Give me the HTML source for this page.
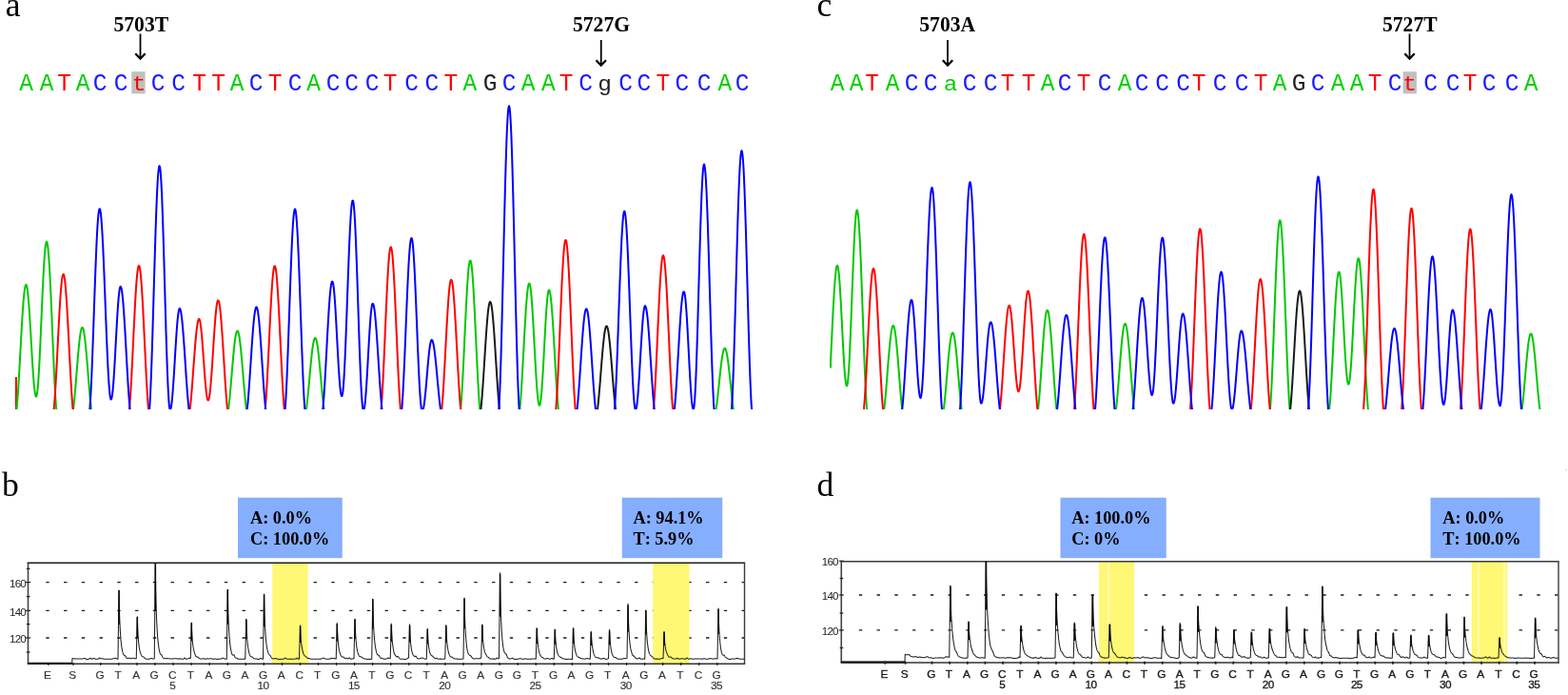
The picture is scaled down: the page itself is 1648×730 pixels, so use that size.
<!DOCTYPE html>
<html lang="en"><head><meta charset="utf-8"><title>Sequencing chromatograms and pyrograms</title>
<style>html,body{margin:0;padding:0;background:#fff}body{width:1648px;height:730px;overflow:hidden}svg{display:block}</style></head><body>
<svg width="1648" height="730" viewBox="0 0 1648 730">
<rect width="1648" height="730" fill="#fff"/>
<g font-family="'Liberation Serif', serif" font-size="35.6" fill="#000">
<text x="5.8" y="16.6">a</text><text x="858.6" y="16.6">c</text><text x="2" y="520.9">b</text><text x="858.6" y="520.9">d</text></g>
<g font-family="'Liberation Serif', serif" font-weight="bold" font-size="21.6" fill="#000">
<text transform="translate(119.50 33.3) scale(1 1.08)">5703T</text>
<text transform="translate(602.00 33.3) scale(1 1.08)">5727G</text>
<text transform="translate(966.30 33.3) scale(1 1.08)">5703A</text>
<text transform="translate(1453.00 33.3) scale(1 1.08)">5727T</text>
</g>
<path d="M147.50 35.50 V61.50" fill="none" stroke="#000" stroke-width="1.8"/><path d="M142.30 56.30 L147.50 61.70 L152.70 56.30" fill="none" stroke="#000" stroke-width="2.3"/>
<path d="M631.75 42.00 V68.50" fill="none" stroke="#000" stroke-width="1.8"/><path d="M626.55 63.30 L631.75 68.70 L636.95 63.30" fill="none" stroke="#000" stroke-width="2.3"/>
<path d="M996.00 42.00 V68.50" fill="none" stroke="#000" stroke-width="1.8"/><path d="M990.80 63.30 L996.00 68.70 L1001.20 63.30" fill="none" stroke="#000" stroke-width="2.3"/>
<path d="M1481.50 35.50 V61.50" fill="none" stroke="#000" stroke-width="1.8"/><path d="M1476.30 56.30 L1481.50 61.70 L1486.70 56.30" fill="none" stroke="#000" stroke-width="2.3"/>
<rect x="138.3" y="75.2" width="14.3" height="23.2" fill="#c0c0c0"/>
<rect x="1474.6" y="75.2" width="14.3" height="23.2" fill="#c0c0c0"/>
<g font-family="'Liberation Mono', monospace" font-size="25.0" text-anchor="middle">
<text transform="translate(27.50 95.20) scale(0.98 1.0)" fill="#00d000">A</text>
<text transform="translate(49.00 95.20) scale(0.98 1.0)" fill="#00d000">A</text>
<text transform="translate(67.50 95.20) scale(0.98 1.0)" fill="#ff0000">T</text>
<text transform="translate(87.00 95.20) scale(0.98 1.0)" fill="#00d000">A</text>
<text transform="translate(105.00 95.20) scale(0.98 1.0)" fill="#1a1aff">C</text>
<text transform="translate(127.00 95.20) scale(0.98 1.0)" fill="#1a1aff">C</text>
<text transform="translate(146.00 95.20) scale(0.98 0.85)" fill="#ff0000">t</text>
<text transform="translate(166.00 95.20) scale(0.98 1.0)" fill="#1a1aff">C</text>
<text transform="translate(187.50 95.20) scale(0.98 1.0)" fill="#1a1aff">C</text>
<text transform="translate(209.50 95.20) scale(0.98 1.0)" fill="#ff0000">T</text>
<text transform="translate(229.50 95.20) scale(0.98 1.0)" fill="#ff0000">T</text>
<text transform="translate(249.00 95.20) scale(0.98 1.0)" fill="#00d000">A</text>
<text transform="translate(269.00 95.20) scale(0.98 1.0)" fill="#1a1aff">C</text>
<text transform="translate(289.00 95.20) scale(0.98 1.0)" fill="#ff0000">T</text>
<text transform="translate(310.00 95.20) scale(0.98 1.0)" fill="#1a1aff">C</text>
<text transform="translate(329.50 95.20) scale(0.98 1.0)" fill="#00d000">A</text>
<text transform="translate(350.00 95.20) scale(0.98 1.0)" fill="#1a1aff">C</text>
<text transform="translate(369.50 95.20) scale(0.98 1.0)" fill="#1a1aff">C</text>
<text transform="translate(391.00 95.20) scale(0.98 1.0)" fill="#1a1aff">C</text>
<text transform="translate(410.00 95.20) scale(0.98 1.0)" fill="#ff0000">T</text>
<text transform="translate(432.50 95.20) scale(0.98 1.0)" fill="#1a1aff">C</text>
<text transform="translate(453.75 95.20) scale(0.98 1.0)" fill="#1a1aff">C</text>
<text transform="translate(473.75 95.20) scale(0.98 1.0)" fill="#ff0000">T</text>
<text transform="translate(493.75 95.20) scale(0.98 1.0)" fill="#00d000">A</text>
<text transform="translate(515.00 95.20) scale(0.98 1.0)" fill="#222222">G</text>
<text transform="translate(535.00 95.20) scale(0.98 1.0)" fill="#1a1aff">C</text>
<text transform="translate(555.00 95.20) scale(0.98 1.0)" fill="#00d000">A</text>
<text transform="translate(576.25 95.20) scale(0.98 1.0)" fill="#00d000">A</text>
<text transform="translate(595.00 95.20) scale(0.98 1.0)" fill="#ff0000">T</text>
<text transform="translate(615.50 95.20) scale(0.98 1.0)" fill="#1a1aff">C</text>
<text transform="translate(635.50 95.20) scale(0.98 0.85)" fill="#222222">g</text>
<text transform="translate(657.50 95.20) scale(0.98 1.0)" fill="#1a1aff">C</text>
<text transform="translate(676.75 95.20) scale(0.98 1.0)" fill="#1a1aff">C</text>
<text transform="translate(696.75 95.20) scale(0.98 1.0)" fill="#ff0000">T</text>
<text transform="translate(716.75 95.20) scale(0.98 1.0)" fill="#1a1aff">C</text>
<text transform="translate(740.00 95.20) scale(0.98 1.0)" fill="#1a1aff">C</text>
<text transform="translate(761.75 95.20) scale(0.98 1.0)" fill="#00d000">A</text>
<text transform="translate(780.00 95.20) scale(0.98 1.0)" fill="#1a1aff">C</text>
</g>
<g font-family="'Liberation Mono', monospace" font-size="25.0" text-anchor="middle">
<text transform="translate(880.00 95.20) scale(0.98 1.0)" fill="#00d000">A</text>
<text transform="translate(900.00 95.20) scale(0.98 1.0)" fill="#00d000">A</text>
<text transform="translate(916.50 95.20) scale(0.98 1.0)" fill="#ff0000">T</text>
<text transform="translate(938.00 95.20) scale(0.98 1.0)" fill="#00d000">A</text>
<text transform="translate(958.00 95.20) scale(0.98 1.0)" fill="#1a1aff">C</text>
<text transform="translate(978.00 95.20) scale(0.98 1.0)" fill="#1a1aff">C</text>
<text transform="translate(999.00 95.20) scale(0.98 0.85)" fill="#00d000">a</text>
<text transform="translate(1019.00 95.20) scale(0.98 1.0)" fill="#1a1aff">C</text>
<text transform="translate(1041.00 95.20) scale(0.98 1.0)" fill="#1a1aff">C</text>
<text transform="translate(1059.00 95.20) scale(0.98 1.0)" fill="#ff0000">T</text>
<text transform="translate(1081.00 95.20) scale(0.98 1.0)" fill="#ff0000">T</text>
<text transform="translate(1101.00 95.20) scale(0.98 1.0)" fill="#00d000">A</text>
<text transform="translate(1119.00 95.20) scale(0.98 1.0)" fill="#1a1aff">C</text>
<text transform="translate(1139.00 95.20) scale(0.98 1.0)" fill="#ff0000">T</text>
<text transform="translate(1161.00 95.20) scale(0.98 1.0)" fill="#1a1aff">C</text>
<text transform="translate(1182.00 95.20) scale(0.98 1.0)" fill="#00d000">A</text>
<text transform="translate(1200.00 95.20) scale(0.98 1.0)" fill="#1a1aff">C</text>
<text transform="translate(1221.50 95.20) scale(0.98 1.0)" fill="#1a1aff">C</text>
<text transform="translate(1243.50 95.20) scale(0.98 1.0)" fill="#1a1aff">C</text>
<text transform="translate(1260.00 95.20) scale(0.98 1.0)" fill="#ff0000">T</text>
<text transform="translate(1282.00 95.20) scale(0.98 1.0)" fill="#1a1aff">C</text>
<text transform="translate(1305.00 95.20) scale(0.98 1.0)" fill="#1a1aff">C</text>
<text transform="translate(1325.00 95.20) scale(0.98 1.0)" fill="#ff0000">T</text>
<text transform="translate(1345.00 95.20) scale(0.98 1.0)" fill="#00d000">A</text>
<text transform="translate(1365.00 95.20) scale(0.98 1.0)" fill="#222222">G</text>
<text transform="translate(1385.00 95.20) scale(0.98 1.0)" fill="#1a1aff">C</text>
<text transform="translate(1406.00 95.20) scale(0.98 1.0)" fill="#00d000">A</text>
<text transform="translate(1426.00 95.20) scale(0.98 1.0)" fill="#00d000">A</text>
<text transform="translate(1445.00 95.20) scale(0.98 1.0)" fill="#ff0000">T</text>
<text transform="translate(1466.00 95.20) scale(0.98 1.0)" fill="#1a1aff">C</text>
<text transform="translate(1481.50 95.20) scale(0.98 0.85)" fill="#ff0000">t</text>
<text transform="translate(1503.50 95.20) scale(0.98 1.0)" fill="#1a1aff">C</text>
<text transform="translate(1527.00 95.20) scale(0.98 1.0)" fill="#1a1aff">C</text>
<text transform="translate(1545.00 95.20) scale(0.98 1.0)" fill="#ff0000">T</text>
<text transform="translate(1565.00 95.20) scale(0.98 1.0)" fill="#1a1aff">C</text>
<text transform="translate(1589.00 95.20) scale(0.98 1.0)" fill="#1a1aff">C</text>
<text transform="translate(1609.00 95.20) scale(0.98 1.0)" fill="#00d000">A</text>
</g>
<path d="M16.9 396 V430" stroke="#ff0000" stroke-width="2" fill="none"/>
<clipPath id="ca"><rect x="15.5" y="100" width="780.5" height="330.0"/></clipPath>
<g clip-path="url(#ca)">
<path d="M17.0 433.9 L17.5 429.6 L18.0 424.3 L18.5 418.0 L19.0 410.9 L19.5 403.1 L20.0 394.8 L20.5 386.0 L21.0 376.9 L21.5 367.7 L22.0 358.5 L22.5 349.5 L23.0 340.8 L23.5 332.7 L24.0 325.1 L24.5 318.4 L25.0 312.5 L25.5 307.5 L26.0 303.7 L26.5 300.9 L27.0 299.4 L27.5 299.0 L28.0 299.9 L28.5 302.1 L29.0 305.5 L29.5 310.0 L30.0 315.6 L30.5 322.1 L31.0 329.4 L31.5 337.3 L32.0 345.7 L32.5 354.3 L33.0 363.0 L33.5 371.6 L34.0 379.9 L34.5 387.7 L35.0 394.8 L35.5 401.2 L36.0 406.6 L36.5 410.9 L37.0 414.0 L37.5 416.0 L38.0 416.6 L38.5 415.8 L39.0 413.3 L39.5 409.2 L40.0 403.7 L40.5 396.7 L41.0 388.5 L41.5 379.2 L42.0 369.0 L42.5 358.2 L43.0 346.8 L43.5 335.2 L44.0 323.7 L44.5 312.3 L45.0 301.5 L45.5 291.3 L46.0 282.0 L46.5 273.8 L47.0 266.8 L47.5 261.3 L48.0 257.2 L48.5 254.7 L49.0 253.9 L49.5 254.7 L50.0 257.1 L50.5 261.0 L51.0 266.4 L51.5 273.1 L52.0 281.2 L52.5 290.3 L53.0 300.4 L53.5 311.3 L54.0 322.9 L54.5 334.8 L55.0 347.0 L55.5 359.1 L56.0 371.0 L56.5 382.6 L57.0 393.5 L57.5 403.6 L58.0 412.7 L58.5 420.8 L59.0 427.5 L59.5 432.9 L60.0 436.8 M76.5 433.6 L77.0 430.1 L77.5 425.9 L78.0 421.2 L78.5 416.0 L79.0 410.4 L79.5 404.4 L80.0 398.3 L80.5 392.0 L81.0 385.7 L81.5 379.6 L82.0 373.6 L82.5 368.0 L83.0 362.8 L83.5 358.1 L84.0 353.9 L84.5 350.4 L85.0 347.7 L85.5 345.6 L86.0 344.4 L86.5 344.0 L87.0 344.4 L87.5 345.6 L88.0 347.7 L88.5 350.4 L89.0 353.9 L89.5 358.1 L90.0 362.8 L90.5 368.0 L91.0 373.6 L91.5 379.6 L92.0 385.7 L92.5 392.0 L93.0 398.3 L93.5 404.4 L94.0 410.4 L94.5 416.0 L95.0 421.2 L95.5 425.9 L96.0 430.1 L96.5 433.6 M239.5 433.8 L240.0 430.4 L240.5 426.5 L241.0 421.9 L241.5 416.9 L242.0 411.4 L242.5 405.7 L243.0 399.8 L243.5 393.8 L244.0 387.7 L244.5 381.8 L245.0 376.1 L245.5 370.6 L246.0 365.6 L246.5 361.0 L247.0 357.1 L247.5 353.7 L248.0 351.0 L248.5 349.1 L249.0 347.9 L249.5 347.5 L250.0 347.9 L250.5 349.1 L251.0 351.0 L251.5 353.7 L252.0 357.1 L252.5 361.0 L253.0 365.6 L253.5 370.6 L254.0 376.1 L254.5 381.8 L255.0 387.7 L255.5 393.8 L256.0 399.8 L256.5 405.7 L257.0 411.4 L257.5 416.9 L258.0 421.9 L258.5 426.5 L259.0 430.4 L259.5 433.8 M321.0 435.6 L321.5 432.8 L322.0 429.5 L322.5 425.5 L323.0 421.1 L323.5 416.3 L324.0 411.2 L324.5 405.8 L325.0 400.3 L325.5 394.7 L326.0 389.2 L326.5 383.8 L327.0 378.7 L327.5 373.9 L328.0 369.5 L328.5 365.5 L329.0 362.2 L329.5 359.4 L330.0 357.3 L330.5 355.8 L331.0 355.1 L331.5 355.1 L332.0 355.8 L332.5 357.3 L333.0 359.4 L333.5 362.2 L334.0 365.5 L334.5 369.5 L335.0 373.9 L335.5 378.7 L336.0 383.8 L336.5 389.2 L337.0 394.7 L337.5 400.3 L338.0 405.8 L338.5 411.2 L339.0 416.3 L339.5 421.1 L340.0 425.5 L340.5 429.5 L341.0 432.8 L341.5 435.6 M483.5 435.6 L484.0 431.4 L484.5 426.0 L485.0 419.3 L485.5 411.6 L486.0 403.0 L486.5 393.6 L487.0 383.5 L487.5 373.0 L488.0 362.2 L488.5 351.3 L489.0 340.5 L489.5 330.0 L490.0 319.9 L490.5 310.5 L491.0 301.9 L491.5 294.2 L492.0 287.5 L492.5 282.1 L493.0 277.9 L493.5 275.1 L494.0 273.7 L494.5 273.7 L495.0 275.1 L495.5 277.9 L496.0 282.1 L496.5 287.5 L497.0 294.2 L497.5 301.9 L498.0 310.5 L498.5 319.9 L499.0 330.0 L499.5 340.5 L500.0 351.3 L500.5 362.2 L501.0 373.0 L501.5 383.5 L502.0 393.6 L502.5 403.0 L503.0 411.6 L503.5 419.3 L504.0 426.0 L504.5 431.4 L505.0 435.6 M545.5 436.2 L546.0 432.7 L546.5 428.0 L547.0 422.3 L547.5 415.7 L548.0 408.3 L548.5 400.3 L549.0 391.7 L549.5 382.7 L550.0 373.4 L550.5 364.1 L551.0 354.8 L551.5 345.8 L552.0 337.2 L552.5 329.2 L553.0 321.8 L553.5 315.2 L554.0 309.5 L554.5 304.8 L555.0 301.3 L555.5 298.9 L556.0 297.7 L556.5 297.7 L557.0 299.0 L557.5 301.7 L558.0 305.7 L558.5 310.9 L559.0 317.2 L559.5 324.4 L560.0 332.4 L560.5 341.0 L561.0 350.1 L561.5 359.4 L562.0 368.8 L562.5 378.0 L563.0 386.9 L563.5 395.2 L564.0 402.8 L564.5 409.6 L565.0 415.3 L565.5 419.9 L566.0 423.3 L566.5 425.3 L567.0 426.0 L567.5 425.3 L568.0 423.0 L568.5 419.4 L569.0 414.4 L569.5 408.2 L570.0 401.0 L570.5 392.8 L571.0 384.0 L571.5 374.8 L572.0 365.2 L572.5 355.7 L573.0 346.5 L573.5 337.7 L574.0 329.5 L574.5 322.3 L575.0 316.1 L575.5 311.1 L576.0 307.5 L576.5 305.2 L577.0 304.5 L577.5 305.1 L578.0 306.8 L578.5 309.7 L579.0 313.6 L579.5 318.5 L580.0 324.3 L580.5 331.0 L581.0 338.4 L581.5 346.3 L582.0 354.7 L582.5 363.4 L583.0 372.2 L583.5 381.1 L584.0 389.8 L584.5 398.2 L585.0 406.1 L585.5 413.5 L586.0 420.2 L586.5 426.0 L587.0 430.9 L587.5 434.8 M752.0 433.7 L752.5 430.8 L753.0 427.4 L753.5 423.5 L754.0 419.3 L754.5 414.8 L755.0 410.1 L755.5 405.3 L756.0 400.4 L756.5 395.6 L757.0 390.9 L757.5 386.5 L758.0 382.2 L758.5 378.4 L759.0 375.0 L759.5 372.0 L760.0 369.6 L760.5 367.7 L761.0 366.5 L761.5 365.8 L762.0 365.8 L762.5 366.5 L763.0 367.7 L763.5 369.6 L764.0 372.0 L764.5 375.0 L765.0 378.4 L765.5 382.2 L766.0 386.5 L766.5 390.9 L767.0 395.6 L767.5 400.4 L768.0 405.3 L768.5 410.1 L769.0 414.8 L769.5 419.3 L770.0 423.5 L770.5 427.4 L771.0 430.8 L771.5 433.7" fill="none" stroke="#00c800" stroke-width="2.0" stroke-linejoin="round"/>
<path d="M56.0 435.0 L56.5 430.8 L57.0 425.5 L57.5 419.1 L58.0 411.8 L58.5 403.7 L59.0 394.9 L59.5 385.6 L60.0 375.9 L60.5 366.0 L61.0 356.1 L61.5 346.3 L62.0 336.8 L62.5 327.7 L63.0 319.3 L63.5 311.7 L64.0 304.9 L64.5 299.2 L65.0 294.6 L65.5 291.1 L66.0 288.9 L66.5 288.0 L67.0 288.4 L67.5 290.1 L68.0 293.0 L68.5 297.2 L69.0 302.5 L69.5 308.9 L70.0 316.2 L70.5 324.3 L71.0 333.1 L71.5 342.4 L72.0 352.1 L72.5 362.0 L73.0 371.9 L73.5 381.7 L74.0 391.2 L74.5 400.3 L75.0 408.7 L75.5 416.3 L76.0 423.1 L76.5 428.8 L77.0 433.4 M135.5 433.9 L136.0 429.2 L136.5 423.4 L137.0 416.4 L137.5 408.5 L138.0 399.8 L138.5 390.3 L139.0 380.3 L139.5 370.0 L140.0 359.5 L140.5 349.0 L141.0 338.7 L141.5 328.7 L142.0 319.2 L142.5 310.5 L143.0 302.6 L143.5 295.6 L144.0 289.8 L144.5 285.1 L145.0 281.7 L145.5 279.7 L146.0 279.0 L146.5 279.7 L147.0 281.7 L147.5 285.1 L148.0 289.8 L148.5 295.6 L149.0 302.6 L149.5 310.5 L150.0 319.2 L150.5 328.7 L151.0 338.7 L151.5 349.0 L152.0 359.5 L152.5 370.0 L153.0 380.3 L153.5 390.3 L154.0 399.8 L154.5 408.5 L155.0 416.4 L155.5 423.4 L156.0 429.2 L156.5 433.9 M199.0 434.6 L199.5 431.2 L200.0 427.0 L200.5 422.1 L201.0 416.7 L201.5 410.7 L202.0 404.4 L202.5 397.7 L203.0 390.9 L203.5 384.1 L204.0 377.3 L204.5 370.6 L205.0 364.3 L205.5 358.3 L206.0 352.9 L206.5 348.0 L207.0 343.8 L207.5 340.4 L208.0 337.8 L208.5 336.0 L209.0 335.1 L209.5 335.1 L210.0 336.3 L210.5 338.6 L211.0 342.0 L211.5 346.3 L212.0 351.5 L212.5 357.4 L213.0 363.9 L213.5 370.7 L214.0 377.8 L214.5 384.8 L215.0 391.6 L215.5 398.1 L216.0 404.0 L216.5 409.2 L217.0 413.5 L217.5 416.9 L218.0 419.2 L218.5 420.4 L219.0 420.4 L219.5 419.2 L220.0 416.9 L220.5 413.5 L221.0 409.0 L221.5 403.7 L222.0 397.6 L222.5 390.8 L223.0 383.5 L223.5 375.8 L224.0 368.0 L224.5 360.2 L225.0 352.5 L225.5 345.2 L226.0 338.4 L226.5 332.3 L227.0 327.0 L227.5 322.5 L228.0 319.1 L228.5 316.8 L229.0 315.6 L229.5 315.6 L230.0 316.7 L230.5 318.8 L231.0 321.9 L231.5 326.0 L232.0 330.9 L232.5 336.7 L233.0 343.2 L233.5 350.2 L234.0 357.7 L234.5 365.6 L235.0 373.7 L235.5 381.8 L236.0 389.9 L236.5 397.8 L237.0 405.3 L237.5 412.3 L238.0 418.8 L238.5 424.6 L239.0 429.5 L239.5 433.6 M278.0 435.7 L278.5 431.7 L279.0 426.5 L279.5 420.1 L280.0 412.6 L280.5 404.3 L281.0 395.2 L281.5 385.5 L282.0 375.3 L282.5 364.9 L283.0 354.4 L283.5 343.9 L284.0 333.8 L284.5 324.1 L285.0 315.0 L285.5 306.6 L286.0 299.2 L286.5 292.8 L287.0 287.5 L287.5 283.5 L288.0 280.8 L288.5 279.4 L289.0 279.4 L289.5 280.8 L290.0 283.5 L290.5 287.5 L291.0 292.8 L291.5 299.2 L292.0 306.6 L292.5 315.0 L293.0 324.1 L293.5 333.8 L294.0 343.9 L294.5 354.4 L295.0 364.9 L295.5 375.3 L296.0 385.5 L296.5 395.2 L297.0 404.3 L297.5 412.6 L298.0 420.1 L298.5 426.5 L299.0 431.7 L299.5 435.7 M400.0 435.2 L400.5 430.7 L401.0 424.8 L401.5 417.6 L402.0 409.2 L402.5 399.9 L403.0 389.6 L403.5 378.7 L404.0 367.3 L404.5 355.6 L405.0 343.8 L405.5 332.1 L406.0 320.7 L406.5 309.8 L407.0 299.5 L407.5 290.2 L408.0 281.8 L408.5 274.6 L409.0 268.7 L409.5 264.2 L410.0 261.1 L410.5 259.6 L411.0 259.6 L411.5 261.1 L412.0 264.2 L412.5 268.7 L413.0 274.6 L413.5 281.8 L414.0 290.2 L414.5 299.5 L415.0 309.8 L415.5 320.7 L416.0 332.1 L416.5 343.8 L417.0 355.6 L417.5 367.3 L418.0 378.7 L418.5 389.6 L419.0 399.9 L419.5 409.2 L420.0 417.6 L420.5 424.8 L421.0 430.7 L421.5 435.2 M463.5 436.1 L464.0 432.5 L464.5 427.7 L465.0 421.9 L465.5 415.1 L466.0 407.5 L466.5 399.2 L467.0 390.4 L467.5 381.1 L468.0 371.7 L468.5 362.1 L469.0 352.6 L469.5 343.4 L470.0 334.5 L470.5 326.2 L471.0 318.7 L471.5 311.9 L472.0 306.1 L472.5 301.3 L473.0 297.6 L473.5 295.2 L474.0 293.9 L474.5 293.9 L475.0 295.2 L475.5 297.6 L476.0 301.3 L476.5 306.1 L477.0 311.9 L477.5 318.7 L478.0 326.2 L478.5 334.5 L479.0 343.4 L479.5 352.6 L480.0 362.1 L480.5 371.7 L481.0 381.1 L481.5 390.4 L482.0 399.2 L482.5 407.5 L483.0 415.1 L483.5 421.9 L484.0 427.7 L484.5 432.5 L485.0 436.1 M583.5 436.8 L584.0 432.8 L584.5 427.4 L585.0 420.6 L585.5 412.5 L586.0 403.2 L586.5 393.0 L587.0 382.0 L587.5 370.3 L588.0 358.3 L588.5 346.0 L589.0 333.7 L589.5 321.7 L590.0 310.0 L590.5 299.0 L591.0 288.8 L591.5 279.5 L592.0 271.4 L592.5 264.6 L593.0 259.2 L593.5 255.2 L594.0 252.8 L594.5 252.0 L595.0 252.8 L595.5 255.2 L596.0 259.2 L596.5 264.6 L597.0 271.4 L597.5 279.5 L598.0 288.8 L598.5 299.0 L599.0 310.0 L599.5 321.7 L600.0 333.7 L600.5 346.0 L601.0 358.3 L601.5 370.3 L602.0 382.0 L602.5 393.0 L603.0 403.2 L603.5 412.5 L604.0 420.6 L604.5 427.4 L605.0 432.8 L605.5 436.8 M686.5 433.5 L687.0 428.5 L687.5 422.3 L688.0 414.8 L688.5 406.4 L689.0 397.1 L689.5 387.0 L690.0 376.4 L690.5 365.3 L691.0 354.1 L691.5 342.9 L692.0 331.9 L692.5 321.3 L693.0 311.2 L693.5 301.8 L694.0 293.4 L694.5 286.0 L695.0 279.8 L695.5 274.8 L696.0 271.2 L696.5 269.0 L697.0 268.2 L697.5 269.0 L698.0 271.2 L698.5 274.8 L699.0 279.8 L699.5 286.0 L700.0 293.4 L700.5 301.8 L701.0 311.2 L701.5 321.3 L702.0 331.9 L702.5 342.9 L703.0 354.1 L703.5 365.3 L704.0 376.4 L704.5 387.0 L705.0 397.1 L705.5 406.4 L706.0 414.8 L706.5 422.3 L707.0 428.5 L707.5 433.5" fill="none" stroke="#ff0000" stroke-width="2.0" stroke-linejoin="round"/>
<path d="M505.0 433.3 L505.5 429.2 L506.0 424.2 L506.5 418.4 L507.0 412.0 L507.5 405.0 L508.0 397.5 L508.5 389.7 L509.0 381.7 L509.5 373.7 L510.0 365.7 L510.5 358.0 L511.0 350.6 L511.5 343.7 L512.0 337.3 L512.5 331.7 L513.0 326.9 L513.5 323.0 L514.0 320.0 L514.5 318.0 L515.0 317.1 L515.5 317.2 L516.0 318.3 L516.5 320.5 L517.0 323.7 L517.5 327.8 L518.0 332.8 L518.5 338.6 L519.0 345.0 L519.5 352.0 L520.0 359.5 L520.5 367.3 L521.0 375.3 L521.5 383.3 L522.0 391.3 L522.5 399.0 L523.0 406.4 L523.5 413.3 L524.0 419.7 L524.5 425.3 L525.0 430.1 L525.5 434.0 M627.5 433.5 L628.0 429.9 L628.5 425.7 L629.0 420.9 L629.5 415.6 L630.0 409.9 L630.5 403.9 L631.0 397.6 L631.5 391.2 L632.0 384.9 L632.5 378.6 L633.0 372.6 L633.5 366.9 L634.0 361.6 L634.5 356.8 L635.0 352.6 L635.5 349.0 L636.0 346.2 L636.5 344.2 L637.0 342.9 L637.5 342.5 L638.0 342.9 L638.5 344.2 L639.0 346.2 L639.5 349.0 L640.0 352.6 L640.5 356.8 L641.0 361.6 L641.5 366.9 L642.0 372.6 L642.5 378.6 L643.0 384.9 L643.5 391.2 L644.0 397.6 L644.5 403.9 L645.0 409.9 L645.5 415.6 L646.0 420.9 L646.5 425.7 L647.0 429.9 L647.5 433.5" fill="none" stroke="#1a1a1a" stroke-width="2.0" stroke-linejoin="round"/>
<path d="M94.0 433.7 L94.5 428.0 L95.0 420.6 L95.5 411.7 L96.0 401.3 L96.5 389.8 L97.0 377.2 L97.5 363.8 L98.0 349.8 L98.5 335.4 L99.0 321.0 L99.5 306.7 L100.0 292.8 L100.5 279.6 L101.0 267.1 L101.5 255.8 L102.0 245.7 L102.5 237.1 L103.0 230.0 L103.5 224.7 L104.0 221.1 L104.5 219.5 L105.0 219.6 L105.5 221.5 L106.0 225.0 L106.5 230.2 L107.0 236.9 L107.5 245.0 L108.0 254.4 L108.5 264.9 L109.0 276.3 L109.5 288.5 L110.0 301.2 L110.5 314.2 L111.0 327.3 L111.5 340.3 L112.0 352.9 L112.5 364.9 L113.0 376.2 L113.5 386.5 L114.0 395.6 L114.5 403.4 L115.0 409.8 L115.5 414.7 L116.0 417.9 L116.5 419.5 L117.0 419.3 L117.5 417.7 L118.0 414.7 L118.5 410.4 L119.0 404.8 L119.5 398.1 L120.0 390.5 L120.5 382.1 L121.0 373.2 L121.5 364.0 L122.0 354.7 L122.5 345.6 L123.0 336.7 L123.5 328.5 L124.0 321.1 L124.5 314.6 L125.0 309.3 L125.5 305.2 L126.0 302.4 L126.5 301.1 L127.0 301.2 L127.5 302.5 L128.0 305.0 L128.5 308.6 L129.0 313.2 L129.5 318.9 L130.0 325.4 L130.5 332.6 L131.0 340.6 L131.5 349.0 L132.0 357.8 L132.5 366.9 L133.0 376.0 L133.5 384.9 L134.0 393.7 L134.5 402.1 L135.0 409.9 L135.5 417.0 L136.0 423.3 L136.5 428.8 L137.0 433.2 M156.5 436.3 L157.0 431.2 L157.5 423.9 L158.0 414.6 L158.5 403.5 L159.0 390.8 L159.5 376.6 L160.0 361.2 L160.5 344.9 L161.0 327.9 L161.5 310.6 L162.0 293.3 L162.5 276.1 L163.0 259.5 L163.5 243.8 L164.0 229.1 L164.5 215.7 L165.0 203.9 L165.5 193.9 L166.0 185.8 L166.5 179.8 L167.0 175.9 L167.5 174.3 L168.0 175.1 L168.5 178.4 L169.0 184.1 L169.5 192.1 L170.0 202.2 L170.5 214.4 L171.0 228.3 L171.5 243.6 L172.0 260.1 L172.5 277.4 L173.0 295.2 L173.5 313.2 L174.0 330.9 L174.5 348.1 L175.0 364.4 L175.5 379.4 L176.0 393.0 L176.5 404.8 L177.0 414.5 L177.5 422.1 L178.0 427.3 L178.5 430.0 L179.0 430.4 L179.5 429.2 L180.0 426.8 L180.5 423.1 L181.0 418.3 L181.5 412.5 L182.0 405.8 L182.5 398.4 L183.0 390.5 L183.5 382.3 L184.0 373.9 L184.5 365.6 L185.0 357.6 L185.5 350.1 L186.0 343.3 L186.5 337.3 L187.0 332.3 L187.5 328.4 L188.0 325.7 L188.5 324.2 L189.0 324.1 L189.5 325.0 L190.0 326.8 L190.5 329.7 L191.0 333.4 L191.5 337.9 L192.0 343.2 L192.5 349.1 L193.0 355.7 L193.5 362.6 L194.0 369.9 L194.5 377.4 L195.0 385.0 L195.5 392.6 L196.0 399.9 L196.5 407.0 L197.0 413.6 L197.5 419.7 L198.0 425.1 L198.5 429.8 L199.0 433.7 M259.0 435.5 L259.5 432.1 L260.0 427.9 L260.5 422.8 L261.0 417.0 L261.5 410.6 L262.0 403.7 L262.5 396.5 L263.0 388.9 L263.5 381.2 L264.0 373.6 L264.5 366.0 L265.0 358.8 L265.5 351.9 L266.0 345.5 L266.5 339.7 L267.0 334.6 L267.5 330.4 L268.0 327.0 L268.5 324.5 L269.0 323.0 L269.5 322.5 L270.0 323.0 L270.5 324.5 L271.0 327.0 L271.5 330.4 L272.0 334.6 L272.5 339.7 L273.0 345.5 L273.5 351.9 L274.0 358.8 L274.5 366.0 L275.0 373.6 L275.5 381.2 L276.0 388.9 L276.5 396.5 L277.0 403.7 L277.5 410.6 L278.0 417.0 L278.5 422.8 L279.0 427.9 L279.5 432.1 L280.0 435.5 M299.0 436.2 L299.5 431.6 L300.0 425.2 L300.5 417.2 L301.0 407.7 L301.5 396.9 L302.0 384.9 L302.5 371.9 L303.0 358.3 L303.5 344.1 L304.0 329.8 L304.5 315.4 L305.0 301.2 L305.5 287.6 L306.0 274.6 L306.5 262.6 L307.0 251.8 L307.5 242.3 L308.0 234.3 L308.5 227.9 L309.0 223.3 L309.5 220.4 L310.0 219.5 L310.5 220.4 L311.0 223.3 L311.5 227.9 L312.0 234.3 L312.5 242.3 L313.0 251.8 L313.5 262.6 L314.0 274.6 L314.5 287.6 L315.0 301.2 L315.5 315.4 L316.0 329.8 L316.5 344.1 L317.0 358.3 L317.5 371.9 L318.0 384.9 L318.5 396.9 L319.0 407.7 L319.5 417.2 L320.0 425.2 L320.5 431.6 L321.0 436.2 M338.5 436.2 L339.0 432.5 L339.5 427.8 L340.0 422.1 L340.5 415.4 L341.0 407.9 L341.5 399.7 L342.0 391.0 L342.5 381.8 L343.0 372.5 L343.5 363.0 L344.0 353.7 L344.5 344.5 L345.0 335.8 L345.5 327.6 L346.0 320.1 L346.5 313.4 L347.0 307.7 L347.5 303.0 L348.0 299.3 L348.5 296.9 L349.0 295.7 L349.5 295.7 L350.0 297.2 L350.5 300.1 L351.0 304.4 L351.5 310.0 L352.0 316.7 L352.5 324.3 L353.0 332.8 L353.5 341.8 L354.0 351.1 L354.5 360.6 L355.0 370.0 L355.5 379.0 L356.0 387.4 L356.5 395.1 L357.0 401.8 L357.5 407.4 L358.0 411.7 L358.5 414.6 L359.0 416.1 L359.5 416.0 L360.0 414.1 L360.5 410.3 L361.0 404.7 L361.5 397.4 L362.0 388.6 L362.5 378.3 L363.0 366.8 L363.5 354.4 L364.0 341.1 L364.5 327.4 L365.0 313.4 L365.5 299.4 L366.0 285.6 L366.5 272.4 L367.0 259.9 L367.5 248.5 L368.0 238.2 L368.5 229.3 L369.0 222.0 L369.5 216.4 L370.0 212.7 L370.5 210.7 L371.0 210.8 L371.5 212.9 L372.0 217.2 L372.5 223.4 L373.0 231.6 L373.5 241.5 L374.0 252.9 L374.5 265.7 L375.0 279.5 L375.5 294.2 L376.0 309.3 L376.5 324.7 L377.0 340.0 L377.5 355.0 L378.0 369.3 L378.5 382.6 L379.0 394.7 L379.5 405.4 L380.0 414.5 L380.5 421.7 L381.0 427.0 L381.5 430.2 L382.0 431.2 L382.5 430.5 L383.0 428.4 L383.5 424.8 L384.0 420.0 L384.5 414.0 L385.0 407.0 L385.5 399.1 L386.0 390.6 L386.5 381.8 L387.0 372.7 L387.5 363.7 L388.0 355.1 L388.5 346.9 L389.0 339.4 L389.5 332.9 L390.0 327.5 L390.5 323.3 L391.0 320.4 L391.5 318.9 L392.0 318.9 L392.5 319.9 L393.0 322.0 L393.5 325.0 L394.0 329.0 L394.5 333.8 L395.0 339.4 L395.5 345.7 L396.0 352.6 L396.5 359.9 L397.0 367.5 L397.5 375.4 L398.0 383.3 L398.5 391.2 L399.0 398.9 L399.5 406.2 L400.0 413.1 L400.5 419.3 L401.0 425.0 L401.5 429.8 L402.0 433.7 M421.5 436.8 L422.0 432.8 L422.5 427.3 L423.0 420.4 L423.5 412.2 L424.0 402.8 L424.5 392.5 L425.0 381.4 L425.5 369.6 L426.0 357.4 L426.5 345.0 L427.0 332.6 L427.5 320.4 L428.0 308.6 L428.5 297.5 L429.0 287.2 L429.5 277.8 L430.0 269.6 L430.5 262.7 L431.0 257.2 L431.5 253.2 L432.0 250.8 L432.5 250.0 L433.0 250.9 L433.5 253.5 L434.0 257.9 L434.5 263.8 L435.0 271.3 L435.5 280.1 L436.0 290.1 L436.5 301.1 L437.0 312.9 L437.5 325.2 L438.0 337.8 L438.5 350.5 L439.0 363.0 L439.5 375.1 L440.0 386.5 L440.5 397.0 L441.0 406.5 L441.5 414.6 L442.0 421.3 L442.5 426.5 L443.0 430.0 L443.5 431.8 L444.0 431.9 L444.5 431.0 L445.0 429.1 L445.5 426.5 L446.0 423.0 L446.5 418.9 L447.0 414.1 L447.5 408.9 L448.0 403.3 L448.5 397.4 L449.0 391.6 L449.5 385.7 L450.0 380.1 L450.5 374.9 L451.0 370.1 L451.5 366.0 L452.0 362.5 L452.5 359.9 L453.0 358.0 L453.5 357.1 L454.0 357.1 L454.5 357.8 L455.0 359.2 L455.5 361.3 L456.0 364.0 L456.5 367.3 L457.0 371.1 L457.5 375.4 L458.0 380.1 L458.5 385.2 L459.0 390.4 L459.5 395.8 L460.0 401.2 L460.5 406.6 L461.0 411.8 L461.5 416.9 L462.0 421.6 L462.5 425.9 L463.0 429.7 L463.5 433.0 M524.0 434.4 L524.5 427.5 L525.0 418.0 L525.5 406.0 L526.0 391.9 L526.5 375.7 L527.0 357.8 L527.5 338.5 L528.0 318.2 L528.5 297.1 L529.0 275.6 L529.5 254.2 L530.0 233.1 L530.5 212.7 L531.0 193.4 L531.5 175.6 L532.0 159.4 L532.5 145.2 L533.0 133.3 L533.5 123.8 L534.0 116.9 L534.5 112.7 L535.0 111.2 L535.5 112.7 L536.0 116.9 L536.5 123.8 L537.0 133.3 L537.5 145.2 L538.0 159.4 L538.5 175.6 L539.0 193.4 L539.5 212.7 L540.0 233.1 L540.5 254.2 L541.0 275.6 L541.5 297.1 L542.0 318.2 L542.5 338.5 L543.0 357.8 L543.5 375.7 L544.0 391.9 L544.5 406.0 L545.0 418.0 L545.5 427.5 L546.0 434.4 M606.0 434.0 L606.5 430.2 L607.0 425.6 L607.5 420.3 L608.0 414.3 L608.5 407.7 L609.0 400.7 L609.5 393.4 L610.0 385.9 L610.5 378.3 L611.0 370.8 L611.5 363.5 L612.0 356.5 L612.5 350.0 L613.0 344.0 L613.5 338.6 L614.0 334.0 L614.5 330.2 L615.0 327.3 L615.5 325.4 L616.0 324.4 L616.5 324.4 L617.0 325.4 L617.5 327.3 L618.0 330.2 L618.5 334.0 L619.0 338.6 L619.5 344.0 L620.0 350.0 L620.5 356.5 L621.0 363.5 L621.5 370.8 L622.0 378.3 L622.5 385.9 L623.0 393.4 L623.5 400.7 L624.0 407.7 L624.5 414.3 L625.0 420.3 L625.5 425.6 L626.0 430.2 L626.5 434.0 M645.5 434.2 L646.0 428.7 L646.5 421.6 L647.0 412.9 L647.5 402.8 L648.0 391.5 L648.5 379.1 L649.0 366.0 L649.5 352.2 L650.0 338.0 L650.5 323.7 L651.0 309.6 L651.5 295.8 L652.0 282.6 L652.5 270.2 L653.0 258.9 L653.5 248.8 L654.0 240.1 L654.5 233.0 L655.0 227.5 L655.5 223.8 L656.0 222.0 L656.5 222.0 L657.0 223.8 L657.5 227.5 L658.0 233.0 L658.5 240.1 L659.0 248.7 L659.5 258.7 L660.0 270.0 L660.5 282.2 L661.0 295.2 L661.5 308.8 L662.0 322.6 L662.5 336.6 L663.0 350.3 L663.5 363.6 L664.0 376.3 L664.5 388.0 L665.0 398.7 L665.5 408.0 L666.0 415.9 L666.5 422.2 L667.0 426.8 L667.5 429.6 L668.0 430.5 L668.5 429.8 L669.0 427.8 L669.5 424.5 L670.0 420.1 L670.5 414.5 L671.0 408.0 L671.5 400.7 L672.0 392.8 L672.5 384.4 L673.0 375.9 L673.5 367.3 L674.0 359.0 L674.5 351.1 L675.0 343.8 L675.5 337.2 L676.0 331.7 L676.5 327.2 L677.0 323.9 L677.5 321.9 L678.0 321.2 L678.5 321.8 L679.0 323.3 L679.5 325.8 L680.0 329.2 L680.5 333.5 L681.0 338.6 L681.5 344.5 L682.0 350.9 L682.5 357.9 L683.0 365.3 L683.5 372.9 L684.0 380.6 L684.5 388.4 L685.0 396.0 L685.5 403.3 L686.0 410.3 L686.5 416.8 L687.0 422.6 L687.5 427.7 L688.0 432.0 L688.5 435.5 M708.5 433.1 L709.0 428.7 L709.5 423.4 L710.0 417.2 L710.5 410.3 L711.0 402.7 L711.5 394.6 L712.0 386.2 L712.5 377.5 L713.0 368.8 L713.5 360.1 L714.0 351.6 L714.5 343.5 L715.0 336.0 L715.5 329.0 L716.0 322.8 L716.5 317.5 L717.0 313.1 L717.5 309.8 L718.0 307.5 L718.5 306.4 L719.0 306.4 L719.5 308.0 L720.0 311.0 L720.5 315.4 L721.0 321.1 L721.5 327.9 L722.0 335.8 L722.5 344.4 L723.0 353.7 L723.5 363.3 L724.0 373.0 L724.5 382.6 L725.0 391.8 L725.5 400.5 L726.0 408.3 L726.5 415.2 L727.0 420.9 L727.5 425.3 L728.0 428.3 L728.5 429.8 L729.0 429.7 L729.5 427.2 L730.0 422.2 L730.5 414.9 L731.0 405.4 L731.5 393.9 L732.0 380.5 L732.5 365.6 L733.0 349.5 L733.5 332.4 L734.0 314.7 L734.5 296.8 L735.0 278.9 L735.5 261.5 L736.0 244.8 L736.5 229.3 L737.0 215.1 L737.5 202.6 L738.0 192.1 L738.5 183.6 L739.0 177.5 L739.5 173.8 L740.0 172.5 L740.5 173.6 L741.0 177.1 L741.5 182.7 L742.0 190.4 L742.5 200.1 L743.0 211.7 L743.5 224.8 L744.0 239.4 L744.5 255.1 L745.0 271.6 L745.5 288.8 L746.0 306.2 L746.5 323.7 L747.0 340.9 L747.5 357.4 L748.0 373.1 L748.5 387.7 L749.0 400.8 L749.5 412.4 L750.0 422.1 L750.5 429.8 L751.0 435.4 M768.5 435.2 L769.0 429.3 L769.5 421.1 L770.0 410.9 L770.5 398.7 L771.0 384.9 L771.5 369.6 L772.0 353.0 L772.5 335.6 L773.0 317.5 L773.5 299.1 L774.0 280.7 L774.5 262.7 L775.0 245.2 L775.5 228.7 L776.0 213.4 L776.5 199.5 L777.0 187.4 L777.5 177.1 L778.0 169.0 L778.5 163.1 L779.0 159.5 L779.5 158.2 L780.0 159.5 L780.5 163.1 L781.0 169.0 L781.5 177.1 L782.0 187.4 L782.5 199.5 L783.0 213.4 L783.5 228.7 L784.0 245.2 L784.5 262.7 L785.0 280.7 L785.5 299.1 L786.0 317.5 L786.5 335.6 L787.0 353.0 L787.5 369.6 L788.0 384.9 L788.5 398.7 L789.0 410.9 L789.5 421.1 L790.0 429.3 L790.5 435.2" fill="none" stroke="#0000ff" stroke-width="2.0" stroke-linejoin="round"/>
</g>
<path d="M873 378 V386.4" stroke="#00c800" stroke-width="2" fill="none"/>
<clipPath id="cc"><rect x="871.0" y="100" width="751.0" height="330.0"/></clipPath>
<g clip-path="url(#cc)">
<path d="M873.0 380.2 L873.5 369.9 L874.0 359.4 L874.5 348.9 L875.0 338.5 L875.5 328.5 L876.0 319.1 L876.5 310.3 L877.0 302.4 L877.5 295.4 L878.0 289.6 L878.5 284.9 L879.0 281.5 L879.5 279.4 L880.0 278.8 L880.5 279.5 L881.0 281.9 L881.5 285.7 L882.0 290.9 L882.5 297.3 L883.0 304.9 L883.5 313.4 L884.0 322.5 L884.5 332.2 L885.0 342.1 L885.5 352.0 L886.0 361.7 L886.5 370.9 L887.0 379.4 L887.5 386.9 L888.0 393.4 L888.5 398.6 L889.0 402.4 L889.5 404.7 L890.0 405.5 L890.5 404.5 L891.0 401.6 L891.5 396.8 L892.0 390.1 L892.5 381.9 L893.0 372.2 L893.5 361.2 L894.0 349.2 L894.5 336.4 L895.0 323.1 L895.5 309.6 L896.0 296.2 L896.5 283.1 L897.0 270.7 L897.5 259.2 L898.0 248.8 L898.5 239.8 L899.0 232.3 L899.5 226.6 L900.0 222.7 L900.5 220.7 L901.0 220.7 L901.5 222.6 L902.0 226.3 L902.5 231.8 L903.0 239.0 L903.5 247.7 L904.0 257.9 L904.5 269.3 L905.0 281.7 L905.5 295.0 L906.0 308.8 L906.5 323.1 L907.0 337.4 L907.5 351.7 L908.0 365.5 L908.5 378.8 L909.0 391.2 L909.5 402.6 L910.0 412.8 L910.5 421.5 L911.0 428.7 L911.5 434.2 M928.5 434.9 L929.0 431.7 L929.5 427.8 L930.0 423.3 L930.5 418.2 L931.0 412.7 L931.5 406.8 L932.0 400.6 L932.5 394.2 L933.0 387.8 L933.5 381.4 L934.0 375.2 L934.5 369.3 L935.0 363.8 L935.5 358.7 L936.0 354.2 L936.5 350.3 L937.0 347.1 L937.5 344.6 L938.0 342.9 L938.5 342.1 L939.0 342.1 L939.5 342.9 L940.0 344.6 L940.5 347.1 L941.0 350.3 L941.5 354.2 L942.0 358.7 L942.5 363.8 L943.0 369.3 L943.5 375.2 L944.0 381.4 L944.5 387.8 L945.0 394.2 L945.5 400.6 L946.0 406.8 L946.5 412.7 L947.0 418.2 L947.5 423.3 L948.0 427.8 L948.5 431.7 L949.0 434.9 M991.0 435.3 L991.5 432.4 L992.0 428.8 L992.5 424.6 L993.0 419.9 L993.5 414.8 L994.0 409.3 L994.5 403.6 L995.0 397.7 L995.5 391.8 L996.0 385.9 L996.5 380.2 L997.0 374.7 L997.5 369.6 L998.0 364.9 L998.5 360.7 L999.0 357.1 L999.5 354.2 L1000.0 351.9 L1000.5 350.4 L1001.0 349.6 L1001.5 349.6 L1002.0 350.4 L1002.5 351.9 L1003.0 354.2 L1003.5 357.1 L1004.0 360.7 L1004.5 364.9 L1005.0 369.6 L1005.5 374.7 L1006.0 380.2 L1006.5 385.9 L1007.0 391.8 L1007.5 397.7 L1008.0 403.6 L1008.5 409.3 L1009.0 414.8 L1009.5 419.9 L1010.0 424.6 L1010.5 428.8 L1011.0 432.4 L1011.5 435.3 M1090.5 434.1 L1091.0 430.4 L1091.5 425.8 L1092.0 420.5 L1092.5 414.6 L1093.0 408.1 L1093.5 401.2 L1094.0 394.0 L1094.5 386.6 L1095.0 379.1 L1095.5 371.7 L1096.0 364.5 L1096.5 357.6 L1097.0 351.1 L1097.5 345.2 L1098.0 339.9 L1098.5 335.4 L1099.0 331.6 L1099.5 328.8 L1100.0 326.8 L1100.5 325.9 L1101.0 325.9 L1101.5 326.8 L1102.0 328.8 L1102.5 331.6 L1103.0 335.4 L1103.5 339.9 L1104.0 345.2 L1104.5 351.1 L1105.0 357.6 L1105.5 364.5 L1106.0 371.7 L1106.5 379.1 L1107.0 386.6 L1107.5 394.0 L1108.0 401.2 L1108.5 408.1 L1109.0 414.6 L1109.5 420.5 L1110.0 425.8 L1110.5 430.4 L1111.0 434.1 M1172.5 433.3 L1173.0 429.7 L1173.5 425.4 L1174.0 420.4 L1174.5 415.0 L1175.0 409.1 L1175.5 402.9 L1176.0 396.5 L1176.5 390.0 L1177.0 383.5 L1177.5 377.1 L1178.0 370.9 L1178.5 365.0 L1179.0 359.6 L1179.5 354.6 L1180.0 350.3 L1180.5 346.7 L1181.0 343.8 L1181.5 341.7 L1182.0 340.4 L1182.5 340.0 L1183.0 340.4 L1183.5 341.7 L1184.0 343.8 L1184.5 346.7 L1185.0 350.3 L1185.5 354.6 L1186.0 359.6 L1186.5 365.0 L1187.0 370.9 L1187.5 377.1 L1188.0 383.5 L1188.5 390.0 L1189.0 396.5 L1189.5 402.9 L1190.0 409.1 L1190.5 415.0 L1191.0 420.4 L1191.5 425.4 L1192.0 429.7 L1192.5 433.3 M1334.5 434.5 L1335.0 429.2 L1335.5 422.4 L1336.0 414.1 L1336.5 404.4 L1337.0 393.6 L1337.5 381.8 L1338.0 369.2 L1338.5 356.0 L1339.0 342.5 L1339.5 328.8 L1340.0 315.3 L1340.5 302.1 L1341.0 289.5 L1341.5 277.6 L1342.0 266.8 L1342.5 257.2 L1343.0 248.8 L1343.5 242.0 L1344.0 236.8 L1344.5 233.3 L1345.0 231.5 L1345.5 231.5 L1346.0 233.3 L1346.5 236.8 L1347.0 242.0 L1347.5 248.8 L1348.0 257.2 L1348.5 266.8 L1349.0 277.6 L1349.5 289.5 L1350.0 302.1 L1350.5 315.3 L1351.0 328.8 L1351.5 342.5 L1352.0 356.0 L1352.5 369.2 L1353.0 381.8 L1353.5 393.6 L1354.0 404.4 L1354.5 414.1 L1355.0 422.4 L1355.5 429.2 L1356.0 434.5 M1396.5 435.9 L1397.0 432.0 L1397.5 427.0 L1398.0 420.8 L1398.5 413.7 L1399.0 405.7 L1399.5 396.9 L1400.0 387.6 L1400.5 377.8 L1401.0 367.8 L1401.5 357.7 L1402.0 347.7 L1402.5 337.9 L1403.0 328.6 L1403.5 319.8 L1404.0 311.8 L1404.5 304.7 L1405.0 298.5 L1405.5 293.5 L1406.0 289.6 L1406.5 287.0 L1407.0 285.7 L1407.5 285.7 L1408.0 287.1 L1408.5 290.0 L1409.0 294.2 L1409.5 299.7 L1410.0 306.2 L1410.5 313.7 L1411.0 322.0 L1411.5 330.8 L1412.0 340.0 L1412.5 349.3 L1413.0 358.4 L1413.5 367.3 L1414.0 375.5 L1414.5 383.0 L1415.0 389.6 L1415.5 395.0 L1416.0 399.2 L1416.5 402.1 L1417.0 403.6 L1417.5 403.6 L1418.0 402.1 L1418.5 399.2 L1419.0 394.9 L1419.5 389.3 L1420.0 382.6 L1420.5 374.8 L1421.0 366.2 L1421.5 357.0 L1422.0 347.4 L1422.5 337.5 L1423.0 327.6 L1423.5 318.0 L1424.0 308.8 L1424.5 300.2 L1425.0 292.4 L1425.5 285.7 L1426.0 280.1 L1426.5 275.8 L1427.0 272.9 L1427.5 271.4 L1428.0 271.4 L1428.5 272.9 L1429.0 275.7 L1429.5 280.0 L1430.0 285.5 L1430.5 292.2 L1431.0 300.0 L1431.5 308.7 L1432.0 318.3 L1432.5 328.5 L1433.0 339.2 L1433.5 350.1 L1434.0 361.1 L1434.5 372.1 L1435.0 382.7 L1435.5 392.9 L1436.0 402.5 L1436.5 411.3 L1437.0 419.1 L1437.5 425.8 L1438.0 431.3 L1438.5 435.5 M1599.0 434.0 L1599.5 430.8 L1600.0 426.9 L1600.5 422.5 L1601.0 417.6 L1601.5 412.4 L1602.0 406.8 L1602.5 401.1 L1603.0 395.2 L1603.5 389.4 L1604.0 383.7 L1604.5 378.1 L1605.0 372.9 L1605.5 368.0 L1606.0 363.6 L1606.5 359.7 L1607.0 356.5 L1607.5 353.9 L1608.0 352.0 L1608.5 350.9 L1609.0 350.5 L1609.5 350.9 L1610.0 352.0 L1610.5 353.9 L1611.0 356.5 L1611.5 359.7 L1612.0 363.6 L1612.5 368.0 L1613.0 372.9 L1613.5 378.1 L1614.0 383.7 L1614.5 389.4 L1615.0 395.2 L1615.5 401.1 L1616.0 406.8 L1616.5 412.4 L1617.0 417.6 L1617.5 422.5 L1618.0 426.9 L1618.5 430.8 L1619.0 434.0" fill="none" stroke="#00c800" stroke-width="2.0" stroke-linejoin="round"/>
<path d="M907.5 434.0 L908.0 429.4 L908.5 423.7 L909.0 416.9 L909.5 409.1 L910.0 400.5 L910.5 391.2 L911.0 381.4 L911.5 371.3 L912.0 361.0 L912.5 350.7 L913.0 340.6 L913.5 330.8 L914.0 321.5 L914.5 312.9 L915.0 305.1 L915.5 298.3 L916.0 292.6 L916.5 288.0 L917.0 284.7 L917.5 282.7 L918.0 282.0 L918.5 282.7 L919.0 284.7 L919.5 288.0 L920.0 292.6 L920.5 298.3 L921.0 305.1 L921.5 312.9 L922.0 321.5 L922.5 330.8 L923.0 340.6 L923.5 350.7 L924.0 361.0 L924.5 371.3 L925.0 381.4 L925.5 391.2 L926.0 400.5 L926.5 409.1 L927.0 416.9 L927.5 423.7 L928.0 429.4 L928.5 434.0 M1050.5 433.9 L1051.0 430.0 L1051.5 425.2 L1052.0 419.7 L1052.5 413.5 L1053.0 406.7 L1053.5 399.5 L1054.0 392.0 L1054.5 384.3 L1055.0 376.5 L1055.5 368.7 L1056.0 361.2 L1056.5 354.0 L1057.0 347.2 L1057.5 341.1 L1058.0 335.5 L1058.5 330.8 L1059.0 326.9 L1059.5 323.9 L1060.0 321.9 L1060.5 320.9 L1061.0 320.9 L1061.5 322.1 L1062.0 324.4 L1062.5 327.8 L1063.0 332.1 L1063.5 337.4 L1064.0 343.4 L1064.5 350.0 L1065.0 356.9 L1065.5 364.2 L1066.0 371.5 L1066.5 378.6 L1067.0 385.4 L1067.5 391.7 L1068.0 397.3 L1068.5 402.2 L1069.0 406.1 L1069.5 408.9 L1070.0 410.7 L1070.5 411.2 L1071.0 410.6 L1071.5 408.7 L1072.0 405.5 L1072.5 401.2 L1073.0 395.8 L1073.5 389.5 L1074.0 382.4 L1074.5 374.7 L1075.0 366.6 L1075.5 358.4 L1076.0 350.1 L1076.5 342.0 L1077.0 334.4 L1077.5 327.3 L1078.0 321.0 L1078.5 315.6 L1079.0 311.3 L1079.5 308.1 L1080.0 306.2 L1080.5 305.5 L1081.0 306.1 L1081.5 307.8 L1082.0 310.6 L1082.5 314.5 L1083.0 319.4 L1083.5 325.2 L1084.0 331.8 L1084.5 339.1 L1085.0 347.0 L1085.5 355.3 L1086.0 364.0 L1086.5 372.8 L1087.0 381.5 L1087.5 390.2 L1088.0 398.5 L1088.5 406.4 L1089.0 413.7 L1089.5 420.3 L1090.0 426.1 L1090.5 431.0 L1091.0 434.9 M1128.5 434.8 L1129.0 430.0 L1129.5 423.6 L1130.0 415.9 L1130.5 406.9 L1131.0 396.8 L1131.5 385.8 L1132.0 374.1 L1132.5 361.8 L1133.0 349.2 L1133.5 336.5 L1134.0 323.9 L1134.5 311.7 L1135.0 299.9 L1135.5 288.9 L1136.0 278.8 L1136.5 269.9 L1137.0 262.1 L1137.5 255.8 L1138.0 250.9 L1138.5 247.6 L1139.0 246.0 L1139.5 246.0 L1140.0 247.6 L1140.5 250.9 L1141.0 255.8 L1141.5 262.1 L1142.0 269.9 L1142.5 278.8 L1143.0 288.9 L1143.5 299.9 L1144.0 311.7 L1144.5 323.9 L1145.0 336.5 L1145.5 349.2 L1146.0 361.8 L1146.5 374.1 L1147.0 385.8 L1147.5 396.8 L1148.0 406.9 L1148.5 415.9 L1149.0 423.6 L1149.5 430.0 L1150.0 434.8 M1250.5 434.7 L1251.0 429.7 L1251.5 423.2 L1252.0 415.2 L1252.5 406.0 L1253.0 395.6 L1253.5 384.3 L1254.0 372.2 L1254.5 359.6 L1255.0 346.7 L1255.5 333.6 L1256.0 320.6 L1256.5 308.0 L1257.0 296.0 L1257.5 284.6 L1258.0 274.3 L1258.5 265.0 L1259.0 257.1 L1259.5 250.5 L1260.0 245.6 L1260.5 242.2 L1261.0 240.5 L1261.5 240.5 L1262.0 242.2 L1262.5 245.6 L1263.0 250.5 L1263.5 257.1 L1264.0 265.0 L1264.5 274.3 L1265.0 284.6 L1265.5 296.0 L1266.0 308.0 L1266.5 320.6 L1267.0 333.6 L1267.5 346.7 L1268.0 359.6 L1268.5 372.2 L1269.0 384.3 L1269.5 395.6 L1270.0 406.0 L1270.5 415.2 L1271.0 423.2 L1271.5 429.7 L1272.0 434.7 M1314.0 436.1 L1314.5 432.4 L1315.0 427.6 L1315.5 421.8 L1316.0 415.0 L1316.5 407.3 L1317.0 399.0 L1317.5 390.1 L1318.0 380.8 L1318.5 371.3 L1319.0 361.7 L1319.5 352.2 L1320.0 342.9 L1320.5 334.0 L1321.0 325.7 L1321.5 318.0 L1322.0 311.2 L1322.5 305.4 L1323.0 300.6 L1323.5 296.9 L1324.0 294.4 L1324.5 293.2 L1325.0 293.2 L1325.5 294.4 L1326.0 296.9 L1326.5 300.6 L1327.0 305.4 L1327.5 311.2 L1328.0 318.0 L1328.5 325.7 L1329.0 334.0 L1329.5 342.9 L1330.0 352.2 L1330.5 361.7 L1331.0 371.3 L1331.5 380.8 L1332.0 390.1 L1332.5 399.0 L1333.0 407.3 L1333.5 415.0 L1334.0 421.8 L1334.5 427.6 L1335.0 432.4 L1335.5 436.1 M1432.5 435.9 L1433.0 430.8 L1433.5 423.8 L1434.0 415.1 L1434.5 404.7 L1435.0 392.8 L1435.5 379.7 L1436.0 365.5 L1436.5 350.6 L1437.0 335.1 L1437.5 319.4 L1438.0 303.6 L1438.5 288.2 L1439.0 273.2 L1439.5 259.1 L1440.0 245.9 L1440.5 234.1 L1441.0 223.7 L1441.5 214.9 L1442.0 207.9 L1442.5 202.9 L1443.0 199.8 L1443.5 198.8 L1444.0 199.8 L1444.5 202.9 L1445.0 207.9 L1445.5 214.9 L1446.0 223.7 L1446.5 234.1 L1447.0 245.9 L1447.5 259.1 L1448.0 273.2 L1448.5 288.2 L1449.0 303.6 L1449.5 319.4 L1450.0 335.1 L1450.5 350.6 L1451.0 365.5 L1451.5 379.7 L1452.0 392.8 L1452.5 404.7 L1453.0 415.1 L1453.5 423.8 L1454.0 430.8 L1454.5 435.9 M1472.5 436.2 L1473.0 431.6 L1473.5 425.2 L1474.0 417.1 L1474.5 407.6 L1475.0 396.7 L1475.5 384.7 L1476.0 371.7 L1476.5 358.0 L1477.0 343.8 L1477.5 329.4 L1478.0 314.9 L1478.5 300.7 L1479.0 287.0 L1479.5 274.1 L1480.0 262.0 L1480.5 251.2 L1481.0 241.6 L1481.5 233.6 L1482.0 227.2 L1482.5 222.5 L1483.0 219.7 L1483.5 218.8 L1484.0 219.7 L1484.5 222.5 L1485.0 227.2 L1485.5 233.6 L1486.0 241.6 L1486.5 251.2 L1487.0 262.0 L1487.5 274.1 L1488.0 287.0 L1488.5 300.7 L1489.0 314.9 L1489.5 329.4 L1490.0 343.8 L1490.5 358.0 L1491.0 371.7 L1491.5 384.7 L1492.0 396.7 L1492.5 407.6 L1493.0 417.1 L1493.5 425.2 L1494.0 431.6 L1494.5 436.2 M1534.5 434.7 L1535.0 429.7 L1535.5 423.2 L1536.0 415.2 L1536.5 406.0 L1537.0 395.7 L1537.5 384.4 L1538.0 372.3 L1538.5 359.7 L1539.0 346.8 L1539.5 333.7 L1540.0 320.8 L1540.5 308.2 L1541.0 296.1 L1541.5 284.8 L1542.0 274.5 L1542.5 265.3 L1543.0 257.3 L1543.5 250.8 L1544.0 245.8 L1544.5 242.4 L1545.0 240.7 L1545.5 240.7 L1546.0 242.4 L1546.5 245.8 L1547.0 250.8 L1547.5 257.3 L1548.0 265.3 L1548.5 274.5 L1549.0 284.8 L1549.5 296.1 L1550.0 308.2 L1550.5 320.8 L1551.0 333.7 L1551.5 346.8 L1552.0 359.7 L1552.5 372.3 L1553.0 384.4 L1553.5 395.7 L1554.0 406.0 L1554.5 415.2 L1555.0 423.2 L1555.5 429.7 L1556.0 434.7" fill="none" stroke="#ff0000" stroke-width="2.0" stroke-linejoin="round"/>
<path d="M1355.5 434.9 L1356.0 431.0 L1356.5 426.1 L1357.0 420.3 L1357.5 413.7 L1358.0 406.4 L1358.5 398.5 L1359.0 390.2 L1359.5 381.5 L1360.0 372.8 L1360.5 364.0 L1361.0 355.3 L1361.5 347.0 L1362.0 339.1 L1362.5 331.8 L1363.0 325.2 L1363.5 319.4 L1364.0 314.5 L1364.5 310.6 L1365.0 307.8 L1365.5 306.1 L1366.0 305.5 L1366.5 306.1 L1367.0 307.8 L1367.5 310.6 L1368.0 314.5 L1368.5 319.4 L1369.0 325.2 L1369.5 331.8 L1370.0 339.1 L1370.5 347.0 L1371.0 355.3 L1371.5 364.0 L1372.0 372.8 L1372.5 381.5 L1373.0 390.2 L1373.5 398.5 L1374.0 406.4 L1374.5 413.7 L1375.0 420.3 L1375.5 426.1 L1376.0 431.0 L1376.5 434.9" fill="none" stroke="#1a1a1a" stroke-width="2.0" stroke-linejoin="round"/>
<path d="M947.5 435.2 L948.0 431.6 L948.5 427.1 L949.0 421.7 L949.5 415.5 L950.0 408.8 L950.5 401.4 L951.0 393.7 L951.5 385.7 L952.0 377.5 L952.5 369.3 L953.0 361.3 L953.5 353.6 L954.0 346.2 L954.5 339.5 L955.0 333.3 L955.5 327.9 L956.0 323.4 L956.5 319.8 L957.0 317.1 L957.5 315.5 L958.0 315.0 L958.5 315.7 L959.0 317.8 L959.5 321.2 L960.0 325.9 L960.5 331.6 L961.0 338.3 L961.5 345.8 L962.0 353.9 L962.5 362.2 L963.0 370.8 L963.5 379.1 L964.0 387.2 L964.5 394.7 L965.0 401.4 L965.5 407.1 L966.0 411.8 L966.5 415.2 L967.0 417.3 L967.5 418.0 L968.0 417.1 L968.5 414.2 L969.0 409.6 L969.5 403.2 L970.0 395.2 L970.5 385.6 L971.0 374.8 L971.5 362.8 L972.0 349.8 L972.5 336.1 L973.0 321.9 L973.5 307.5 L974.0 293.1 L974.5 278.9 L975.0 265.2 L975.5 252.3 L976.0 240.2 L976.5 229.4 L977.0 219.8 L977.5 211.8 L978.0 205.4 L978.5 200.8 L979.0 197.9 L979.5 197.0 L980.0 198.0 L980.5 201.1 L981.0 206.2 L981.5 213.3 L982.0 222.1 L982.5 232.6 L983.0 244.5 L983.5 257.8 L984.0 272.0 L984.5 287.1 L985.0 302.6 L985.5 318.5 L986.0 334.4 L986.5 349.9 L987.0 365.0 L987.5 379.2 L988.0 392.5 L988.5 404.4 L989.0 414.9 L989.5 423.7 L990.0 430.8 L990.5 435.9 M1008.5 435.8 L1009.0 430.5 L1009.5 423.3 L1010.0 414.3 L1010.5 403.6 L1011.0 391.3 L1011.5 377.8 L1012.0 363.2 L1012.5 347.8 L1013.0 331.9 L1013.5 315.6 L1014.0 299.4 L1014.5 283.4 L1015.0 268.0 L1015.5 253.4 L1016.0 239.9 L1016.5 227.7 L1017.0 217.0 L1017.5 207.9 L1018.0 200.7 L1018.5 195.5 L1019.0 192.3 L1019.5 191.2 L1020.0 192.3 L1020.5 195.4 L1021.0 200.5 L1021.5 207.5 L1022.0 216.3 L1022.5 226.7 L1023.0 238.5 L1023.5 251.6 L1024.0 265.7 L1024.5 280.6 L1025.0 295.9 L1025.5 311.4 L1026.0 326.8 L1026.5 341.9 L1027.0 356.4 L1027.5 370.1 L1028.0 382.6 L1028.5 393.7 L1029.0 403.3 L1029.5 411.3 L1030.0 417.3 L1030.5 421.4 L1031.0 423.5 L1031.5 423.6 L1032.0 422.6 L1032.5 420.5 L1033.0 417.5 L1033.5 413.5 L1034.0 408.8 L1034.5 403.3 L1035.0 397.4 L1035.5 391.0 L1036.0 384.4 L1036.5 377.6 L1037.0 371.0 L1037.5 364.6 L1038.0 358.7 L1038.5 353.2 L1039.0 348.5 L1039.5 344.5 L1040.0 341.5 L1040.5 339.4 L1041.0 338.4 L1041.5 338.4 L1042.0 339.2 L1042.5 340.9 L1043.0 343.5 L1043.5 346.8 L1044.0 350.9 L1044.5 355.6 L1045.0 360.9 L1045.5 366.6 L1046.0 372.8 L1046.5 379.2 L1047.0 385.8 L1047.5 392.5 L1048.0 399.1 L1048.5 405.5 L1049.0 411.6 L1049.5 417.4 L1050.0 422.7 L1050.5 427.4 L1051.0 431.4 L1051.5 434.8 M1110.5 434.4 L1111.0 430.8 L1111.5 426.4 L1112.0 421.4 L1112.5 415.7 L1113.0 409.5 L1113.5 402.9 L1114.0 396.0 L1114.5 388.9 L1115.0 381.8 L1115.5 374.7 L1116.0 367.8 L1116.5 361.2 L1117.0 355.0 L1117.5 349.4 L1118.0 344.3 L1118.5 340.0 L1119.0 336.4 L1119.5 333.6 L1120.0 331.8 L1120.5 330.9 L1121.0 330.9 L1121.5 331.8 L1122.0 333.6 L1122.5 336.4 L1123.0 340.0 L1123.5 344.3 L1124.0 349.4 L1124.5 355.0 L1125.0 361.2 L1125.5 367.8 L1126.0 374.7 L1126.5 381.8 L1127.0 388.9 L1127.5 396.0 L1128.0 402.9 L1128.5 409.5 L1129.0 415.7 L1129.5 421.4 L1130.0 426.4 L1130.5 430.8 L1131.0 434.4 M1150.5 434.9 L1151.0 430.2 L1151.5 423.9 L1152.0 416.3 L1152.5 407.5 L1153.0 397.6 L1153.5 386.8 L1154.0 375.3 L1154.5 363.2 L1155.0 350.9 L1155.5 338.4 L1156.0 326.0 L1156.5 314.0 L1157.0 302.4 L1157.5 291.6 L1158.0 281.7 L1158.5 272.9 L1159.0 265.3 L1159.5 259.1 L1160.0 254.3 L1160.5 251.1 L1161.0 249.5 L1161.5 249.5 L1162.0 251.1 L1162.5 254.3 L1163.0 259.1 L1163.5 265.3 L1164.0 272.9 L1164.5 281.7 L1165.0 291.6 L1165.5 302.4 L1166.0 314.0 L1166.5 326.0 L1167.0 338.4 L1167.5 350.9 L1168.0 363.2 L1168.5 375.3 L1169.0 386.8 L1169.5 397.6 L1170.0 407.5 L1170.5 416.3 L1171.0 423.9 L1171.5 430.2 L1172.0 434.9 M1190.0 435.2 L1190.5 431.5 L1191.0 426.9 L1191.5 421.4 L1192.0 415.2 L1192.5 408.2 L1193.0 400.8 L1193.5 392.9 L1194.0 384.8 L1194.5 376.5 L1195.0 368.2 L1195.5 360.1 L1196.0 352.2 L1196.5 344.8 L1197.0 337.8 L1197.5 331.6 L1198.0 326.1 L1198.5 321.5 L1199.0 317.8 L1199.5 315.2 L1200.0 313.5 L1200.5 313.0 L1201.0 313.6 L1201.5 315.4 L1202.0 318.3 L1202.5 322.3 L1203.0 327.3 L1203.5 333.1 L1204.0 339.6 L1204.5 346.8 L1205.0 354.3 L1205.5 362.0 L1206.0 369.8 L1206.5 377.5 L1207.0 384.9 L1207.5 391.7 L1208.0 397.9 L1208.5 403.3 L1209.0 407.8 L1209.5 411.3 L1210.0 413.7 L1210.5 414.9 L1211.0 414.8 L1211.5 413.1 L1212.0 409.8 L1212.5 404.9 L1213.0 398.5 L1213.5 390.8 L1214.0 381.8 L1214.5 371.9 L1215.0 361.2 L1215.5 349.8 L1216.0 338.2 L1216.5 326.3 L1217.0 314.7 L1217.5 303.3 L1218.0 292.6 L1218.5 282.7 L1219.0 273.7 L1219.5 266.0 L1220.0 259.6 L1220.5 254.7 L1221.0 251.4 L1221.5 249.7 L1222.0 249.7 L1222.5 251.3 L1223.0 254.5 L1223.5 259.3 L1224.0 265.4 L1224.5 273.0 L1225.0 281.6 L1225.5 291.4 L1226.0 301.9 L1226.5 313.1 L1227.0 324.8 L1227.5 336.6 L1228.0 348.5 L1228.5 360.1 L1229.0 371.3 L1229.5 381.9 L1230.0 391.6 L1230.5 400.3 L1231.0 407.8 L1231.5 414.0 L1232.0 418.7 L1232.5 421.9 L1233.0 423.5 L1233.5 423.6 L1234.0 422.4 L1234.5 420.2 L1235.0 416.8 L1235.5 412.5 L1236.0 407.2 L1236.5 401.2 L1237.0 394.7 L1237.5 387.6 L1238.0 380.3 L1238.5 372.9 L1239.0 365.6 L1239.5 358.6 L1240.0 352.0 L1240.5 346.0 L1241.0 340.8 L1241.5 336.4 L1242.0 333.1 L1242.5 330.8 L1243.0 329.6 L1243.5 329.6 L1244.0 330.6 L1244.5 332.4 L1245.0 335.2 L1245.5 338.8 L1246.0 343.2 L1246.5 348.3 L1247.0 354.1 L1247.5 360.3 L1248.0 367.0 L1248.5 374.0 L1249.0 381.1 L1249.5 388.4 L1250.0 395.5 L1250.5 402.5 L1251.0 409.2 L1251.5 415.4 L1252.0 421.2 L1252.5 426.3 L1253.0 430.7 L1253.5 434.3 M1273.0 434.1 L1273.5 429.7 L1274.0 424.0 L1274.5 417.4 L1275.0 409.8 L1275.5 401.4 L1276.0 392.3 L1276.5 382.8 L1277.0 372.9 L1277.5 362.8 L1278.0 352.7 L1278.5 342.8 L1279.0 333.3 L1279.5 324.2 L1280.0 315.8 L1280.5 308.2 L1281.0 301.6 L1281.5 295.9 L1282.0 291.5 L1282.5 288.2 L1283.0 286.3 L1283.5 285.6 L1284.0 286.3 L1284.5 288.4 L1285.0 291.8 L1285.5 296.6 L1286.0 302.5 L1286.5 309.5 L1287.0 317.4 L1287.5 326.1 L1288.0 335.5 L1288.5 345.3 L1289.0 355.3 L1289.5 365.3 L1290.0 375.3 L1290.5 384.8 L1291.0 393.9 L1291.5 402.3 L1292.0 409.7 L1292.5 416.2 L1293.0 421.5 L1293.5 425.6 L1294.0 428.4 L1294.5 429.8 L1295.0 429.9 L1295.5 428.9 L1296.0 426.9 L1296.5 423.9 L1297.0 420.1 L1297.5 415.5 L1298.0 410.3 L1298.5 404.5 L1299.0 398.4 L1299.5 392.0 L1300.0 385.5 L1300.5 379.1 L1301.0 373.0 L1301.5 367.2 L1302.0 362.0 L1302.5 357.4 L1303.0 353.6 L1303.5 350.6 L1304.0 348.6 L1304.5 347.6 L1305.0 347.6 L1305.5 348.4 L1306.0 350.0 L1306.5 352.3 L1307.0 355.3 L1307.5 359.0 L1308.0 363.3 L1308.5 368.1 L1309.0 373.3 L1309.5 378.9 L1310.0 384.7 L1310.5 390.7 L1311.0 396.8 L1311.5 402.8 L1312.0 408.6 L1312.5 414.2 L1313.0 419.4 L1313.5 424.2 L1314.0 428.5 L1314.5 432.2 L1315.0 435.2 M1374.5 435.7 L1375.0 430.3 L1375.5 423.0 L1376.0 413.7 L1376.5 402.7 L1377.0 390.2 L1377.5 376.4 L1378.0 361.4 L1378.5 345.7 L1379.0 329.4 L1379.5 312.8 L1380.0 296.1 L1380.5 279.8 L1381.0 264.1 L1381.5 249.1 L1382.0 235.3 L1382.5 222.8 L1383.0 211.8 L1383.5 202.5 L1384.0 195.2 L1384.5 189.8 L1385.0 186.6 L1385.5 185.5 L1386.0 186.6 L1386.5 189.8 L1387.0 195.2 L1387.5 202.5 L1388.0 211.8 L1388.5 222.8 L1389.0 235.3 L1389.5 249.1 L1390.0 264.1 L1390.5 279.8 L1391.0 296.1 L1391.5 312.8 L1392.0 329.4 L1392.5 345.7 L1393.0 361.4 L1393.5 376.4 L1394.0 390.2 L1394.5 402.7 L1395.0 413.7 L1395.5 423.0 L1396.0 430.3 L1396.5 435.7 M1455.5 433.6 L1456.0 430.2 L1456.5 426.1 L1457.0 421.4 L1457.5 416.2 L1458.0 410.7 L1458.5 404.8 L1459.0 398.7 L1459.5 392.5 L1460.0 386.3 L1460.5 380.2 L1461.0 374.3 L1461.5 368.8 L1462.0 363.6 L1462.5 358.9 L1463.0 354.8 L1463.5 351.4 L1464.0 348.6 L1464.5 346.6 L1465.0 345.4 L1465.5 345.0 L1466.0 345.4 L1466.5 346.6 L1467.0 348.6 L1467.5 351.4 L1468.0 354.8 L1468.5 358.9 L1469.0 363.6 L1469.5 368.8 L1470.0 374.3 L1470.5 380.2 L1471.0 386.3 L1471.5 392.5 L1472.0 398.7 L1472.5 404.8 L1473.0 410.7 L1473.5 416.2 L1474.0 421.4 L1474.5 426.1 L1475.0 430.2 L1475.5 433.6 M1495.0 433.5 L1495.5 428.6 L1496.0 422.4 L1496.5 415.0 L1497.0 406.6 L1497.5 397.4 L1498.0 387.3 L1498.5 376.8 L1499.0 365.8 L1499.5 354.7 L1500.0 343.6 L1500.5 332.6 L1501.0 322.1 L1501.5 312.1 L1502.0 302.8 L1502.5 294.4 L1503.0 287.0 L1503.5 280.8 L1504.0 275.9 L1504.5 272.3 L1505.0 270.1 L1505.5 269.4 L1506.0 270.1 L1506.5 272.2 L1507.0 275.6 L1507.5 280.3 L1508.0 286.1 L1508.5 293.1 L1509.0 301.1 L1509.5 309.8 L1510.0 319.2 L1510.5 329.2 L1511.0 339.4 L1511.5 349.8 L1512.0 360.1 L1512.5 370.3 L1513.0 379.9 L1513.5 389.1 L1514.0 397.4 L1514.5 404.9 L1515.0 411.3 L1515.5 416.6 L1516.0 420.7 L1516.5 423.4 L1517.0 424.8 L1517.5 424.8 L1518.0 423.5 L1518.5 420.8 L1519.0 416.9 L1519.5 411.9 L1520.0 405.8 L1520.5 398.9 L1521.0 391.4 L1521.5 383.4 L1522.0 375.2 L1522.5 367.1 L1523.0 359.1 L1523.5 351.6 L1524.0 344.7 L1524.5 338.6 L1525.0 333.6 L1525.5 329.7 L1526.0 327.0 L1526.5 325.7 L1527.0 325.6 L1527.5 326.6 L1528.0 328.5 L1528.5 331.4 L1529.0 335.1 L1529.5 339.7 L1530.0 345.0 L1530.5 350.9 L1531.0 357.4 L1531.5 364.3 L1532.0 371.6 L1532.5 379.0 L1533.0 386.5 L1533.5 393.9 L1534.0 401.2 L1534.5 408.1 L1535.0 414.6 L1535.5 420.5 L1536.0 425.8 L1536.5 430.4 L1537.0 434.1 M1556.0 435.6 L1556.5 432.3 L1557.0 428.1 L1557.5 423.2 L1558.0 417.5 L1558.5 411.2 L1559.0 404.5 L1559.5 397.4 L1560.0 390.0 L1560.5 382.5 L1561.0 375.0 L1561.5 367.6 L1562.0 360.5 L1562.5 353.8 L1563.0 347.5 L1563.5 341.8 L1564.0 336.9 L1564.5 332.7 L1565.0 329.4 L1565.5 327.0 L1566.0 325.5 L1566.5 325.0 L1567.0 325.6 L1567.5 327.5 L1568.0 330.5 L1568.5 334.7 L1569.0 339.8 L1569.5 345.9 L1570.0 352.6 L1570.5 360.0 L1571.0 367.7 L1571.5 375.6 L1572.0 383.5 L1572.5 391.3 L1573.0 398.6 L1573.5 405.4 L1574.0 411.4 L1574.5 416.6 L1575.0 420.7 L1575.5 423.8 L1576.0 425.6 L1576.5 426.2 L1577.0 425.3 L1577.5 422.5 L1578.0 417.8 L1578.5 411.4 L1579.0 403.3 L1579.5 393.7 L1580.0 382.8 L1580.5 370.8 L1581.0 357.7 L1581.5 344.0 L1582.0 329.7 L1582.5 315.2 L1583.0 300.8 L1583.5 286.5 L1584.0 272.8 L1584.5 259.8 L1585.0 247.7 L1585.5 236.8 L1586.0 227.2 L1586.5 219.1 L1587.0 212.7 L1587.5 208.0 L1588.0 205.2 L1588.5 204.2 L1589.0 205.3 L1589.5 208.3 L1590.0 213.2 L1590.5 220.0 L1591.0 228.6 L1591.5 238.8 L1592.0 250.4 L1592.5 263.2 L1593.0 277.0 L1593.5 291.6 L1594.0 306.7 L1594.5 322.1 L1595.0 337.5 L1595.5 352.6 L1596.0 367.2 L1596.5 381.1 L1597.0 393.9 L1597.5 405.5 L1598.0 415.6 L1598.5 424.2 L1599.0 431.0 L1599.5 436.0" fill="none" stroke="#0000ff" stroke-width="2.0" stroke-linejoin="round"/>
</g>
<rect x="250.00" y="522.7" width="109.75" height="63.5" fill="#86aeff"/>
<text font-family="'Liberation Serif', serif" font-weight="bold" font-size="18.3" fill="#000" style="font-kerning:none"><tspan x="263.00" y="550">A: 0.0%</tspan><tspan x="263.00" y="571.8">C: 100.0%</tspan></text>
<rect x="653.75" y="522.7" width="105.50" height="63.5" fill="#86aeff"/>
<text font-family="'Liberation Serif', serif" font-weight="bold" font-size="18.3" fill="#000" style="font-kerning:none"><tspan x="665.50" y="550">A: 94.1%</tspan><tspan x="665.50" y="571.8">T: 5.9%</tspan></text>
<rect x="1114.50" y="522.7" width="111.25" height="63.5" fill="#86aeff"/>
<text font-family="'Liberation Serif', serif" font-weight="bold" font-size="18.3" fill="#000" style="font-kerning:none"><tspan x="1126.20" y="550">A: 100.0%</tspan><tspan x="1126.20" y="571.8">C: 0%</tspan></text>
<rect x="1503.50" y="522.7" width="115.00" height="63.5" fill="#86aeff"/>
<text font-family="'Liberation Serif', serif" font-weight="bold" font-size="18.3" fill="#000" style="font-kerning:none"><tspan x="1516.30" y="550">A: 0.0%</tspan><tspan x="1516.30" y="571.8">T: 100.0%</tspan></text>
<path d="M48.30 611.60 H782.50" stroke="#1a1a1a" stroke-width="1.3" stroke-dasharray="3.4 15.35" fill="none"/>
<path d="M48.30 641.40 H782.50" stroke="#1a1a1a" stroke-width="1.3" stroke-dasharray="3.4 15.35" fill="none"/>
<path d="M48.30 670.00 H782.50" stroke="#1a1a1a" stroke-width="1.3" stroke-dasharray="3.4 15.35" fill="none"/>
<rect x="286.25" y="591.25" width="37.50" height="106.00" fill="#fff874"/>
<rect x="686.25" y="591.25" width="38.25" height="106.00" fill="#fff874"/>
<path d="M29.50 591.25 V697.25" stroke="#444" stroke-width="1.6" fill="none"/>
<path d="M28.70 591.25 H783.20" stroke="#1c1c1c" stroke-width="1.5" fill="none"/>
<path d="M28.70 697.25 H783.20" stroke="#333" stroke-width="1.3" fill="none"/>
<path d="M782.50 591.25 V697.95" stroke="#3a3a3a" stroke-width="1.4" fill="none"/>
<path d="M27.10 611.60 h5" stroke="#222" stroke-width="1.2"/>
<text x="26.90" y="616.70" text-anchor="end" font-family="'Liberation Sans', sans-serif" font-size="11.6" fill="#222" letter-spacing="-0.85">160</text>
<path d="M27.10 641.40 h5" stroke="#222" stroke-width="1.2"/>
<text x="26.90" y="646.50" text-anchor="end" font-family="'Liberation Sans', sans-serif" font-size="11.6" fill="#222" letter-spacing="-0.85">140</text>
<path d="M27.10 670.00 h5" stroke="#222" stroke-width="1.2"/>
<text x="26.90" y="675.10" text-anchor="end" font-family="'Liberation Sans', sans-serif" font-size="11.6" fill="#222" letter-spacing="-0.85">120</text>
<path d="M27.90 597.40 h3.6" stroke="#222" stroke-width="1.3"/>
<path d="M27.90 626.60 h3.6" stroke="#222" stroke-width="1.3"/>
<path d="M27.90 655.60 h3.6" stroke="#222" stroke-width="1.3"/>
<path d="M27.90 685.00 h3.6" stroke="#222" stroke-width="1.3"/>
<clipPath id="pc1"><rect x="29.50" y="591.25" width="753.00" height="107.00"/></clipPath>
<path d="M29.50 696.75 H76.00" stroke="#111" stroke-width="2.2"/>
<path clip-path="url(#pc1)" d="M29.50 696.45 L75.70 696.45 L76.00 691.60 L76.25 691.62 L76.50 691.64 L76.75 691.66 L77.00 691.68 L77.25 691.70 L77.50 691.73 L77.75 691.76 L78.00 691.79 L78.25 691.83 L78.50 691.87 L78.75 691.92 L79.00 691.96 L79.25 692.01 L79.50 692.05 L79.75 692.08 L80.00 692.09 L80.25 692.10 L80.50 692.09 L80.75 692.08 L81.00 692.06 L81.25 692.03 L81.50 692.01 L81.75 691.99 L82.00 691.97 L82.25 691.96 L82.50 691.96 L82.75 691.96 L83.00 691.96 L83.25 691.97 L83.50 691.98 L83.75 691.99 L84.00 692.00 L84.25 692.01 L84.50 692.03 L84.75 692.04 L85.00 692.04 L85.25 692.05 L85.50 692.05 L85.75 692.04 L86.00 692.03 L86.25 692.01 L86.50 691.98 L86.75 691.94 L87.00 691.89 L87.25 691.82 L87.50 691.74 L87.75 691.66 L88.00 691.57 L88.25 691.51 L88.50 691.46 L88.75 691.45 L89.00 691.48 L89.25 691.56 L89.50 691.67 L89.75 691.80 L90.00 691.95 L90.25 692.11 L90.50 692.25 L90.75 692.36 L91.00 692.44 L91.25 692.49 L91.50 692.51 L91.75 692.50 L92.00 692.46 L92.25 692.42 L92.50 692.36 L92.75 692.31 L93.00 692.26 L93.25 692.22 L93.50 692.18 L93.75 692.13 L94.00 692.03 L94.25 691.84 L94.50 691.58 L94.75 691.35 L95.00 691.28 L95.25 691.41 L95.50 691.67 L95.75 691.90 L96.00 692.05 L96.25 692.12 L96.50 692.14 L96.75 692.14 L97.00 692.13 L97.25 692.09 L97.50 692.01 L97.75 691.89 L98.00 691.73 L98.25 691.55 L98.50 691.41 L98.75 691.37 L99.00 691.42 L99.25 691.57 L99.50 691.75 L99.75 691.91 L100.00 692.03 L100.25 692.11 L100.50 692.15 L100.75 692.16 L101.00 692.17 L101.25 692.17 L101.50 692.17 L101.75 692.18 L102.00 692.18 L102.25 692.18 L102.50 692.18 L102.75 692.17 L103.00 692.16 L103.25 692.11 L103.50 692.00 L103.75 691.78 L104.00 691.46 L104.25 691.13 L104.50 690.96 L104.75 691.02 L105.00 691.25 L105.25 691.51 L105.50 691.68 L105.75 691.75 L106.00 691.75 L106.25 691.73 L106.50 691.71 L106.75 691.72 L107.00 691.73 L107.25 691.77 L107.50 691.82 L107.75 691.88 L108.00 691.94 L108.25 692.00 L108.50 692.06 L108.75 692.11 L109.00 692.16 L109.25 692.20 L109.50 692.24 L109.75 692.27 L110.00 692.29 L110.25 692.30 L110.50 692.30 L110.75 692.29 L111.00 692.29 L111.25 692.29 L111.50 692.29 L111.75 692.29 L112.00 692.30 L112.25 692.30 L112.50 692.29 L112.75 692.28 L113.00 692.26 L113.25 692.24 L113.50 692.23 L113.75 692.22 L114.00 692.21 L114.25 692.20 L114.50 692.20 L114.75 692.20 L115.00 692.21 L115.25 692.22 L115.50 692.24 L115.75 692.26 L116.00 692.27 L116.25 692.28 L116.50 692.27 L116.75 692.26 L117.00 692.24 L117.25 692.21 L117.50 692.18 L117.75 692.15 L118.00 692.10 L118.25 692.03 L118.50 691.96 L118.75 691.88 L119.00 691.82 L119.25 691.77 L119.50 691.73 L119.75 691.68 L120.00 691.61 L120.25 691.51 L120.50 691.39 L120.75 691.28 L121.00 691.20 L121.25 691.19 L121.50 691.24 L121.75 691.35 L122.00 691.50 L122.25 691.66 L122.50 691.82 L122.75 691.95 L123.00 692.06 L123.25 692.13 L123.50 692.18 L123.75 692.22 L124.00 692.25 L124.25 674.22 L124.50 656.20 L124.75 638.17 L125.00 620.14 L125.25 632.19 L125.50 641.69 L125.75 649.31 L126.00 655.51 L126.25 660.64 L126.50 664.93 L126.75 668.55 L127.00 671.63 L127.25 674.27 L127.50 676.55 L127.75 678.52 L128.00 680.23 L128.25 681.72 L128.50 683.02 L128.75 684.15 L129.00 685.13 L129.25 685.98 L129.50 686.69 L129.75 687.28 L130.00 687.74 L130.25 688.07 L130.50 688.28 L130.75 688.41 L131.00 688.50 L131.25 688.60 L131.50 688.77 L131.75 689.03 L132.00 689.39 L132.25 689.81 L132.50 690.24 L132.75 690.63 L133.00 690.95 L133.25 691.19 L133.50 691.35 L133.75 691.45 L134.00 691.49 L134.25 691.50 L134.50 691.48 L134.75 691.43 L135.00 691.38 L135.25 691.33 L135.50 691.28 L135.75 691.25 L136.00 691.24 L136.25 691.27 L136.50 691.32 L136.75 691.39 L137.00 691.48 L137.25 691.56 L137.50 691.63 L137.75 691.68 L138.00 691.69 L138.25 691.66 L138.50 691.59 L138.75 691.49 L139.00 691.38 L139.25 691.27 L139.50 691.19 L139.75 691.16 L140.00 691.18 L140.25 691.24 L140.50 691.34 L140.75 691.46 L141.00 691.56 L141.25 691.65 L141.50 691.70 L141.75 691.72 L142.00 691.71 L142.25 691.69 L142.50 691.66 L142.75 691.64 L143.00 691.63 L143.25 691.65 L143.50 680.63 L143.75 669.64 L144.00 658.66 L144.25 647.68 L144.50 655.12 L144.75 660.99 L145.00 665.70 L145.25 669.55 L145.50 672.72 L145.75 675.37 L146.00 677.60 L146.25 679.50 L146.50 681.11 L146.75 682.48 L147.00 683.65 L147.25 684.65 L147.50 685.50 L147.75 686.24 L148.00 686.89 L148.25 687.47 L148.50 687.99 L148.75 688.45 L149.00 688.85 L149.25 689.18 L149.50 689.43 L149.75 689.59 L150.00 689.69 L150.25 689.77 L150.50 689.85 L150.75 689.98 L151.00 690.18 L151.25 690.43 L151.50 690.72 L151.75 691.01 L152.00 691.27 L152.25 691.48 L152.50 691.66 L152.75 691.79 L153.00 691.90 L153.25 691.99 L153.50 692.07 L153.75 692.13 L154.00 692.18 L154.25 692.20 L154.50 692.22 L154.75 692.22 L155.00 692.20 L155.25 692.19 L155.50 692.17 L155.75 692.16 L156.00 692.15 L156.25 692.15 L156.50 692.15 L156.75 692.14 L157.00 692.13 L157.25 692.10 L157.50 692.05 L157.75 691.97 L158.00 691.86 L158.25 691.72 L158.50 691.60 L158.75 691.50 L159.00 691.47 L159.25 691.51 L159.50 691.60 L159.75 691.73 L160.00 691.86 L160.25 691.96 L160.50 692.03 L160.75 692.06 L161.00 692.05 L161.25 692.02 L161.50 691.97 L161.75 691.92 L162.00 691.87 L162.25 691.82 L162.50 666.56 L162.75 641.31 L163.00 616.08 L163.25 590.87 L163.50 607.76 L163.75 621.07 L164.00 631.77 L164.25 640.51 L164.50 647.73 L164.75 653.78 L165.00 658.88 L165.25 663.22 L165.50 666.93 L165.75 670.12 L166.00 672.87 L166.25 675.26 L166.50 677.34 L166.75 679.18 L167.00 680.80 L167.25 682.23 L167.50 683.50 L167.75 684.60 L168.00 685.52 L168.25 686.24 L168.50 686.77 L168.75 687.13 L169.00 687.34 L169.25 687.48 L169.50 687.64 L169.75 687.88 L170.00 688.23 L170.25 688.69 L170.50 689.21 L170.75 689.74 L171.00 690.22 L171.25 690.62 L171.50 690.93 L171.75 691.17 L172.00 691.34 L172.25 691.47 L172.50 691.56 L172.75 691.64 L173.00 691.69 L173.25 691.71 L173.50 691.70 L173.75 691.67 L174.00 691.60 L174.25 691.53 L174.50 691.46 L174.75 691.42 L175.00 691.42 L175.25 691.47 L175.50 691.54 L175.75 691.63 L176.00 691.70 L176.25 691.75 L176.50 691.77 L176.75 691.77 L177.00 691.76 L177.25 691.75 L177.50 691.75 L177.75 691.76 L178.00 691.78 L178.25 691.82 L178.50 691.87 L178.75 691.91 L179.00 691.96 L179.25 692.01 L179.50 692.05 L179.75 692.08 L180.00 692.09 L180.25 692.09 L180.50 692.08 L180.75 692.05 L181.00 692.01 L181.25 691.96 L181.50 691.90 L181.75 691.84 L182.00 691.79 L182.25 691.74 L182.50 691.71 L182.75 691.70 L183.00 691.70 L183.25 691.71 L183.50 691.73 L183.75 691.75 L184.00 691.77 L184.25 691.78 L184.50 691.78 L184.75 691.77 L185.00 691.76 L185.25 691.75 L185.50 691.75 L185.75 691.76 L186.00 691.79 L186.25 691.83 L186.50 691.88 L186.75 691.93 L187.00 691.98 L187.25 692.03 L187.50 692.07 L187.75 692.11 L188.00 692.13 L188.25 692.14 L188.50 692.13 L188.75 692.10 L189.00 692.04 L189.25 691.98 L189.50 691.92 L189.75 691.88 L190.00 691.88 L190.25 691.91 L190.50 691.97 L190.75 692.04 L191.00 692.11 L191.25 692.15 L191.50 692.18 L191.75 692.19 L192.00 692.20 L192.25 692.20 L192.50 692.19 L192.75 692.17 L193.00 692.08 L193.25 691.90 L193.50 691.58 L193.75 691.22 L194.00 690.99 L194.25 691.04 L194.50 691.33 L194.75 691.70 L195.00 691.97 L195.25 692.12 L195.50 692.17 L195.75 692.18 L196.00 692.17 L196.25 692.16 L196.50 692.13 L196.75 692.09 L197.00 692.03 L197.25 691.95 L197.50 691.86 L197.75 691.75 L198.00 691.62 L198.25 691.50 L198.50 691.39 L198.75 691.30 L199.00 691.24 L199.25 691.22 L199.50 691.25 L199.75 691.32 L200.00 691.41 L200.25 691.53 L200.50 682.17 L200.75 672.80 L201.00 663.42 L201.25 654.02 L201.50 660.42 L201.75 665.44 L202.00 669.45 L202.25 672.70 L202.50 675.34 L202.75 677.51 L203.00 679.29 L203.25 680.77 L203.50 682.01 L203.75 683.08 L204.00 684.04 L204.25 684.94 L204.50 685.78 L204.75 686.58 L205.00 687.33 L205.25 688.01 L205.50 688.60 L205.75 689.09 L206.00 689.47 L206.25 689.75 L206.50 689.93 L206.75 690.03 L207.00 690.07 L207.25 690.08 L207.50 690.10 L207.75 690.14 L208.00 690.23 L208.25 690.39 L208.50 690.62 L208.75 690.92 L209.00 691.21 L209.25 691.47 L209.50 691.66 L209.75 691.78 L210.00 691.86 L210.25 691.92 L210.50 691.96 L210.75 691.99 L211.00 692.02 L211.25 692.04 L211.50 692.06 L211.75 692.08 L212.00 692.09 L212.25 692.09 L212.50 692.07 L212.75 692.02 L213.00 691.94 L213.25 691.83 L213.50 691.72 L213.75 691.65 L214.00 691.64 L214.25 691.71 L214.50 691.82 L214.75 691.95 L215.00 692.05 L215.25 692.12 L215.50 692.15 L215.75 692.17 L216.00 692.17 L216.25 692.15 L216.50 692.12 L216.75 692.07 L217.00 692.01 L217.25 691.94 L217.50 691.87 L217.75 691.83 L218.00 691.82 L218.25 691.85 L218.50 691.91 L218.75 691.97 L219.00 692.03 L219.25 692.06 L219.50 692.07 L219.75 692.04 L220.00 692.00 L220.25 691.93 L220.50 691.86 L220.75 691.80 L221.00 691.75 L221.25 691.73 L221.50 691.74 L221.75 691.78 L222.00 691.83 L222.25 691.90 L222.50 691.98 L222.75 692.04 L223.00 692.09 L223.25 692.13 L223.50 692.16 L223.75 692.18 L224.00 692.19 L224.25 692.19 L224.50 692.18 L224.75 692.15 L225.00 692.09 L225.25 692.00 L225.50 691.91 L225.75 691.88 L226.00 691.91 L226.25 692.00 L226.50 692.10 L226.75 692.17 L227.00 692.22 L227.25 692.25 L227.50 692.28 L227.75 692.31 L228.00 692.34 L228.25 692.36 L228.50 692.38 L228.75 692.38 L229.00 692.37 L229.25 692.35 L229.50 692.32 L229.75 692.30 L230.00 692.27 L230.25 692.24 L230.50 692.22 L230.75 692.21 L231.00 692.19 L231.25 692.17 L231.50 692.14 L231.75 692.10 L232.00 692.05 L232.25 691.97 L232.50 691.87 L232.75 691.76 L233.00 691.64 L233.25 691.51 L233.50 691.40 L233.75 691.31 L234.00 691.27 L234.25 691.27 L234.50 691.32 L234.75 691.40 L235.00 691.51 L235.25 691.64 L235.50 691.76 L235.75 691.88 L236.00 691.97 L236.25 692.05 L236.50 692.11 L236.75 692.14 L237.00 692.17 L237.25 692.19 L237.50 692.20 L237.75 692.21 L238.00 692.22 L238.25 692.22 L238.50 673.99 L238.75 655.76 L239.00 637.53 L239.25 619.29 L239.50 631.46 L239.75 641.04 L240.00 648.73 L240.25 655.00 L240.50 660.18 L240.75 664.52 L241.00 668.19 L241.25 671.32 L241.50 674.01 L241.75 676.32 L242.00 678.33 L242.25 680.07 L242.50 681.59 L242.75 682.92 L243.00 684.09 L243.25 685.14 L243.50 686.08 L243.75 686.90 L244.00 687.53 L244.25 687.93 L244.50 688.10 L244.75 688.09 L245.00 687.98 L245.25 687.84 L245.50 687.72 L245.75 687.74 L246.00 687.94 L246.25 688.35 L246.50 688.92 L246.75 689.55 L247.00 690.13 L247.25 690.58 L247.50 690.87 L247.75 691.02 L248.00 691.07 L248.25 691.09 L248.50 691.13 L248.75 691.21 L249.00 691.34 L249.25 691.52 L249.50 691.70 L249.75 691.88 L250.00 692.02 L250.25 692.14 L250.50 692.21 L250.75 692.26 L251.00 692.29 L251.25 692.29 L251.50 692.27 L251.75 692.25 L252.00 692.23 L252.25 692.21 L252.50 692.19 L252.75 692.18 L253.00 692.18 L253.25 692.18 L253.50 692.18 L253.75 692.18 L254.00 692.18 L254.25 692.19 L254.50 692.19 L254.75 692.19 L255.00 692.19 L255.25 692.19 L255.50 692.18 L255.75 692.18 L256.00 692.17 L256.25 692.16 L256.50 692.14 L256.75 692.13 L257.00 692.12 L257.25 692.11 L257.50 692.11 L257.75 692.10 L258.00 681.67 L258.25 671.23 L258.50 660.79 L258.75 650.34 L259.00 657.28 L259.25 662.75 L259.50 667.15 L259.75 670.77 L260.00 673.78 L260.25 676.33 L260.50 678.49 L260.75 680.35 L261.00 681.95 L261.25 683.33 L261.50 684.52 L261.75 685.54 L262.00 686.43 L262.25 687.19 L262.50 687.84 L262.75 688.38 L263.00 688.84 L263.25 689.21 L263.50 689.50 L263.75 689.71 L264.00 689.85 L264.25 689.92 L264.50 689.95 L264.75 689.97 L265.00 690.03 L265.25 690.15 L265.50 690.35 L265.75 690.60 L266.00 690.88 L266.25 691.16 L266.50 691.40 L266.75 691.59 L267.00 691.73 L267.25 691.83 L267.50 691.89 L267.75 691.93 L268.00 691.96 L268.25 691.99 L268.50 692.01 L268.75 692.03 L269.00 692.05 L269.25 692.07 L269.50 692.08 L269.75 692.10 L270.00 692.12 L270.25 692.14 L270.50 692.20 L270.75 692.30 L271.00 692.43 L271.25 692.56 L271.50 692.62 L271.75 692.57 L272.00 692.45 L272.25 692.32 L272.50 692.21 L272.75 692.12 L273.00 692.02 L273.25 691.87 L273.50 691.68 L273.75 691.50 L274.00 691.40 L274.25 691.42 L274.50 691.56 L274.75 691.74 L275.00 691.93 L275.25 692.06 L275.50 692.14 L275.75 692.17 L276.00 692.18 L276.25 692.18 L276.50 692.17 L276.75 675.16 L277.00 658.14 L277.25 641.09 L277.50 624.02 L277.75 635.25 L278.00 644.06 L278.25 651.11 L278.50 656.85 L278.75 661.61 L279.00 665.63 L279.25 669.06 L279.50 672.00 L279.75 674.54 L280.00 676.70 L280.25 678.54 L280.50 680.09 L280.75 681.40 L281.00 682.51 L281.25 683.47 L281.50 684.31 L281.75 685.07 L282.00 685.76 L282.25 686.38 L282.50 686.90 L282.75 687.33 L283.00 687.65 L283.25 687.88 L283.50 688.08 L283.75 688.29 L284.00 688.57 L284.25 688.93 L284.50 689.38 L284.75 689.87 L285.00 690.35 L285.25 690.78 L285.50 691.12 L285.75 691.39 L286.00 691.57 L286.25 691.70 L286.50 691.78 L286.75 691.84 L287.00 691.88 L287.25 691.91 L287.50 691.92 L287.75 691.93 L288.00 691.91 L288.25 691.86 L288.50 691.79 L288.75 691.70 L289.00 691.62 L289.25 691.57 L289.50 691.57 L289.75 691.62 L290.00 691.72 L290.25 691.84 L290.50 691.95 L290.75 692.04 L291.00 692.10 L291.25 692.13 L291.50 692.16 L291.75 692.17 L292.00 692.18 L292.25 692.20 L292.50 692.23 L292.75 692.28 L293.00 692.35 L293.25 692.43 L293.50 692.51 L293.75 692.57 L294.00 692.58 L294.25 692.56 L294.50 692.49 L294.75 692.41 L295.00 692.34 L295.25 692.28 L295.50 692.24 L295.75 692.22 L296.00 692.20 L296.25 692.20 L296.50 692.20 L296.75 692.20 L297.00 692.20 L297.25 692.20 L297.50 692.19 L297.75 692.18 L298.00 692.15 L298.25 692.09 L298.50 691.99 L298.75 691.83 L299.00 691.63 L299.25 691.41 L299.50 691.23 L299.75 691.13 L300.00 691.15 L300.25 691.29 L300.50 691.49 L300.75 691.71 L301.00 691.90 L301.25 692.03 L301.50 692.12 L301.75 692.16 L302.00 692.18 L302.25 692.19 L302.50 692.19 L302.75 692.19 L303.00 692.19 L303.25 692.18 L303.50 692.18 L303.75 692.17 L304.00 692.17 L304.25 692.16 L304.50 692.15 L304.75 692.15 L305.00 692.14 L305.25 692.14 L305.50 692.14 L305.75 692.15 L306.00 692.15 L306.25 692.16 L306.50 692.16 L306.75 692.17 L307.00 692.18 L307.25 692.18 L307.50 692.19 L307.75 692.19 L308.00 692.19 L308.25 692.19 L308.50 692.19 L308.75 692.17 L309.00 692.15 L309.25 692.11 L309.50 692.06 L309.75 692.01 L310.00 691.97 L310.25 691.95 L310.50 691.96 L310.75 691.99 L311.00 692.01 L311.25 691.95 L311.50 691.79 L311.75 691.52 L312.00 691.25 L312.25 691.12 L312.50 691.21 L312.75 691.48 L313.00 691.79 L313.25 692.01 L313.50 692.13 L313.75 692.18 L314.00 692.19 L314.25 692.20 L314.50 692.19 L314.75 683.45 L315.00 674.69 L315.25 665.93 L315.50 657.14 L315.75 662.88 L316.00 667.35 L316.25 670.88 L316.50 673.69 L316.75 675.97 L317.00 677.85 L317.25 679.46 L317.50 680.86 L317.75 682.13 L318.00 683.28 L318.25 684.32 L318.50 685.24 L318.75 686.04 L319.00 686.72 L319.25 687.28 L319.50 687.74 L319.75 688.12 L320.00 688.44 L320.25 688.72 L320.50 688.96 L320.75 689.16 L321.00 689.33 L321.25 689.49 L321.50 689.64 L321.75 689.81 L322.00 690.02 L322.25 690.27 L322.50 690.55 L322.75 690.85 L323.00 691.12 L323.25 691.34 L323.50 691.51 L323.75 691.60 L324.00 691.64 L324.25 691.64 L324.50 691.61 L324.75 691.59 L325.00 691.59 L325.25 691.63 L325.50 691.70 L325.75 691.80 L326.00 691.89 L326.25 691.98 L326.50 692.06 L326.75 692.12 L327.00 692.16 L327.25 692.20 L327.50 692.23 L327.75 692.26 L328.00 692.28 L328.25 692.29 L328.50 692.30 L328.75 692.30 L329.00 692.29 L329.25 692.27 L329.50 692.26 L329.75 692.24 L330.00 692.23 L330.25 692.22 L330.50 692.21 L330.75 692.21 L331.00 692.22 L331.25 692.24 L331.50 692.27 L331.75 692.31 L332.00 692.34 L332.25 692.35 L332.50 692.32 L332.75 692.29 L333.00 692.25 L333.25 692.22 L333.50 692.21 L333.75 692.20 L334.00 692.20 L334.25 692.20 L334.50 692.20 L334.75 692.20 L335.00 692.20 L335.25 692.19 L335.50 692.19 L335.75 692.18 L336.00 692.18 L336.25 692.17 L336.50 692.16 L336.75 692.15 L337.00 692.13 L337.25 692.11 L337.50 692.08 L337.75 692.04 L338.00 691.97 L338.25 691.88 L338.50 691.78 L338.75 691.65 L339.00 691.52 L339.25 691.39 L339.50 691.27 L339.75 691.19 L340.00 691.14 L340.25 691.14 L340.50 691.19 L340.75 691.28 L341.00 691.41 L341.25 691.57 L341.50 691.73 L341.75 691.88 L342.00 692.02 L342.25 692.11 L342.50 692.18 L342.75 692.21 L343.00 692.22 L343.25 692.22 L343.50 692.21 L343.75 692.21 L344.00 692.20 L344.25 692.20 L344.50 692.20 L344.75 692.20 L345.00 692.20 L345.25 692.20 L345.50 692.20 L345.75 692.19 L346.00 692.18 L346.25 692.16 L346.50 692.12 L346.75 692.04 L347.00 691.91 L347.25 691.75 L347.50 691.57 L347.75 691.40 L348.00 691.29 L348.25 691.26 L348.50 691.31 L348.75 691.43 L349.00 691.56 L349.25 691.66 L349.50 691.71 L349.75 691.71 L350.00 691.67 L350.25 691.61 L350.50 691.55 L350.75 691.50 L351.00 691.49 L351.25 691.50 L351.50 691.55 L351.75 691.62 L352.00 691.71 L352.25 691.80 L352.50 691.89 L352.75 691.97 L353.00 692.04 L353.25 692.09 L353.50 682.77 L353.75 673.43 L354.00 664.08 L354.25 654.72 L354.50 660.97 L354.75 665.88 L355.00 669.82 L355.25 673.03 L355.50 675.68 L355.75 677.90 L356.00 679.77 L356.25 681.37 L356.50 682.74 L356.75 683.93 L357.00 684.96 L357.25 685.86 L357.50 686.65 L357.75 687.34 L358.00 687.94 L358.25 688.46 L358.50 688.90 L358.75 689.27 L359.00 689.55 L359.25 689.76 L359.50 689.88 L359.75 689.93 L360.00 689.92 L360.25 689.91 L360.50 689.91 L360.75 689.97 L361.00 690.10 L361.25 690.29 L361.50 690.53 L361.75 690.79 L362.00 691.03 L362.25 691.25 L362.50 691.43 L362.75 691.57 L363.00 691.66 L363.25 691.70 L363.50 691.65 L363.75 691.53 L364.00 691.37 L364.25 691.24 L364.50 691.24 L364.75 691.38 L365.00 691.60 L365.25 691.81 L365.50 691.93 L365.75 691.94 L366.00 691.84 L366.25 691.65 L366.50 691.40 L366.75 691.17 L367.00 691.04 L367.25 691.06 L367.50 691.22 L367.75 691.47 L368.00 691.72 L368.25 691.93 L368.50 692.06 L368.75 692.13 L369.00 692.15 L369.25 692.16 L369.50 692.15 L369.75 692.12 L370.00 692.09 L370.25 692.04 L370.50 691.98 L370.75 691.92 L371.00 691.84 L371.25 691.77 L371.50 691.70 L371.75 691.65 L372.00 691.62 L372.25 681.19 L372.50 670.80 L372.75 660.42 L373.00 650.06 L373.25 657.09 L373.50 662.64 L373.75 667.11 L374.00 670.75 L374.25 673.76 L374.50 676.26 L374.75 678.37 L375.00 680.15 L375.25 681.68 L375.50 683.00 L375.75 684.15 L376.00 685.17 L376.25 686.05 L376.50 686.83 L376.75 687.51 L377.00 688.09 L377.25 688.59 L377.50 688.99 L377.75 689.32 L378.00 689.55 L378.25 689.70 L378.50 689.77 L378.75 689.78 L379.00 689.76 L379.25 689.76 L379.50 689.81 L379.75 689.92 L380.00 690.09 L380.25 690.29 L380.50 690.51 L380.75 690.72 L381.00 690.90 L381.25 691.06 L381.50 691.20 L381.75 691.33 L382.00 691.45 L382.25 691.56 L382.50 691.67 L382.75 691.77 L383.00 691.85 L383.25 691.92 L383.50 691.98 L383.75 692.03 L384.00 692.07 L384.25 692.10 L384.50 692.13 L384.75 692.16 L385.00 692.19 L385.25 692.23 L385.50 692.27 L385.75 692.32 L386.00 692.37 L386.25 692.40 L386.50 692.43 L386.75 692.43 L387.00 692.42 L387.25 692.39 L387.50 692.36 L387.75 692.34 L388.00 692.34 L388.25 692.39 L388.50 692.49 L388.75 692.58 L389.00 692.63 L389.25 692.60 L389.50 692.50 L389.75 692.39 L390.00 692.29 L390.25 692.24 L390.50 692.21 L390.75 692.20 L391.00 676.45 L391.25 660.71 L391.50 644.96 L391.75 629.20 L392.00 639.67 L392.25 647.89 L392.50 654.46 L392.75 659.79 L393.00 664.17 L393.25 667.80 L393.50 670.85 L393.75 673.44 L394.00 675.66 L394.25 677.60 L394.50 679.30 L394.75 680.82 L395.00 682.18 L395.25 683.40 L395.50 684.48 L395.75 685.42 L396.00 686.23 L396.25 686.89 L396.50 687.39 L396.75 687.75 L397.00 687.96 L397.25 688.06 L397.50 688.09 L397.75 688.12 L398.00 688.20 L398.25 688.40 L398.50 688.73 L398.75 689.17 L399.00 689.66 L399.25 690.16 L399.50 690.60 L399.75 690.95 L400.00 691.20 L400.25 691.34 L400.50 691.40 L400.75 691.38 L401.00 691.35 L401.25 691.34 L401.50 691.38 L401.75 691.49 L402.00 691.63 L402.25 691.78 L402.50 691.90 L402.75 691.99 L403.00 692.05 L403.25 692.09 L403.50 692.11 L403.75 692.13 L404.00 692.14 L404.25 692.15 L404.50 692.15 L404.75 692.16 L405.00 692.16 L405.25 692.16 L405.50 692.15 L405.75 692.13 L406.00 692.10 L406.25 692.03 L406.50 691.92 L406.75 691.77 L407.00 691.58 L407.25 691.37 L407.50 691.18 L407.75 691.05 L408.00 691.00 L408.25 691.04 L408.50 691.16 L408.75 691.31 L409.00 691.46 L409.25 691.57 L409.50 691.61 L409.75 691.60 L410.00 691.54 L410.25 691.46 L410.50 682.33 L410.75 673.21 L411.00 664.13 L411.25 655.09 L411.50 661.17 L411.75 665.98 L412.00 669.85 L412.25 672.97 L412.50 675.50 L412.75 677.58 L413.00 679.37 L413.25 680.99 L413.50 682.50 L413.75 683.87 L414.00 685.05 L414.25 686.02 L414.50 686.76 L414.75 687.27 L415.00 687.57 L415.25 687.76 L415.50 688.00 L415.75 688.38 L416.00 688.89 L416.25 689.40 L416.50 689.76 L416.75 689.93 L417.00 689.94 L417.25 689.83 L417.50 689.69 L417.75 689.55 L418.00 689.48 L418.25 689.52 L418.50 689.67 L418.75 689.95 L419.00 690.30 L419.25 690.70 L419.50 691.07 L419.75 691.41 L420.00 691.68 L420.25 691.89 L420.50 692.05 L420.75 692.15 L421.00 692.21 L421.25 692.23 L421.50 692.22 L421.75 692.20 L422.00 692.17 L422.25 692.15 L422.50 692.15 L422.75 692.15 L423.00 692.16 L423.25 692.17 L423.50 692.19 L423.75 692.22 L424.00 692.24 L424.25 692.28 L424.50 692.32 L424.75 692.36 L425.00 692.40 L425.25 692.44 L425.50 692.47 L425.75 692.49 L426.00 692.48 L426.25 692.46 L426.50 692.42 L426.75 692.36 L427.00 692.27 L427.25 692.16 L427.50 692.03 L427.75 691.87 L428.00 691.70 L428.25 691.53 L428.50 691.35 L428.75 691.20 L429.00 691.07 L429.25 690.99 L429.50 690.96 L429.75 682.12 L430.00 673.33 L430.25 664.59 L430.50 655.87 L430.75 661.94 L431.00 666.75 L431.25 670.64 L431.50 673.81 L431.75 676.44 L432.00 678.63 L432.25 680.47 L432.50 682.04 L432.75 683.37 L433.00 684.50 L433.25 685.48 L433.50 686.32 L433.75 687.03 L434.00 687.61 L434.25 688.05 L434.50 688.36 L434.75 688.58 L435.00 688.80 L435.25 689.08 L435.50 689.38 L435.75 689.60 L436.00 689.66 L436.25 689.55 L436.50 689.35 L436.75 689.18 L437.00 689.14 L437.25 689.29 L437.50 689.64 L437.75 690.10 L438.00 690.60 L438.25 691.04 L438.50 691.39 L438.75 691.62 L439.00 691.78 L439.25 691.87 L439.50 691.92 L439.75 691.95 L440.00 691.96 L440.25 691.94 L440.50 691.89 L440.75 691.83 L441.00 691.74 L441.25 691.66 L441.50 691.58 L441.75 691.52 L442.00 691.46 L442.25 691.40 L442.50 691.33 L442.75 691.25 L443.00 691.17 L443.25 691.09 L443.50 691.04 L443.75 691.03 L444.00 691.05 L444.25 691.12 L444.50 691.22 L444.75 691.35 L445.00 691.49 L445.25 691.63 L445.50 691.76 L445.75 691.87 L446.00 691.96 L446.25 692.04 L446.50 692.09 L446.75 692.13 L447.00 692.16 L447.25 692.17 L447.50 692.18 L447.75 692.19 L448.00 692.21 L448.25 692.23 L448.50 684.34 L448.75 676.47 L449.00 668.61 L449.25 660.75 L449.50 666.08 L449.75 670.25 L450.00 673.55 L450.25 676.22 L450.50 678.40 L450.75 680.24 L451.00 681.79 L451.25 683.13 L451.50 684.27 L451.75 685.25 L452.00 686.08 L452.25 686.77 L452.50 687.32 L452.75 687.74 L453.00 688.05 L453.25 688.28 L453.50 688.45 L453.75 688.60 L454.00 688.77 L454.25 688.96 L454.50 689.18 L454.75 689.41 L455.00 689.64 L455.25 689.87 L455.50 690.09 L455.75 690.32 L456.00 690.56 L456.25 690.81 L456.50 691.06 L456.75 691.29 L457.00 691.47 L457.25 691.61 L457.50 691.67 L457.75 691.67 L458.00 691.60 L458.25 691.50 L458.50 691.40 L458.75 691.35 L459.00 691.37 L459.25 691.48 L459.50 691.63 L459.75 691.79 L460.00 691.93 L460.25 692.03 L460.50 692.09 L460.75 692.12 L461.00 692.14 L461.25 692.15 L461.50 692.15 L461.75 692.16 L462.00 692.15 L462.25 692.14 L462.50 692.14 L462.75 692.13 L463.00 692.13 L463.25 692.13 L463.50 692.14 L463.75 692.15 L464.00 692.17 L464.25 692.18 L464.50 692.18 L464.75 692.19 L465.00 692.19 L465.25 692.19 L465.50 692.19 L465.75 692.19 L466.00 692.19 L466.25 692.18 L466.50 692.17 L466.75 692.16 L467.00 692.13 L467.25 692.09 L467.50 692.03 L467.75 691.95 L468.00 683.11 L468.25 674.27 L468.50 665.44 L468.75 656.63 L469.00 662.41 L469.25 667.00 L469.50 670.72 L469.75 673.80 L470.00 676.38 L470.25 678.57 L470.50 680.42 L470.75 682.01 L471.00 683.36 L471.25 684.52 L471.50 685.51 L471.75 686.37 L472.00 687.10 L472.25 687.74 L472.50 688.29 L472.75 688.77 L473.00 689.17 L473.25 689.51 L473.50 689.77 L473.75 689.94 L474.00 690.05 L474.25 690.08 L474.50 690.08 L474.75 690.08 L475.00 690.12 L475.25 690.23 L475.50 690.41 L475.75 690.65 L476.00 690.91 L476.25 691.17 L476.50 691.39 L476.75 691.56 L477.00 691.69 L477.25 691.78 L477.50 691.84 L477.75 691.88 L478.00 691.91 L478.25 691.94 L478.50 691.97 L478.75 691.99 L479.00 692.02 L479.25 692.04 L479.50 692.06 L479.75 692.09 L480.00 692.10 L480.25 692.12 L480.50 692.13 L480.75 692.14 L481.00 692.15 L481.25 692.16 L481.50 692.16 L481.75 692.17 L482.00 692.17 L482.25 692.17 L482.50 692.17 L482.75 692.16 L483.00 692.16 L483.25 692.15 L483.50 692.15 L483.75 692.14 L484.00 692.15 L484.25 692.15 L484.50 692.16 L484.75 692.17 L485.00 692.18 L485.25 692.18 L485.50 692.17 L485.75 692.16 L486.00 692.13 L486.25 692.09 L486.50 692.03 L486.75 691.96 L487.00 691.87 L487.25 675.86 L487.50 659.87 L487.75 643.90 L488.00 627.96 L488.25 638.60 L488.50 647.03 L488.75 653.82 L489.00 659.39 L489.25 664.02 L489.50 667.91 L489.75 671.23 L490.00 674.08 L490.25 676.55 L490.50 678.69 L490.75 680.52 L491.00 682.06 L491.25 683.35 L491.50 684.41 L491.75 685.31 L492.00 686.06 L492.25 686.68 L492.50 687.16 L492.75 687.50 L493.00 687.75 L493.25 687.95 L493.50 688.13 L493.75 688.30 L494.00 688.44 L494.25 688.55 L494.50 688.68 L494.75 688.85 L495.00 689.09 L495.25 689.41 L495.50 689.78 L495.75 690.18 L496.00 690.58 L496.25 690.95 L496.50 691.25 L496.75 691.48 L497.00 691.65 L497.25 691.76 L497.50 691.83 L497.75 691.88 L498.00 691.91 L498.25 691.93 L498.50 691.93 L498.75 691.93 L499.00 691.91 L499.25 691.89 L499.50 691.85 L499.75 691.82 L500.00 691.78 L500.25 691.75 L500.50 691.73 L500.75 691.72 L501.00 691.72 L501.25 691.73 L501.50 691.75 L501.75 691.76 L502.00 691.76 L502.25 691.76 L502.50 691.75 L502.75 691.74 L503.00 691.74 L503.25 691.74 L503.50 691.76 L503.75 691.79 L504.00 691.80 L504.25 691.79 L504.50 691.72 L504.75 691.56 L505.00 691.33 L505.25 691.10 L505.50 690.95 L505.75 690.97 L506.00 682.17 L506.25 673.46 L506.50 664.76 L506.75 655.99 L507.00 662.12 L507.25 666.91 L507.50 670.72 L507.75 673.81 L508.00 676.34 L508.25 678.43 L508.50 680.18 L508.75 681.63 L509.00 682.84 L509.25 683.83 L509.50 684.66 L509.75 685.35 L510.00 685.94 L510.25 686.46 L510.50 686.94 L510.75 687.40 L511.00 687.86 L511.25 688.30 L511.50 688.72 L511.75 689.10 L512.00 689.42 L512.25 689.68 L512.50 689.89 L512.75 690.07 L513.00 690.25 L513.25 690.46 L513.50 690.71 L513.75 690.98 L514.00 691.25 L514.25 691.48 L514.50 691.67 L514.75 691.80 L515.00 691.89 L515.25 691.93 L515.50 691.96 L515.75 691.98 L516.00 692.00 L516.25 692.02 L516.50 692.04 L516.75 692.05 L517.00 692.07 L517.25 692.08 L517.50 692.09 L517.75 692.10 L518.00 692.11 L518.25 692.12 L518.50 692.12 L518.75 692.13 L519.00 692.13 L519.25 692.13 L519.50 692.14 L519.75 692.14 L520.00 692.15 L520.25 692.15 L520.50 692.15 L520.75 692.15 L521.00 692.11 L521.25 692.00 L521.50 691.79 L521.75 691.48 L522.00 691.17 L522.25 691.03 L522.50 691.14 L522.75 691.41 L523.00 691.69 L523.25 691.87 L523.50 691.91 L523.75 691.86 L524.00 691.75 L524.25 691.61 L524.50 691.46 L524.75 669.01 L525.00 646.59 L525.25 624.21 L525.50 601.87 L525.75 616.77 L526.00 628.57 L526.25 638.09 L526.50 645.90 L526.75 652.40 L527.00 657.86 L527.25 662.48 L527.50 666.42 L527.75 669.78 L528.00 672.67 L528.25 675.15 L528.50 677.28 L528.75 679.12 L529.00 680.69 L529.25 682.02 L529.50 683.15 L529.75 684.07 L530.00 684.81 L530.25 685.39 L530.50 685.80 L530.75 686.07 L531.00 686.25 L531.25 686.38 L531.50 686.52 L531.75 686.76 L532.00 687.12 L532.25 687.64 L532.50 688.26 L532.75 688.94 L533.00 689.59 L533.25 690.17 L533.50 690.63 L533.75 690.98 L534.00 691.24 L534.25 691.44 L534.50 691.58 L534.75 691.70 L535.00 691.81 L535.25 691.90 L535.50 691.98 L535.75 692.03 L536.00 692.06 L536.25 692.06 L536.50 692.02 L536.75 691.95 L537.00 691.86 L537.25 691.75 L537.50 691.64 L537.75 691.53 L538.00 691.43 L538.25 691.37 L538.50 691.36 L538.75 691.39 L539.00 691.48 L539.25 691.60 L539.50 691.75 L539.75 691.91 L540.00 692.06 L540.25 692.20 L540.50 692.32 L540.75 692.41 L541.00 692.49 L541.25 692.53 L541.50 692.56 L541.75 692.56 L542.00 692.55 L542.25 692.52 L542.50 692.48 L542.75 692.43 L543.00 692.39 L543.25 692.35 L543.50 692.31 L543.75 692.27 L544.00 692.25 L544.25 692.22 L544.50 692.20 L544.75 692.17 L545.00 692.13 L545.25 692.08 L545.50 692.02 L545.75 691.94 L546.00 691.86 L546.25 691.79 L546.50 691.73 L546.75 691.71 L547.00 691.72 L547.25 691.77 L547.50 691.84 L547.75 691.92 L548.00 692.00 L548.25 692.06 L548.50 692.11 L548.75 692.15 L549.00 692.17 L549.25 692.19 L549.50 692.19 L549.75 692.19 L550.00 692.19 L550.25 692.18 L550.50 692.17 L550.75 692.14 L551.00 692.10 L551.25 692.04 L551.50 691.98 L551.75 691.93 L552.00 691.89 L552.25 691.88 L552.50 691.91 L552.75 691.95 L553.00 692.01 L553.25 692.07 L553.50 692.12 L553.75 692.15 L554.00 692.18 L554.25 692.19 L554.50 692.20 L554.75 692.21 L555.00 692.22 L555.25 692.23 L555.50 692.24 L555.75 692.23 L556.00 692.22 L556.25 692.21 L556.50 692.21 L556.75 692.20 L557.00 692.20 L557.25 692.20 L557.50 692.20 L557.75 692.19 L558.00 692.18 L558.25 692.17 L558.50 692.14 L558.75 692.12 L559.00 692.08 L559.25 692.04 L559.50 692.00 L559.75 691.97 L560.00 691.95 L560.25 691.95 L560.50 691.97 L560.75 692.00 L561.00 692.03 L561.25 692.05 L561.50 692.07 L561.75 692.06 L562.00 692.05 L562.25 692.05 L562.50 692.06 L562.75 692.09 L563.00 692.12 L563.25 692.16 L563.50 684.08 L563.75 675.98 L564.00 667.88 L564.25 659.78 L564.50 665.19 L564.75 669.46 L565.00 672.88 L565.25 675.67 L565.50 677.97 L565.75 679.90 L566.00 681.53 L566.25 682.91 L566.50 684.09 L566.75 685.10 L567.00 685.96 L567.25 686.71 L567.50 687.35 L567.75 687.90 L568.00 688.38 L568.25 688.80 L568.50 689.18 L568.75 689.51 L569.00 689.79 L569.25 690.03 L569.50 690.21 L569.75 690.36 L570.00 690.47 L570.25 690.59 L570.50 690.72 L570.75 690.90 L571.00 691.11 L571.25 691.34 L571.50 691.56 L571.75 691.75 L572.00 691.88 L572.25 691.96 L572.50 692.00 L572.75 692.01 L573.00 692.01 L573.25 692.00 L573.50 691.98 L573.75 691.95 L574.00 691.89 L574.25 691.81 L574.50 691.72 L574.75 691.61 L575.00 691.52 L575.25 691.47 L575.50 691.47 L575.75 691.52 L576.00 691.63 L576.25 691.75 L576.50 691.87 L576.75 691.98 L577.00 692.06 L577.25 692.11 L577.50 692.15 L577.75 692.16 L578.00 692.17 L578.25 692.17 L578.50 692.14 L578.75 692.09 L579.00 692.00 L579.25 691.86 L579.50 691.68 L579.75 691.51 L580.00 691.40 L580.25 691.39 L580.50 691.48 L580.75 691.64 L581.00 691.82 L581.25 691.97 L581.50 692.08 L581.75 692.14 L582.00 692.17 L582.25 692.18 L582.50 684.44 L582.75 676.68 L583.00 668.90 L583.25 661.10 L583.50 666.18 L583.75 670.17 L584.00 673.38 L584.25 676.04 L584.50 678.28 L584.75 680.19 L585.00 681.82 L585.25 683.19 L585.50 684.35 L585.75 685.32 L586.00 686.14 L586.25 686.83 L586.50 687.41 L586.75 687.91 L587.00 688.33 L587.25 688.71 L587.50 689.03 L587.75 689.32 L588.00 689.57 L588.25 689.78 L588.50 689.95 L588.75 690.07 L589.00 690.17 L589.25 690.25 L589.50 690.35 L589.75 690.48 L590.00 690.66 L590.25 690.87 L590.50 691.09 L590.75 691.31 L591.00 691.51 L591.25 691.66 L591.50 691.78 L591.75 691.87 L592.00 691.93 L592.25 691.97 L592.50 692.01 L592.75 692.04 L593.00 692.06 L593.25 692.09 L593.50 692.11 L593.75 692.14 L594.00 692.18 L594.25 692.24 L594.50 692.30 L594.75 692.37 L595.00 692.43 L595.25 692.49 L595.50 692.53 L595.75 692.53 L596.00 692.51 L596.25 692.47 L596.50 692.41 L596.75 692.35 L597.00 692.30 L597.25 692.26 L597.50 692.23 L597.75 692.21 L598.00 692.20 L598.25 692.20 L598.50 692.21 L598.75 692.21 L599.00 692.22 L599.25 692.24 L599.50 692.26 L599.75 692.29 L600.00 692.32 L600.25 692.35 L600.50 692.37 L600.75 692.40 L601.00 692.41 L601.25 692.41 L601.50 692.40 L601.75 684.27 L602.00 676.13 L602.25 667.99 L602.50 659.85 L602.75 665.23 L603.00 669.48 L603.25 672.88 L603.50 675.66 L603.75 677.96 L604.00 679.88 L604.25 681.51 L604.50 682.90 L604.75 684.09 L605.00 685.12 L605.25 686.00 L605.50 686.77 L605.75 687.44 L606.00 688.02 L606.25 688.52 L606.50 688.96 L606.75 689.34 L607.00 689.66 L607.25 689.92 L607.50 690.11 L607.75 690.25 L608.00 690.33 L608.25 690.37 L608.50 690.40 L608.75 690.45 L609.00 690.53 L609.25 690.67 L609.50 690.86 L609.75 691.07 L610.00 691.27 L610.25 691.45 L610.50 691.59 L610.75 691.69 L611.00 691.76 L611.25 691.79 L611.50 691.82 L611.75 691.84 L612.00 691.86 L612.25 691.88 L612.50 691.91 L612.75 691.94 L613.00 691.98 L613.25 692.02 L613.50 692.05 L613.75 692.07 L614.00 692.09 L614.25 692.09 L614.50 692.09 L614.75 692.07 L615.00 692.04 L615.25 691.99 L615.50 691.93 L615.75 691.87 L616.00 691.80 L616.25 691.73 L616.50 691.67 L616.75 691.63 L617.00 691.62 L617.25 691.63 L617.50 691.66 L617.75 691.72 L618.00 691.79 L618.25 691.86 L618.50 691.94 L618.75 692.00 L619.00 692.06 L619.25 692.10 L619.50 692.13 L619.75 692.15 L620.00 692.15 L620.25 692.13 L620.50 684.98 L620.75 677.80 L621.00 670.58 L621.25 663.32 L621.50 667.89 L621.75 671.43 L622.00 674.24 L622.25 676.54 L622.50 678.48 L622.75 680.18 L623.00 681.70 L623.25 683.07 L623.50 684.31 L623.75 685.41 L624.00 686.38 L624.25 687.21 L624.50 687.92 L624.75 688.51 L625.00 689.02 L625.25 689.44 L625.50 689.78 L625.75 690.06 L626.00 690.27 L626.25 690.43 L626.50 690.53 L626.75 690.59 L627.00 690.62 L627.25 690.63 L627.50 690.67 L627.75 690.74 L628.00 690.86 L628.25 690.99 L628.50 691.11 L628.75 691.16 L629.00 691.12 L629.25 691.02 L629.50 690.97 L629.75 691.06 L630.00 691.29 L630.25 691.57 L630.50 691.81 L630.75 691.96 L631.00 692.04 L631.25 692.07 L631.50 692.09 L631.75 692.11 L632.00 692.11 L632.25 692.11 L632.50 692.09 L632.75 692.05 L633.00 691.98 L633.25 691.87 L633.50 691.72 L633.75 691.57 L634.00 691.45 L634.25 691.39 L634.50 691.41 L634.75 691.50 L635.00 691.65 L635.25 691.80 L635.50 691.95 L635.75 692.06 L636.00 692.13 L636.25 692.18 L636.50 692.22 L636.75 692.25 L637.00 692.27 L637.25 692.29 L637.50 692.31 L637.75 692.31 L638.00 692.29 L638.25 692.24 L638.50 692.16 L638.75 692.04 L639.00 691.88 L639.25 691.70 L639.50 691.50 L639.75 683.88 L640.00 676.29 L640.25 668.75 L640.50 661.26 L640.75 666.22 L641.00 670.20 L641.25 673.45 L641.50 676.16 L641.75 678.44 L642.00 680.37 L642.25 682.02 L642.50 683.41 L642.75 684.61 L643.00 685.62 L643.25 686.49 L643.50 687.23 L643.75 687.87 L644.00 688.42 L644.25 688.89 L644.50 689.30 L644.75 689.65 L645.00 689.94 L645.25 690.18 L645.50 690.35 L645.75 690.46 L646.00 690.53 L646.25 690.56 L646.50 690.57 L646.75 690.61 L647.00 690.69 L647.25 690.81 L647.50 690.98 L647.75 691.18 L648.00 691.38 L648.25 691.56 L648.50 691.71 L648.75 691.84 L649.00 691.94 L649.25 692.02 L649.50 692.09 L649.75 692.16 L650.00 692.22 L650.25 692.27 L650.50 692.31 L650.75 692.34 L651.00 692.35 L651.25 692.35 L651.50 692.34 L651.75 692.32 L652.00 692.30 L652.25 692.27 L652.50 692.24 L652.75 692.22 L653.00 692.20 L653.25 692.19 L653.50 692.17 L653.75 692.15 L654.00 692.12 L654.25 692.08 L654.50 692.03 L654.75 691.95 L655.00 691.86 L655.25 691.77 L655.50 691.67 L655.75 691.58 L656.00 691.52 L656.25 691.50 L656.50 691.50 L656.75 691.54 L657.00 691.60 L657.25 691.66 L657.50 691.71 L657.75 691.73 L658.00 691.72 L658.25 691.67 L658.50 691.59 L658.75 691.48 L659.00 691.36 L659.25 677.07 L659.50 662.79 L659.75 648.54 L660.00 634.34 L660.25 643.81 L660.50 651.31 L660.75 657.39 L661.00 662.38 L661.25 666.54 L661.50 670.03 L661.75 672.98 L662.00 675.46 L662.25 677.54 L662.50 679.28 L662.75 680.73 L663.00 681.96 L663.25 683.03 L663.50 684.01 L663.75 684.93 L664.00 685.80 L664.25 686.62 L664.50 687.34 L664.75 687.95 L665.00 688.40 L665.25 688.71 L665.50 688.88 L665.75 688.95 L666.00 688.99 L666.25 689.06 L666.50 689.22 L666.75 689.48 L667.00 689.83 L667.25 690.22 L667.50 690.61 L667.75 690.95 L668.00 691.23 L668.25 691.44 L668.50 691.59 L668.75 691.70 L669.00 691.78 L669.25 691.84 L669.50 691.89 L669.75 691.93 L670.00 691.96 L670.25 691.97 L670.50 691.94 L670.75 691.85 L671.00 691.66 L671.25 691.38 L671.50 691.09 L671.75 690.91 L672.00 690.92 L672.25 691.13 L672.50 691.44 L672.75 691.74 L673.00 691.95 L673.25 692.08 L673.50 692.14 L673.75 692.16 L674.00 692.17 L674.25 692.17 L674.50 692.18 L674.75 692.17 L675.00 692.16 L675.25 692.13 L675.50 692.09 L675.75 692.03 L676.00 691.98 L676.25 691.96 L676.50 691.97 L676.75 692.03 L677.00 692.09 L677.25 692.14 L677.50 692.18 L677.75 692.20 L678.00 679.41 L678.25 666.62 L678.50 653.83 L678.75 641.04 L679.00 649.59 L679.25 656.32 L679.50 661.73 L679.75 666.14 L680.00 669.79 L680.25 672.85 L680.50 675.45 L680.75 677.66 L681.00 679.56 L681.25 681.18 L681.50 682.56 L681.75 683.73 L682.00 684.71 L682.25 685.53 L682.50 686.21 L682.75 686.79 L683.00 687.28 L683.25 687.70 L683.50 688.06 L683.75 688.37 L684.00 688.62 L684.25 688.81 L684.50 688.95 L684.75 689.09 L685.00 689.24 L685.25 689.44 L685.50 689.72 L685.75 690.05 L686.00 690.41 L686.25 690.76 L686.50 691.07 L686.75 691.32 L687.00 691.52 L687.25 691.66 L687.50 691.77 L687.75 691.86 L688.00 691.94 L688.25 692.01 L688.50 692.07 L688.75 692.11 L689.00 692.14 L689.25 692.15 L689.50 692.15 L689.75 692.14 L690.00 692.13 L690.25 692.13 L690.50 692.13 L690.75 692.13 L691.00 692.14 L691.25 692.14 L691.50 692.15 L691.75 692.16 L692.00 692.17 L692.25 692.17 L692.50 692.17 L692.75 692.17 L693.00 692.17 L693.25 692.16 L693.50 692.14 L693.75 692.11 L694.00 692.06 L694.25 692.00 L694.50 691.93 L694.75 691.83 L695.00 691.74 L695.25 691.64 L695.50 691.56 L695.75 691.50 L696.00 691.47 L696.25 691.47 L696.50 691.52 L696.75 691.59 L697.00 691.68 L697.25 684.67 L697.50 677.65 L697.75 670.63 L698.00 663.58 L698.25 668.38 L698.50 672.15 L698.75 675.17 L699.00 677.60 L699.25 679.59 L699.50 681.21 L699.75 682.53 L700.00 683.60 L700.25 684.46 L700.50 685.16 L700.75 685.75 L701.00 686.28 L701.25 686.81 L701.50 687.35 L701.75 687.90 L702.00 688.45 L702.25 688.98 L702.50 689.44 L702.75 689.80 L703.00 690.06 L703.25 690.20 L703.50 690.23 L703.75 690.18 L704.00 690.09 L704.25 689.99 L704.50 689.93 L704.75 689.94 L705.00 690.02 L705.25 690.18 L705.50 690.39 L705.75 690.63 L706.00 690.88 L706.25 691.12 L706.50 691.34 L706.75 691.53 L707.00 691.69 L707.25 691.82 L707.50 691.91 L707.75 691.98 L708.00 692.02 L708.25 692.04 L708.50 692.03 L708.75 692.01 L709.00 691.99 L709.25 691.96 L709.50 691.96 L709.75 691.97 L710.00 692.00 L710.25 692.03 L710.50 692.05 L710.75 692.02 L711.00 691.92 L711.25 691.74 L711.50 691.50 L711.75 691.30 L712.00 691.23 L712.25 691.32 L712.50 691.54 L712.75 691.78 L713.00 691.97 L713.25 692.09 L713.50 692.15 L713.75 692.17 L714.00 692.16 L714.25 692.15 L714.50 692.13 L714.75 692.10 L715.00 692.06 L715.25 692.01 L715.50 691.96 L715.75 691.90 L716.00 691.84 L716.25 691.79 L716.50 691.75 L716.75 691.73 L717.00 691.72 L717.25 691.73 L717.50 691.76 L717.75 691.80 L718.00 691.86 L718.25 691.91 L718.50 691.97 L718.75 692.02 L719.00 692.07 L719.25 692.11 L719.50 692.14 L719.75 692.16 L720.00 692.17 L720.25 692.17 L720.50 692.14 L720.75 692.06 L721.00 691.90 L721.25 691.65 L721.50 691.34 L721.75 691.07 L722.00 690.95 L722.25 691.03 L722.50 691.29 L722.75 691.60 L723.00 691.87 L723.25 692.04 L723.50 692.14 L723.75 692.18 L724.00 692.18 L724.25 692.17 L724.50 692.14 L724.75 692.08 L725.00 692.00 L725.25 691.89 L725.50 691.79 L725.75 691.70 L726.00 691.67 L726.25 691.69 L726.50 691.77 L726.75 691.87 L727.00 691.98 L727.25 692.07 L727.50 692.13 L727.75 692.16 L728.00 692.17 L728.25 692.17 L728.50 692.16 L728.75 692.15 L729.00 692.13 L729.25 692.10 L729.50 692.08 L729.75 692.06 L730.00 692.04 L730.25 692.03 L730.50 692.02 L730.75 692.00 L731.00 691.98 L731.25 691.95 L731.50 691.92 L731.75 691.90 L732.00 691.89 L732.25 691.90 L732.50 691.93 L732.75 691.97 L733.00 692.02 L733.25 692.05 L733.50 692.07 L733.75 692.08 L734.00 692.07 L734.25 692.05 L734.50 692.02 L734.75 692.00 L735.00 691.99 L735.25 691.98 L735.50 691.99 L735.75 692.00 L736.00 692.03 L736.25 692.05 L736.50 692.08 L736.75 692.11 L737.00 692.13 L737.25 692.15 L737.50 692.15 L737.75 692.15 L738.00 692.14 L738.25 692.11 L738.50 692.07 L738.75 692.02 L739.00 691.96 L739.25 691.91 L739.50 691.86 L739.75 691.82 L740.00 691.81 L740.25 691.83 L740.50 691.86 L740.75 691.91 L741.00 691.97 L741.25 692.03 L741.50 692.08 L741.75 692.12 L742.00 692.15 L742.25 692.18 L742.50 692.20 L742.75 692.23 L743.00 692.27 L743.25 692.31 L743.50 692.31 L743.75 692.29 L744.00 692.23 L744.25 692.17 L744.50 692.10 L744.75 692.04 L745.00 691.97 L745.25 691.90 L745.50 691.83 L745.75 691.76 L746.00 691.70 L746.25 691.65 L746.50 691.63 L746.75 691.63 L747.00 691.65 L747.25 691.70 L747.50 691.76 L747.75 691.84 L748.00 691.91 L748.25 691.97 L748.50 692.03 L748.75 692.07 L749.00 692.10 L749.25 692.11 L749.50 692.11 L749.75 692.09 L750.00 692.06 L750.25 692.02 L750.50 691.98 L750.75 691.93 L751.00 691.88 L751.25 691.84 L751.50 691.80 L751.75 691.78 L752.00 691.78 L752.25 691.79 L752.50 691.82 L752.75 691.86 L753.00 691.90 L753.25 691.95 L753.50 691.99 L753.75 692.01 L754.00 692.00 L754.25 678.84 L754.50 665.63 L754.75 652.38 L755.00 639.09 L755.25 647.67 L755.50 654.44 L755.75 659.91 L756.00 664.46 L756.25 668.31 L756.50 671.61 L756.75 674.44 L757.00 676.86 L757.25 678.92 L757.50 680.68 L757.75 682.17 L758.00 683.45 L758.25 684.55 L758.50 685.50 L758.75 686.31 L759.00 686.99 L759.25 687.52 L759.50 687.89 L759.75 688.10 L760.00 688.15 L760.25 688.10 L760.50 688.02 L760.75 687.99 L761.00 688.09 L761.25 688.33 L761.50 688.69 L761.75 689.12 L762.00 689.57 L762.25 689.97 L762.50 690.30 L762.75 690.55 L763.00 690.74 L763.25 690.89 L763.50 691.02 L763.75 691.16 L764.00 691.31 L764.25 691.46 L764.50 691.61 L764.75 691.75 L765.00 691.87 L765.25 691.99 L765.50 692.10 L765.75 692.21 L766.00 692.33 L766.25 692.45 L766.50 692.54 L766.75 692.60 L767.00 692.61 L767.25 692.57 L767.50 692.50 L767.75 692.41 L768.00 692.32 L768.25 692.24 L768.50 692.18 L768.75 692.13 L769.00 692.10 L769.25 692.06 L769.50 692.03 L769.75 692.00 L770.00 691.98 L770.25 691.97 L770.50 691.96 L770.75 691.96 L771.00 691.97 L771.25 691.99 L771.50 692.01 L771.75 692.03 L772.00 692.04 L772.25 692.05 L772.50 692.03 L772.75 692.00 L773.00 691.94 L773.25 691.87 L773.50 691.78 L773.75 691.68 L774.00 691.58 L774.25 691.49 L774.50 691.43 L774.75 691.39 L775.00 691.38 L775.25 691.41 L775.50 691.47 L775.75 691.56 L776.00 691.66 L776.25 691.76 L776.50 691.86 L776.75 691.95 L777.00 692.02 L777.25 692.08 L777.50 692.12 L777.75 692.15 L778.00 692.17 L778.25 692.18 L778.50 692.19 L778.75 692.20 L779.00 692.20 L779.25 692.20 L779.50 692.20 L779.75 692.20 L780.00 692.20 L780.25 692.20 L780.50 692.20 L780.75 692.20 L781.00 692.20 L781.25 692.20 L781.50 692.20 L781.75 692.20 L782.00 692.20 L782.25 692.20 L782.50 692.20" fill="none" stroke="#1e1e1e" stroke-width="1.05" stroke-linejoin="round"/>
<path d="M125.10 620.00 V656.10" stroke="#0a0a0a" stroke-width="1.5"/>
<path d="M144.35 648.00 V670.10" stroke="#0a0a0a" stroke-width="1.5"/>
<path d="M163.35 591.25 V641.73" stroke="#0a0a0a" stroke-width="1.5"/>
<path d="M201.35 654.25 V673.23" stroke="#0a0a0a" stroke-width="1.5"/>
<path d="M239.35 619.25 V655.73" stroke="#0a0a0a" stroke-width="1.5"/>
<path d="M258.85 650.50 V671.35" stroke="#0a0a0a" stroke-width="1.5"/>
<path d="M277.60 624.25 V658.23" stroke="#0a0a0a" stroke-width="1.5"/>
<path d="M315.60 657.25 V674.73" stroke="#0a0a0a" stroke-width="1.5"/>
<path d="M354.35 654.75 V673.48" stroke="#0a0a0a" stroke-width="1.5"/>
<path d="M373.10 650.50 V671.35" stroke="#0a0a0a" stroke-width="1.5"/>
<path d="M391.85 629.25 V660.73" stroke="#0a0a0a" stroke-width="1.5"/>
<path d="M411.35 656.00 V674.10" stroke="#0a0a0a" stroke-width="1.5"/>
<path d="M430.60 656.75 V674.48" stroke="#0a0a0a" stroke-width="1.5"/>
<path d="M449.35 660.50 V676.35" stroke="#0a0a0a" stroke-width="1.5"/>
<path d="M468.85 657.25 V674.73" stroke="#0a0a0a" stroke-width="1.5"/>
<path d="M488.10 628.50 V660.35" stroke="#0a0a0a" stroke-width="1.5"/>
<path d="M506.85 656.25 V674.23" stroke="#0a0a0a" stroke-width="1.5"/>
<path d="M525.60 603.00 V647.60" stroke="#0a0a0a" stroke-width="1.5"/>
<path d="M564.35 659.75 V675.98" stroke="#0a0a0a" stroke-width="1.5"/>
<path d="M583.35 661.25 V676.73" stroke="#0a0a0a" stroke-width="1.5"/>
<path d="M602.60 659.75 V675.98" stroke="#0a0a0a" stroke-width="1.5"/>
<path d="M621.35 663.75 V677.98" stroke="#0a0a0a" stroke-width="1.5"/>
<path d="M640.60 662.50 V677.35" stroke="#0a0a0a" stroke-width="1.5"/>
<path d="M660.10 635.50 V663.85" stroke="#0a0a0a" stroke-width="1.5"/>
<path d="M678.85 641.00 V666.60" stroke="#0a0a0a" stroke-width="1.5"/>
<path d="M698.10 663.75 V677.98" stroke="#0a0a0a" stroke-width="1.5"/>
<path d="M755.10 639.75 V665.98" stroke="#0a0a0a" stroke-width="1.5"/>
<g font-family="'Liberation Sans', sans-serif" font-size="11.8" fill="#333" stroke="#333" stroke-width="0.15" text-anchor="middle">
<path d="M50.80 695.95 v3" stroke="#222" stroke-width="1.3"/>
<text x="50.00" y="712.60">E</text>
<path d="M77.05 695.95 v3" stroke="#222" stroke-width="1.3"/>
<text x="76.25" y="712.60">S</text>
<path d="M105.80 695.95 v3" stroke="#222" stroke-width="1.3"/>
<text x="105.00" y="712.60">G</text>
<path d="M124.86 695.95 v3" stroke="#222" stroke-width="1.3"/>
<text x="124.06" y="712.60">T</text>
<path d="M143.92 695.95 v3" stroke="#222" stroke-width="1.3"/>
<text x="143.12" y="712.60">A</text>
<path d="M162.98 695.95 v3" stroke="#222" stroke-width="1.3"/>
<text x="162.18" y="712.60">G</text>
<path d="M182.04 695.95 v3" stroke="#222" stroke-width="1.3"/>
<text x="181.24" y="712.60">C</text>
<path d="M201.10 695.95 v3" stroke="#222" stroke-width="1.3"/>
<text x="200.30" y="712.60">T</text>
<path d="M220.16 695.95 v3" stroke="#222" stroke-width="1.3"/>
<text x="219.36" y="712.60">A</text>
<path d="M239.22 695.95 v3" stroke="#222" stroke-width="1.3"/>
<text x="238.42" y="712.60">G</text>
<path d="M258.28 695.95 v3" stroke="#222" stroke-width="1.3"/>
<text x="257.48" y="712.60">A</text>
<path d="M277.34 695.95 v3" stroke="#222" stroke-width="1.3"/>
<text x="276.54" y="712.60">G</text>
<path d="M296.40 695.95 v3" stroke="#222" stroke-width="1.3"/>
<text x="295.60" y="712.60">A</text>
<path d="M315.46 695.95 v3" stroke="#222" stroke-width="1.3"/>
<text x="314.66" y="712.60">C</text>
<path d="M334.52 695.95 v3" stroke="#222" stroke-width="1.3"/>
<text x="333.72" y="712.60">T</text>
<path d="M353.58 695.95 v3" stroke="#222" stroke-width="1.3"/>
<text x="352.78" y="712.60">G</text>
<path d="M372.64 695.95 v3" stroke="#222" stroke-width="1.3"/>
<text x="371.84" y="712.60">A</text>
<path d="M391.70 695.95 v3" stroke="#222" stroke-width="1.3"/>
<text x="390.90" y="712.60">T</text>
<path d="M410.76 695.95 v3" stroke="#222" stroke-width="1.3"/>
<text x="409.96" y="712.60">G</text>
<path d="M429.82 695.95 v3" stroke="#222" stroke-width="1.3"/>
<text x="429.02" y="712.60">C</text>
<path d="M448.88 695.95 v3" stroke="#222" stroke-width="1.3"/>
<text x="448.08" y="712.60">T</text>
<path d="M467.94 695.95 v3" stroke="#222" stroke-width="1.3"/>
<text x="467.14" y="712.60">A</text>
<path d="M487.00 695.95 v3" stroke="#222" stroke-width="1.3"/>
<text x="486.20" y="712.60">G</text>
<path d="M506.06 695.95 v3" stroke="#222" stroke-width="1.3"/>
<text x="505.26" y="712.60">A</text>
<path d="M525.12 695.95 v3" stroke="#222" stroke-width="1.3"/>
<text x="524.32" y="712.60">G</text>
<path d="M544.18 695.95 v3" stroke="#222" stroke-width="1.3"/>
<text x="543.38" y="712.60">G</text>
<path d="M563.24 695.95 v3" stroke="#222" stroke-width="1.3"/>
<text x="562.44" y="712.60">T</text>
<path d="M582.30 695.95 v3" stroke="#222" stroke-width="1.3"/>
<text x="581.50" y="712.60">G</text>
<path d="M601.36 695.95 v3" stroke="#222" stroke-width="1.3"/>
<text x="600.56" y="712.60">A</text>
<path d="M620.42 695.95 v3" stroke="#222" stroke-width="1.3"/>
<text x="619.62" y="712.60">G</text>
<path d="M639.48 695.95 v3" stroke="#222" stroke-width="1.3"/>
<text x="638.68" y="712.60">T</text>
<path d="M658.54 695.95 v3" stroke="#222" stroke-width="1.3"/>
<text x="657.74" y="712.60">A</text>
<path d="M677.60 695.95 v3" stroke="#222" stroke-width="1.3"/>
<text x="676.80" y="712.60">G</text>
<path d="M696.66 695.95 v3" stroke="#222" stroke-width="1.3"/>
<text x="695.86" y="712.60">A</text>
<path d="M715.72 695.95 v3" stroke="#222" stroke-width="1.3"/>
<text x="714.92" y="712.60">T</text>
<path d="M734.78 695.95 v3" stroke="#222" stroke-width="1.3"/>
<text x="733.98" y="712.60">C</text>
<path d="M753.84 695.95 v3" stroke="#222" stroke-width="1.3"/>
<text x="753.04" y="712.60">G</text>
<text x="181.24" y="723.90" letter-spacing="-0.6">5</text>
<text x="276.54" y="723.90" letter-spacing="-0.6">10</text>
<text x="371.84" y="723.90" letter-spacing="-0.6">15</text>
<text x="467.14" y="723.90" letter-spacing="-0.6">20</text>
<text x="562.44" y="723.90" letter-spacing="-0.6">25</text>
<text x="657.74" y="723.90" letter-spacing="-0.6">30</text>
<text x="753.04" y="723.90" letter-spacing="-0.6">35</text>
</g>
<path d="M902.80 625.00 H1638.00" stroke="#1a1a1a" stroke-width="1.3" stroke-dasharray="3.4 15.35" fill="none"/>
<path d="M902.80 661.90 H1638.00" stroke="#1a1a1a" stroke-width="1.3" stroke-dasharray="3.4 15.35" fill="none"/>
<rect x="1155.00" y="589.75" width="37.00" height="106.25" fill="#fff874"/>
<rect x="1546.75" y="589.75" width="37.50" height="106.25" fill="#fff874"/>
<rect x="1164.60" y="589.75" width="1" height="106.25" fill="#fffef0"/>
<rect x="1553.60" y="589.75" width="1" height="106.25" fill="#fffef0"/>
<rect x="1580.60" y="589.75" width="1" height="106.25" fill="#fffef0"/>
<path d="M884.25 589.75 V696.00" stroke="#444" stroke-width="1.6" fill="none"/>
<path d="M883.45 589.75 H1638.70" stroke="#3a3a3a" stroke-width="1.5" fill="none"/>
<path d="M883.45 696.00 H1638.70" stroke="#333" stroke-width="1.3" fill="none"/>
<path d="M1638.00 589.75 V696.70" stroke="#3a3a3a" stroke-width="1.4" fill="none"/>
<path d="M881.85 589.20 h5" stroke="#222" stroke-width="1.2"/>
<text x="880.65" y="594.20" text-anchor="end" font-family="'Liberation Sans', sans-serif" font-size="11.6" fill="#222" letter-spacing="-0.85">160</text>
<path d="M881.85 625.00 h5" stroke="#222" stroke-width="1.2"/>
<text x="880.65" y="630.00" text-anchor="end" font-family="'Liberation Sans', sans-serif" font-size="11.6" fill="#222" letter-spacing="-0.85">140</text>
<path d="M881.85 661.90 h5" stroke="#222" stroke-width="1.2"/>
<text x="880.65" y="666.90" text-anchor="end" font-family="'Liberation Sans', sans-serif" font-size="11.6" fill="#222" letter-spacing="-0.85">120</text>
<path d="M882.65 607.50 h3.6" stroke="#222" stroke-width="1.3"/>
<path d="M882.65 644.00 h3.6" stroke="#222" stroke-width="1.3"/>
<path d="M882.65 680.50 h3.6" stroke="#222" stroke-width="1.3"/>
<clipPath id="pc2"><rect x="884.25" y="589.75" width="753.75" height="107.25"/></clipPath>
<path d="M884.25 695.50 H951.25" stroke="#111" stroke-width="2.2"/>
<path clip-path="url(#pc2)" d="M884.25 695.20 L950.95 695.20 L951.25 687.30 L951.50 687.41 L951.75 687.51 L952.00 687.61 L952.25 687.70 L952.50 687.76 L952.75 687.81 L953.00 687.84 L953.25 687.84 L953.50 687.81 L953.75 687.77 L954.00 687.71 L954.25 687.65 L954.50 687.60 L954.75 687.58 L955.00 687.60 L955.25 687.67 L955.50 687.79 L955.75 687.96 L956.00 688.18 L956.25 688.43 L956.50 688.69 L956.75 688.94 L957.00 689.17 L957.25 689.37 L957.50 689.53 L957.75 689.65 L958.00 689.73 L958.25 689.79 L958.50 689.82 L958.75 689.84 L959.00 689.85 L959.25 689.86 L959.50 689.88 L959.75 689.90 L960.00 689.92 L960.25 689.94 L960.50 689.96 L960.75 689.96 L961.00 689.94 L961.25 689.89 L961.50 689.80 L961.75 689.69 L962.00 689.58 L962.25 689.53 L962.50 689.54 L962.75 689.64 L963.00 689.79 L963.25 689.96 L963.50 690.12 L963.75 690.24 L964.00 690.33 L964.25 690.39 L964.50 690.42 L964.75 690.42 L965.00 690.41 L965.25 690.38 L965.50 690.33 L965.75 690.26 L966.00 690.18 L966.25 690.12 L966.50 690.07 L966.75 690.05 L967.00 690.07 L967.25 690.13 L967.50 690.21 L967.75 690.30 L968.00 690.39 L968.25 690.45 L968.50 690.49 L968.75 690.50 L969.00 690.50 L969.25 690.50 L969.50 690.51 L969.75 690.55 L970.00 690.60 L970.25 690.66 L970.50 690.72 L970.75 690.76 L971.00 690.79 L971.25 690.80 L971.50 690.79 L971.75 690.76 L972.00 690.70 L972.25 690.62 L972.50 690.52 L972.75 690.39 L973.00 690.25 L973.25 690.10 L973.50 689.95 L973.75 689.83 L974.00 689.74 L974.25 689.70 L974.50 689.70 L974.75 689.76 L975.00 689.87 L975.25 690.01 L975.50 690.16 L975.75 690.33 L976.00 690.48 L976.25 690.62 L976.50 690.74 L976.75 690.83 L977.00 690.88 L977.25 690.91 L977.50 690.90 L977.75 690.87 L978.00 690.83 L978.25 690.79 L978.50 690.78 L978.75 690.82 L979.00 690.90 L979.25 691.01 L979.50 691.14 L979.75 691.27 L980.00 691.38 L980.25 691.47 L980.50 691.53 L980.75 691.54 L981.00 691.52 L981.25 691.46 L981.50 691.38 L981.75 691.29 L982.00 691.21 L982.25 691.14 L982.50 691.08 L982.75 691.04 L983.00 691.01 L983.25 690.98 L983.50 690.96 L983.75 690.95 L984.00 690.95 L984.25 690.96 L984.50 690.97 L984.75 690.99 L985.00 691.02 L985.25 691.04 L985.50 691.07 L985.75 691.09 L986.00 691.10 L986.25 691.11 L986.50 691.10 L986.75 691.06 L987.00 691.00 L987.25 690.91 L987.50 690.80 L987.75 690.70 L988.00 690.65 L988.25 690.67 L988.50 690.75 L988.75 690.85 L989.00 690.95 L989.25 691.03 L989.50 691.07 L989.75 691.08 L990.00 691.08 L990.25 691.08 L990.50 691.10 L990.75 691.11 L991.00 691.13 L991.25 691.14 L991.50 691.13 L991.75 691.10 L992.00 691.05 L992.25 690.97 L992.50 690.86 L992.75 690.71 L993.00 690.53 L993.25 690.34 L993.50 690.15 L993.75 689.99 L994.00 689.87 L994.25 689.82 L994.50 689.84 L994.75 689.90 L995.00 689.98 L995.25 690.06 L995.50 690.12 L995.75 690.14 L996.00 690.13 L996.25 690.09 L996.50 690.05 L996.75 690.04 L997.00 690.05 L997.25 690.11 L997.50 690.21 L997.75 690.34 L998.00 671.56 L998.25 652.78 L998.50 633.99 L998.75 615.18 L999.00 624.94 L999.25 632.96 L999.50 639.67 L999.75 645.34 L1000.00 650.20 L1000.25 654.40 L1000.50 658.05 L1000.75 661.25 L1001.00 664.07 L1001.25 666.58 L1001.50 668.85 L1001.75 670.92 L1002.00 672.83 L1002.25 674.60 L1002.50 676.25 L1002.75 677.76 L1003.00 679.13 L1003.25 680.35 L1003.50 681.39 L1003.75 682.24 L1004.00 682.91 L1004.25 683.40 L1004.50 683.77 L1004.75 684.08 L1005.00 684.40 L1005.25 684.80 L1005.50 685.31 L1005.75 685.92 L1006.00 686.57 L1006.25 687.21 L1006.50 687.79 L1006.75 688.29 L1007.00 688.69 L1007.25 689.01 L1007.50 689.27 L1007.75 689.49 L1008.00 689.67 L1008.25 689.84 L1008.50 689.98 L1008.75 690.11 L1009.00 690.23 L1009.25 690.33 L1009.50 690.42 L1009.75 690.51 L1010.00 690.58 L1010.25 690.65 L1010.50 690.72 L1010.75 690.78 L1011.00 690.84 L1011.25 690.90 L1011.50 690.96 L1011.75 691.02 L1012.00 691.08 L1012.25 691.14 L1012.50 691.18 L1012.75 691.21 L1013.00 691.23 L1013.25 691.24 L1013.50 691.23 L1013.75 691.22 L1014.00 691.20 L1014.25 691.19 L1014.50 691.17 L1014.75 691.16 L1015.00 691.15 L1015.25 691.14 L1015.50 691.13 L1015.75 691.12 L1016.00 691.10 L1016.25 691.07 L1016.50 691.03 L1016.75 690.98 L1017.00 690.93 L1017.25 681.33 L1017.50 671.75 L1017.75 662.19 L1018.00 652.66 L1018.25 657.58 L1018.50 661.66 L1018.75 665.09 L1019.00 668.02 L1019.25 670.54 L1019.50 672.71 L1019.75 674.60 L1020.00 676.22 L1020.25 677.61 L1020.50 678.79 L1020.75 679.80 L1021.00 680.68 L1021.25 681.47 L1021.50 682.22 L1021.75 682.97 L1022.00 683.73 L1022.25 684.49 L1022.50 685.21 L1022.75 685.86 L1023.00 686.42 L1023.25 686.85 L1023.50 687.17 L1023.75 687.41 L1024.00 687.59 L1024.25 687.77 L1024.50 687.98 L1024.75 688.24 L1025.00 688.54 L1025.25 688.87 L1025.50 689.18 L1025.75 689.47 L1026.00 689.71 L1026.25 689.89 L1026.50 690.04 L1026.75 690.16 L1027.00 690.26 L1027.25 690.35 L1027.50 690.43 L1027.75 690.51 L1028.00 690.58 L1028.25 690.65 L1028.50 690.71 L1028.75 690.77 L1029.00 690.82 L1029.25 690.87 L1029.50 690.90 L1029.75 690.94 L1030.00 690.96 L1030.25 690.98 L1030.50 690.99 L1030.75 690.99 L1031.00 690.98 L1031.25 690.95 L1031.50 690.92 L1031.75 690.88 L1032.00 690.84 L1032.25 690.81 L1032.50 690.79 L1032.75 690.80 L1033.00 690.83 L1033.25 690.88 L1033.50 690.94 L1033.75 690.99 L1034.00 691.05 L1034.25 691.09 L1034.50 691.12 L1034.75 691.14 L1035.00 691.16 L1035.25 691.17 L1035.50 665.81 L1035.75 640.44 L1036.00 615.07 L1036.25 589.68 L1036.50 602.62 L1036.75 613.24 L1037.00 622.12 L1037.25 629.65 L1037.50 636.11 L1037.75 641.75 L1038.00 646.72 L1038.25 651.16 L1038.50 655.16 L1038.75 658.79 L1039.00 662.09 L1039.25 665.07 L1039.50 667.76 L1039.75 670.15 L1040.00 672.28 L1040.25 674.17 L1040.50 675.83 L1040.75 677.28 L1041.00 678.53 L1041.25 679.57 L1041.50 680.42 L1041.75 681.09 L1042.00 681.61 L1042.25 682.05 L1042.50 682.46 L1042.75 682.89 L1043.00 683.36 L1043.25 683.89 L1043.50 684.49 L1043.75 685.15 L1044.00 685.88 L1044.25 686.63 L1044.50 687.35 L1044.75 687.99 L1045.00 688.51 L1045.25 688.92 L1045.50 689.22 L1045.75 689.46 L1046.00 689.65 L1046.25 689.81 L1046.50 689.95 L1046.75 690.07 L1047.00 690.18 L1047.25 690.28 L1047.50 690.36 L1047.75 690.44 L1048.00 690.50 L1048.25 690.56 L1048.50 690.62 L1048.75 690.66 L1049.00 690.71 L1049.25 690.75 L1049.50 690.79 L1049.75 690.82 L1050.00 690.86 L1050.25 690.89 L1050.50 690.92 L1050.75 690.95 L1051.00 690.98 L1051.25 691.01 L1051.50 691.03 L1051.75 691.04 L1052.00 691.05 L1052.25 691.05 L1052.50 691.04 L1052.75 691.02 L1053.00 690.98 L1053.25 690.93 L1053.50 690.86 L1053.75 690.81 L1054.00 690.76 L1054.25 690.74 L1054.50 690.76 L1054.75 690.80 L1055.00 690.86 L1055.25 690.93 L1055.50 691.00 L1055.75 691.06 L1056.00 691.10 L1056.25 691.14 L1056.50 691.16 L1056.75 691.16 L1057.00 691.16 L1057.25 691.14 L1057.50 691.10 L1057.75 691.03 L1058.00 690.93 L1058.25 690.82 L1058.50 690.71 L1058.75 690.63 L1059.00 690.60 L1059.25 690.63 L1059.50 690.70 L1059.75 690.79 L1060.00 690.85 L1060.25 690.89 L1060.50 690.89 L1060.75 690.87 L1061.00 690.84 L1061.25 690.81 L1061.50 690.78 L1061.75 690.78 L1062.00 690.78 L1062.25 690.81 L1062.50 690.85 L1062.75 690.90 L1063.00 690.95 L1063.25 691.01 L1063.50 691.07 L1063.75 691.12 L1064.00 691.17 L1064.25 691.22 L1064.50 691.28 L1064.75 691.33 L1065.00 691.38 L1065.25 691.44 L1065.50 691.49 L1065.75 691.53 L1066.00 691.55 L1066.25 691.56 L1066.50 691.56 L1066.75 691.53 L1067.00 691.49 L1067.25 691.45 L1067.50 691.40 L1067.75 691.35 L1068.00 691.31 L1068.25 691.28 L1068.50 691.25 L1068.75 691.23 L1069.00 691.22 L1069.25 691.20 L1069.50 691.16 L1069.75 691.10 L1070.00 690.98 L1070.25 690.78 L1070.50 690.53 L1070.75 690.27 L1071.00 690.10 L1071.25 690.08 L1071.50 690.22 L1071.75 690.46 L1072.00 690.72 L1072.25 682.44 L1072.50 674.10 L1072.75 665.69 L1073.00 657.23 L1073.25 661.59 L1073.50 665.18 L1073.75 668.20 L1074.00 670.78 L1074.25 673.01 L1074.50 674.98 L1074.75 676.72 L1075.00 678.28 L1075.25 679.67 L1075.50 680.92 L1075.75 682.03 L1076.00 683.01 L1076.25 683.86 L1076.50 684.61 L1076.75 685.26 L1077.00 685.83 L1077.25 686.32 L1077.50 686.75 L1077.75 687.12 L1078.00 687.42 L1078.25 687.66 L1078.50 687.84 L1078.75 687.98 L1079.00 688.10 L1079.25 688.22 L1079.50 688.37 L1079.75 688.56 L1080.00 688.79 L1080.25 689.02 L1080.50 689.25 L1080.75 689.45 L1081.00 689.61 L1081.25 689.75 L1081.50 689.86 L1081.75 689.97 L1082.00 690.08 L1082.25 690.20 L1082.50 690.32 L1082.75 690.44 L1083.00 690.56 L1083.25 690.67 L1083.50 690.78 L1083.75 690.87 L1084.00 690.94 L1084.25 691.00 L1084.50 691.05 L1084.75 691.08 L1085.00 691.11 L1085.25 691.12 L1085.50 691.13 L1085.75 691.13 L1086.00 691.13 L1086.25 691.13 L1086.50 691.13 L1086.75 691.12 L1087.00 691.10 L1087.25 691.04 L1087.50 690.91 L1087.75 690.71 L1088.00 690.49 L1088.25 690.37 L1088.50 690.41 L1088.75 690.59 L1089.00 690.83 L1089.25 691.01 L1089.50 691.12 L1089.75 691.18 L1090.00 691.21 L1090.25 691.24 L1090.50 691.27 L1090.75 691.30 L1091.00 691.33 L1091.25 691.35 L1091.50 691.37 L1091.75 691.38 L1092.00 691.37 L1092.25 691.36 L1092.50 691.33 L1092.75 691.27 L1093.00 691.16 L1093.25 690.95 L1093.50 690.63 L1093.75 690.26 L1094.00 690.02 L1094.25 690.03 L1094.50 690.29 L1094.75 690.64 L1095.00 690.93 L1095.25 691.09 L1095.50 691.17 L1095.75 691.19 L1096.00 691.20 L1096.25 691.20 L1096.50 691.20 L1096.75 691.20 L1097.00 691.21 L1097.25 691.22 L1097.50 691.24 L1097.75 691.28 L1098.00 691.35 L1098.25 691.45 L1098.50 691.55 L1098.75 691.63 L1099.00 691.66 L1099.25 691.64 L1099.50 691.56 L1099.75 691.47 L1100.00 691.37 L1100.25 691.30 L1100.50 691.25 L1100.75 691.22 L1101.00 691.21 L1101.25 691.20 L1101.50 691.20 L1101.75 691.20 L1102.00 691.20 L1102.25 691.20 L1102.50 691.20 L1102.75 691.21 L1103.00 691.23 L1103.25 691.26 L1103.50 691.30 L1103.75 691.35 L1104.00 691.40 L1104.25 691.42 L1104.50 691.40 L1104.75 691.36 L1105.00 691.31 L1105.25 691.27 L1105.50 691.23 L1105.75 691.22 L1106.00 691.21 L1106.25 691.20 L1106.50 691.20 L1106.75 691.20 L1107.00 691.20 L1107.25 691.20 L1107.50 691.20 L1107.75 691.19 L1108.00 691.17 L1108.25 691.14 L1108.50 691.09 L1108.75 691.03 L1109.00 691.01 L1109.25 673.97 L1109.50 656.97 L1109.75 639.97 L1110.00 622.96 L1110.25 631.71 L1110.50 638.91 L1110.75 644.95 L1111.00 650.09 L1111.25 654.53 L1111.50 658.40 L1111.75 661.81 L1112.00 664.83 L1112.25 667.50 L1112.50 669.90 L1112.75 672.03 L1113.00 673.95 L1113.25 675.67 L1113.50 677.22 L1113.75 678.61 L1114.00 679.87 L1114.25 681.01 L1114.50 682.03 L1114.75 682.90 L1115.00 683.59 L1115.25 684.08 L1115.50 684.41 L1115.75 684.63 L1116.00 684.83 L1116.25 685.06 L1116.50 685.37 L1116.75 685.77 L1117.00 686.25 L1117.25 686.77 L1117.50 687.28 L1117.75 687.74 L1118.00 688.13 L1118.25 688.46 L1118.50 688.75 L1118.75 689.01 L1119.00 689.25 L1119.25 689.48 L1119.50 689.69 L1119.75 689.89 L1120.00 690.05 L1120.25 690.17 L1120.50 690.27 L1120.75 690.36 L1121.00 690.45 L1121.25 690.55 L1121.50 690.63 L1121.75 690.70 L1122.00 690.74 L1122.25 690.76 L1122.50 690.75 L1122.75 690.71 L1123.00 690.66 L1123.25 690.58 L1123.50 690.48 L1123.75 690.38 L1124.00 690.28 L1124.25 690.22 L1124.50 690.18 L1124.75 690.20 L1125.00 690.26 L1125.25 690.35 L1125.50 690.48 L1125.75 690.61 L1126.00 690.74 L1126.25 690.85 L1126.50 690.94 L1126.75 691.01 L1127.00 691.06 L1127.25 691.08 L1127.50 691.08 L1127.75 691.06 L1128.00 691.02 L1128.25 690.97 L1128.50 681.78 L1128.75 672.57 L1129.00 663.35 L1129.25 654.13 L1129.50 658.69 L1129.75 662.45 L1130.00 665.62 L1130.25 668.35 L1130.50 670.75 L1130.75 672.88 L1131.00 674.79 L1131.25 676.51 L1131.50 678.05 L1131.75 679.44 L1132.00 680.68 L1132.25 681.78 L1132.50 682.76 L1132.75 683.63 L1133.00 684.40 L1133.25 685.08 L1133.50 685.67 L1133.75 686.16 L1134.00 686.55 L1134.25 686.84 L1134.50 687.04 L1134.75 687.18 L1135.00 687.31 L1135.25 687.46 L1135.50 687.67 L1135.75 687.94 L1136.00 688.27 L1136.25 688.63 L1136.50 688.98 L1136.75 689.32 L1137.00 689.62 L1137.25 689.86 L1137.50 690.06 L1137.75 690.21 L1138.00 690.33 L1138.25 690.43 L1138.50 690.51 L1138.75 690.57 L1139.00 690.61 L1139.25 690.65 L1139.50 690.69 L1139.75 690.73 L1140.00 690.78 L1140.25 690.83 L1140.50 690.88 L1140.75 690.92 L1141.00 690.95 L1141.25 690.98 L1141.50 691.00 L1141.75 691.01 L1142.00 691.00 L1142.25 690.94 L1142.50 690.80 L1142.75 690.59 L1143.00 690.33 L1143.25 690.12 L1143.50 690.04 L1143.75 690.15 L1144.00 690.39 L1144.25 690.66 L1144.50 690.89 L1144.75 691.04 L1145.00 691.11 L1145.25 691.14 L1145.50 691.15 L1145.75 691.15 L1146.00 691.14 L1146.25 691.13 L1146.50 691.11 L1146.75 691.08 L1147.00 691.05 L1147.25 691.01 L1147.50 674.38 L1147.75 657.75 L1148.00 641.14 L1148.25 624.54 L1148.50 633.06 L1148.75 640.05 L1149.00 645.88 L1149.25 650.77 L1149.50 654.90 L1149.75 658.43 L1150.00 661.51 L1150.25 664.29 L1150.50 666.89 L1150.75 669.35 L1151.00 671.67 L1151.25 673.80 L1151.50 675.71 L1151.75 677.38 L1152.00 678.83 L1152.25 680.08 L1152.50 681.18 L1152.75 682.12 L1153.00 682.92 L1153.25 683.56 L1153.50 684.07 L1153.75 684.43 L1154.00 684.68 L1154.25 684.87 L1154.50 685.08 L1154.75 685.39 L1155.00 685.86 L1155.25 686.46 L1155.50 687.12 L1155.75 687.75 L1156.00 688.30 L1156.25 688.76 L1156.50 689.12 L1156.75 689.40 L1157.00 689.62 L1157.25 689.80 L1157.50 689.96 L1157.75 690.09 L1158.00 690.23 L1158.25 690.37 L1158.50 690.53 L1158.75 690.67 L1159.00 690.78 L1159.25 690.84 L1159.50 690.84 L1159.75 690.83 L1160.00 690.84 L1160.25 690.88 L1160.50 690.95 L1160.75 691.04 L1161.00 691.11 L1161.25 691.15 L1161.50 691.15 L1161.75 691.12 L1162.00 691.08 L1162.25 691.06 L1162.50 691.05 L1162.75 691.04 L1163.00 691.04 L1163.25 691.03 L1163.50 691.01 L1163.75 690.99 L1164.00 690.96 L1164.25 690.92 L1164.50 690.88 L1164.75 690.83 L1165.00 690.80 L1165.25 690.77 L1165.50 681.95 L1165.75 673.15 L1166.00 664.36 L1166.25 655.59 L1166.50 660.13 L1166.75 663.89 L1167.00 667.05 L1167.25 669.76 L1167.50 672.10 L1167.75 674.14 L1168.00 675.93 L1168.25 677.52 L1168.50 678.92 L1168.75 680.17 L1169.00 681.28 L1169.25 682.27 L1169.50 683.15 L1169.75 683.92 L1170.00 684.57 L1170.25 685.07 L1170.50 685.44 L1170.75 685.66 L1171.00 685.80 L1171.25 685.93 L1171.50 686.13 L1171.75 686.44 L1172.00 686.83 L1172.25 687.25 L1172.50 687.66 L1172.75 688.04 L1173.00 688.40 L1173.25 688.75 L1173.50 689.09 L1173.75 689.41 L1174.00 689.69 L1174.25 689.94 L1174.50 690.13 L1174.75 690.29 L1175.00 690.41 L1175.25 690.51 L1175.50 690.59 L1175.75 690.65 L1176.00 690.70 L1176.25 690.74 L1176.50 690.78 L1176.75 690.81 L1177.00 690.83 L1177.25 690.83 L1177.50 690.82 L1177.75 690.79 L1178.00 690.74 L1178.25 690.65 L1178.50 690.55 L1178.75 690.43 L1179.00 690.32 L1179.25 690.22 L1179.50 690.16 L1179.75 690.15 L1180.00 690.18 L1180.25 690.27 L1180.50 690.38 L1180.75 690.51 L1181.00 690.64 L1181.25 690.74 L1181.50 690.82 L1181.75 690.86 L1182.00 690.88 L1182.25 690.89 L1182.50 690.89 L1182.75 690.91 L1183.00 690.95 L1183.25 691.01 L1183.50 691.11 L1183.75 691.22 L1184.00 691.35 L1184.25 691.46 L1184.50 691.55 L1184.75 691.60 L1185.00 691.59 L1185.25 691.54 L1185.50 691.46 L1185.75 691.33 L1186.00 691.18 L1186.25 691.00 L1186.50 690.79 L1186.75 690.60 L1187.00 690.45 L1187.25 690.40 L1187.50 690.45 L1187.75 690.59 L1188.00 690.77 L1188.25 690.95 L1188.50 691.09 L1188.75 691.20 L1189.00 691.28 L1189.25 691.33 L1189.50 691.36 L1189.75 691.37 L1190.00 691.34 L1190.25 691.30 L1190.50 691.25 L1190.75 691.19 L1191.00 691.13 L1191.25 691.06 L1191.50 690.98 L1191.75 690.90 L1192.00 690.83 L1192.25 690.78 L1192.50 690.76 L1192.75 690.78 L1193.00 690.83 L1193.25 690.90 L1193.50 690.97 L1193.75 691.04 L1194.00 691.08 L1194.25 691.09 L1194.50 691.06 L1194.75 690.98 L1195.00 690.85 L1195.25 690.70 L1195.50 690.59 L1195.75 690.54 L1196.00 690.59 L1196.25 690.71 L1196.50 690.86 L1196.75 690.99 L1197.00 691.09 L1197.25 691.15 L1197.50 691.18 L1197.75 691.19 L1198.00 691.19 L1198.25 691.18 L1198.50 691.17 L1198.75 691.14 L1199.00 691.10 L1199.25 691.03 L1199.50 690.94 L1199.75 690.82 L1200.00 690.66 L1200.25 690.49 L1200.50 690.32 L1200.75 690.16 L1201.00 690.04 L1201.25 689.97 L1201.50 689.97 L1201.75 690.04 L1202.00 690.16 L1202.25 690.32 L1202.50 690.49 L1202.75 690.65 L1203.00 690.78 L1203.25 690.88 L1203.50 690.93 L1203.75 690.95 L1204.00 690.93 L1204.25 690.89 L1204.50 690.84 L1204.75 690.80 L1205.00 690.77 L1205.25 690.76 L1205.50 690.78 L1205.75 690.81 L1206.00 690.84 L1206.25 690.87 L1206.50 690.89 L1206.75 690.90 L1207.00 690.91 L1207.25 690.93 L1207.50 690.96 L1207.75 691.01 L1208.00 691.07 L1208.25 691.14 L1208.50 691.22 L1208.75 691.30 L1209.00 691.37 L1209.25 691.43 L1209.50 691.48 L1209.75 691.51 L1210.00 691.52 L1210.25 691.51 L1210.50 691.48 L1210.75 691.44 L1211.00 691.38 L1211.25 691.31 L1211.50 691.23 L1211.75 691.15 L1212.00 691.07 L1212.25 690.99 L1212.50 690.92 L1212.75 690.86 L1213.00 690.81 L1213.25 690.78 L1213.50 690.77 L1213.75 690.78 L1214.00 690.80 L1214.25 690.84 L1214.50 690.89 L1214.75 690.94 L1215.00 691.00 L1215.25 691.04 L1215.50 691.09 L1215.75 691.12 L1216.00 691.14 L1216.25 691.16 L1216.50 691.17 L1216.75 691.17 L1217.00 691.18 L1217.25 691.18 L1217.50 691.18 L1217.75 691.18 L1218.00 691.18 L1218.25 691.18 L1218.50 691.19 L1218.75 691.20 L1219.00 691.21 L1219.25 691.24 L1219.50 691.27 L1219.75 691.31 L1220.00 691.37 L1220.25 691.44 L1220.50 691.51 L1220.75 691.57 L1221.00 683.20 L1221.25 674.80 L1221.50 666.38 L1221.75 657.93 L1222.00 662.20 L1222.25 665.68 L1222.50 668.59 L1222.75 671.06 L1223.00 673.19 L1223.25 675.05 L1223.50 676.69 L1223.75 678.15 L1224.00 679.46 L1224.25 680.64 L1224.50 681.69 L1224.75 682.64 L1225.00 683.50 L1225.25 684.26 L1225.50 684.95 L1225.75 685.57 L1226.00 686.12 L1226.25 686.60 L1226.50 687.02 L1226.75 687.38 L1227.00 687.68 L1227.25 687.93 L1227.50 688.15 L1227.75 688.37 L1228.00 688.59 L1228.25 688.83 L1228.50 689.08 L1228.75 689.34 L1229.00 689.59 L1229.25 689.80 L1229.50 689.98 L1229.75 690.13 L1230.00 690.25 L1230.25 690.34 L1230.50 690.42 L1230.75 690.47 L1231.00 690.50 L1231.25 690.49 L1231.50 690.47 L1231.75 690.44 L1232.00 690.42 L1232.25 690.45 L1232.50 690.53 L1232.75 690.64 L1233.00 690.76 L1233.25 690.86 L1233.50 690.93 L1233.75 690.98 L1234.00 691.01 L1234.25 691.04 L1234.50 691.06 L1234.75 691.09 L1235.00 691.12 L1235.25 691.17 L1235.50 691.24 L1235.75 691.32 L1236.00 691.40 L1236.25 691.47 L1236.50 691.50 L1236.75 691.49 L1237.00 691.44 L1237.25 691.37 L1237.50 691.30 L1237.75 691.25 L1238.00 691.21 L1238.25 691.18 L1238.50 691.15 L1238.75 691.09 L1239.00 690.96 L1239.25 690.73 L1239.50 681.49 L1239.75 672.28 L1240.00 663.23 L1240.25 654.40 L1240.50 659.25 L1240.75 663.33 L1241.00 666.73 L1241.25 669.57 L1241.50 671.96 L1241.75 674.02 L1242.00 675.81 L1242.25 677.39 L1242.50 678.80 L1242.75 680.05 L1243.00 681.18 L1243.25 682.19 L1243.50 683.11 L1243.75 683.93 L1244.00 684.68 L1244.25 685.35 L1244.50 685.95 L1244.75 686.47 L1245.00 686.90 L1245.25 687.25 L1245.50 687.50 L1245.75 687.68 L1246.00 687.81 L1246.25 687.91 L1246.50 688.02 L1246.75 688.17 L1247.00 688.36 L1247.25 688.61 L1247.50 688.87 L1247.75 689.13 L1248.00 689.37 L1248.25 689.58 L1248.50 689.75 L1248.75 689.90 L1249.00 690.04 L1249.25 690.17 L1249.50 690.29 L1249.75 690.41 L1250.00 690.51 L1250.25 690.61 L1250.50 690.69 L1250.75 690.77 L1251.00 690.85 L1251.25 690.94 L1251.50 691.03 L1251.75 691.13 L1252.00 691.19 L1252.25 691.19 L1252.50 691.12 L1252.75 690.99 L1253.00 690.83 L1253.25 690.65 L1253.50 690.48 L1253.75 690.32 L1254.00 690.20 L1254.25 690.11 L1254.50 690.09 L1254.75 690.13 L1255.00 690.22 L1255.25 690.36 L1255.50 690.52 L1255.75 690.68 L1256.00 690.82 L1256.25 690.94 L1256.50 691.03 L1256.75 691.09 L1257.00 691.13 L1257.25 691.15 L1257.50 691.17 L1257.75 691.17 L1258.00 691.18 L1258.25 677.57 L1258.50 663.96 L1258.75 650.34 L1259.00 636.71 L1259.25 643.63 L1259.50 649.25 L1259.75 653.88 L1260.00 657.77 L1260.25 661.18 L1260.50 664.30 L1260.75 667.18 L1261.00 669.80 L1261.25 672.12 L1261.50 674.12 L1261.75 675.87 L1262.00 677.40 L1262.25 678.76 L1262.50 679.97 L1262.75 681.04 L1263.00 681.97 L1263.25 682.76 L1263.50 683.42 L1263.75 683.96 L1264.00 684.36 L1264.25 684.65 L1264.50 684.86 L1264.75 685.03 L1265.00 685.22 L1265.25 685.48 L1265.50 685.85 L1265.75 686.33 L1266.00 686.90 L1266.25 687.50 L1266.50 688.09 L1266.75 688.62 L1267.00 689.05 L1267.25 689.39 L1267.50 689.64 L1267.75 689.83 L1268.00 689.97 L1268.25 690.07 L1268.50 690.16 L1268.75 690.23 L1269.00 690.31 L1269.25 690.39 L1269.50 690.48 L1269.75 690.56 L1270.00 690.64 L1270.25 690.71 L1270.50 690.77 L1270.75 690.83 L1271.00 690.87 L1271.25 690.91 L1271.50 690.94 L1271.75 690.96 L1272.00 690.99 L1272.25 691.01 L1272.50 691.03 L1272.75 691.05 L1273.00 691.07 L1273.25 691.08 L1273.50 691.10 L1273.75 691.11 L1274.00 691.12 L1274.25 691.13 L1274.50 691.13 L1274.75 691.13 L1275.00 691.12 L1275.25 691.10 L1275.50 691.07 L1275.75 691.02 L1276.00 690.94 L1276.25 690.84 L1276.50 690.72 L1276.75 690.57 L1277.00 682.54 L1277.25 674.52 L1277.50 666.52 L1277.75 658.56 L1278.00 662.54 L1278.25 665.87 L1278.50 668.72 L1278.75 671.21 L1279.00 673.41 L1279.25 675.36 L1279.50 677.09 L1279.75 678.63 L1280.00 679.99 L1280.25 681.18 L1280.50 682.24 L1280.75 683.17 L1281.00 683.99 L1281.25 684.72 L1281.50 685.37 L1281.75 685.93 L1282.00 686.41 L1282.25 686.80 L1282.50 687.08 L1282.75 687.24 L1283.00 687.28 L1283.25 687.26 L1283.50 687.23 L1283.75 687.26 L1284.00 687.43 L1284.25 687.73 L1284.50 688.14 L1284.75 688.60 L1285.00 689.04 L1285.25 689.41 L1285.50 689.69 L1285.75 689.88 L1286.00 689.99 L1286.25 690.05 L1286.50 690.09 L1286.75 690.15 L1287.00 690.24 L1287.25 690.36 L1287.50 690.48 L1287.75 690.58 L1288.00 690.65 L1288.25 690.68 L1288.50 690.67 L1288.75 690.64 L1289.00 690.59 L1289.25 690.53 L1289.50 690.46 L1289.75 690.40 L1290.00 690.36 L1290.25 690.34 L1290.50 690.34 L1290.75 690.38 L1291.00 690.44 L1291.25 690.52 L1291.50 690.62 L1291.75 690.72 L1292.00 690.81 L1292.25 690.90 L1292.50 690.97 L1292.75 691.03 L1293.00 691.07 L1293.25 691.08 L1293.50 691.06 L1293.75 690.96 L1294.00 690.79 L1294.25 690.54 L1294.50 690.32 L1294.75 690.21 L1295.00 690.27 L1295.25 690.48 L1295.50 690.74 L1295.75 690.95 L1296.00 683.72 L1296.25 676.42 L1296.50 669.07 L1296.75 661.66 L1297.00 665.33 L1297.25 668.24 L1297.50 670.57 L1297.75 672.47 L1298.00 674.14 L1298.25 675.74 L1298.50 677.35 L1298.75 678.93 L1299.00 680.40 L1299.25 681.69 L1299.50 682.78 L1299.75 683.70 L1300.00 684.47 L1300.25 685.16 L1300.50 685.77 L1300.75 686.34 L1301.00 686.87 L1301.25 687.38 L1301.50 687.83 L1301.75 688.19 L1302.00 688.41 L1302.25 688.52 L1302.50 688.55 L1302.75 688.57 L1303.00 688.63 L1303.25 688.75 L1303.50 688.94 L1303.75 689.18 L1304.00 689.43 L1304.25 689.69 L1304.50 689.91 L1304.75 690.09 L1305.00 690.22 L1305.25 690.29 L1305.50 690.32 L1305.75 690.29 L1306.00 690.21 L1306.25 690.09 L1306.50 689.95 L1306.75 689.80 L1307.00 689.69 L1307.25 689.62 L1307.50 689.63 L1307.75 689.71 L1308.00 689.85 L1308.25 690.05 L1308.50 690.26 L1308.75 690.46 L1309.00 690.64 L1309.25 690.78 L1309.50 690.89 L1309.75 690.96 L1310.00 691.01 L1310.25 691.05 L1310.50 691.08 L1310.75 691.10 L1311.00 691.12 L1311.25 691.13 L1311.50 691.14 L1311.75 691.15 L1312.00 691.15 L1312.25 691.15 L1312.50 691.14 L1312.75 691.11 L1313.00 691.07 L1313.25 691.00 L1313.50 690.90 L1313.75 690.78 L1314.00 690.65 L1314.25 690.54 L1314.50 683.73 L1314.75 676.99 L1315.00 670.31 L1315.25 663.67 L1315.50 667.25 L1315.75 670.22 L1316.00 672.72 L1316.25 674.84 L1316.50 676.65 L1316.75 678.23 L1317.00 679.61 L1317.25 680.84 L1317.50 681.95 L1317.75 682.94 L1318.00 683.83 L1318.25 684.64 L1318.50 685.35 L1318.75 685.97 L1319.00 686.50 L1319.25 686.96 L1319.50 687.35 L1319.75 687.68 L1320.00 687.96 L1320.25 688.18 L1320.50 688.36 L1320.75 688.49 L1321.00 688.60 L1321.25 688.69 L1321.50 688.80 L1321.75 688.95 L1322.00 689.13 L1322.25 689.35 L1322.50 689.59 L1322.75 689.82 L1323.00 690.01 L1323.25 690.15 L1323.50 690.20 L1323.75 690.15 L1324.00 690.02 L1324.25 689.89 L1324.50 689.84 L1324.75 689.93 L1325.00 690.16 L1325.25 690.42 L1325.50 690.65 L1325.75 690.81 L1326.00 690.90 L1326.25 690.94 L1326.50 690.97 L1326.75 690.98 L1327.00 690.97 L1327.25 690.93 L1327.50 690.84 L1327.75 690.71 L1328.00 690.55 L1328.25 690.41 L1328.50 690.33 L1328.75 690.34 L1329.00 690.44 L1329.25 690.61 L1329.50 690.78 L1329.75 690.93 L1330.00 691.04 L1330.25 691.10 L1330.50 691.14 L1330.75 691.15 L1331.00 691.16 L1331.25 691.16 L1331.50 691.16 L1331.75 691.15 L1332.00 691.14 L1332.25 691.12 L1332.50 691.09 L1332.75 691.06 L1333.00 691.02 L1333.25 690.97 L1333.50 683.25 L1333.75 675.54 L1334.00 667.84 L1334.25 660.16 L1334.50 664.09 L1334.75 667.34 L1335.00 670.08 L1335.25 672.40 L1335.50 674.39 L1335.75 676.10 L1336.00 677.56 L1336.25 678.80 L1336.50 679.87 L1336.75 680.78 L1337.00 681.58 L1337.25 682.30 L1337.50 682.96 L1337.75 683.61 L1338.00 684.25 L1338.25 684.89 L1338.50 685.51 L1338.75 686.10 L1339.00 686.65 L1339.25 687.12 L1339.50 687.51 L1339.75 687.81 L1340.00 688.05 L1340.25 688.24 L1340.50 688.43 L1340.75 688.65 L1341.00 688.91 L1341.25 689.20 L1341.50 689.50 L1341.75 689.78 L1342.00 690.01 L1342.25 690.17 L1342.50 690.26 L1342.75 690.29 L1343.00 690.28 L1343.25 690.24 L1343.50 690.21 L1343.75 690.19 L1344.00 690.19 L1344.25 690.22 L1344.50 690.26 L1344.75 690.33 L1345.00 690.40 L1345.25 690.47 L1345.50 690.53 L1345.75 690.56 L1346.00 690.58 L1346.25 690.58 L1346.50 690.58 L1346.75 690.58 L1347.00 690.60 L1347.25 690.64 L1347.50 690.70 L1347.75 690.77 L1348.00 690.82 L1348.25 690.85 L1348.50 690.86 L1348.75 690.83 L1349.00 690.77 L1349.25 690.70 L1349.50 690.62 L1349.75 690.53 L1350.00 690.46 L1350.25 690.41 L1350.50 690.39 L1350.75 690.40 L1351.00 690.44 L1351.25 690.51 L1351.50 677.17 L1351.75 663.84 L1352.00 650.51 L1352.25 637.17 L1352.50 644.11 L1352.75 649.82 L1353.00 654.61 L1353.25 658.67 L1353.50 662.16 L1353.75 665.20 L1354.00 667.85 L1354.25 670.19 L1354.50 672.26 L1354.75 674.11 L1355.00 675.77 L1355.25 677.26 L1355.50 678.61 L1355.75 679.83 L1356.00 680.94 L1356.25 681.93 L1356.50 682.80 L1356.75 683.55 L1357.00 684.16 L1357.25 684.62 L1357.50 684.95 L1357.75 685.16 L1358.00 685.29 L1358.25 685.41 L1358.50 685.58 L1358.75 685.86 L1359.00 686.26 L1359.25 686.78 L1359.50 687.36 L1359.75 687.96 L1360.00 688.50 L1360.25 688.97 L1360.50 689.35 L1360.75 689.64 L1361.00 689.86 L1361.25 690.03 L1361.50 690.17 L1361.75 690.27 L1362.00 690.35 L1362.25 690.38 L1362.50 690.36 L1362.75 690.27 L1363.00 690.12 L1363.25 689.94 L1363.50 689.81 L1363.75 689.77 L1364.00 689.88 L1364.25 690.09 L1364.50 690.35 L1364.75 690.59 L1365.00 690.78 L1365.25 690.90 L1365.50 690.97 L1365.75 691.01 L1366.00 691.02 L1366.25 691.03 L1366.50 691.02 L1366.75 691.01 L1367.00 690.99 L1367.25 690.97 L1367.50 690.95 L1367.75 690.93 L1368.00 690.91 L1368.25 690.91 L1368.50 690.93 L1368.75 690.95 L1369.00 690.99 L1369.25 691.02 L1369.50 691.06 L1369.75 691.09 L1370.00 691.12 L1370.25 683.47 L1370.50 675.81 L1370.75 668.14 L1371.00 660.48 L1371.25 664.41 L1371.50 667.65 L1371.75 670.36 L1372.00 672.68 L1372.25 674.68 L1372.50 676.42 L1372.75 677.95 L1373.00 679.27 L1373.25 680.40 L1373.50 681.33 L1373.75 682.10 L1374.00 682.81 L1374.25 683.57 L1374.50 684.38 L1374.75 685.19 L1375.00 685.89 L1375.25 686.46 L1375.50 686.90 L1375.75 687.24 L1376.00 687.49 L1376.25 687.65 L1376.50 687.74 L1376.75 687.78 L1377.00 687.79 L1377.25 687.83 L1377.50 687.92 L1377.75 688.08 L1378.00 688.31 L1378.25 688.60 L1378.50 688.91 L1378.75 689.23 L1379.00 689.52 L1379.25 689.79 L1379.50 690.02 L1379.75 690.21 L1380.00 690.36 L1380.25 690.49 L1380.50 690.60 L1380.75 690.68 L1381.00 690.74 L1381.25 690.78 L1381.50 690.76 L1381.75 690.66 L1382.00 690.45 L1382.25 690.20 L1382.50 690.03 L1382.75 690.06 L1383.00 690.29 L1383.25 690.60 L1383.50 690.84 L1383.75 690.99 L1384.00 691.06 L1384.25 691.09 L1384.50 691.10 L1384.75 691.11 L1385.00 691.12 L1385.25 691.12 L1385.50 691.13 L1385.75 691.12 L1386.00 691.11 L1386.25 691.08 L1386.50 691.04 L1386.75 690.97 L1387.00 690.87 L1387.25 690.76 L1387.50 690.64 L1387.75 690.52 L1388.00 690.43 L1388.25 690.37 L1388.50 690.37 L1388.75 690.43 L1389.00 671.72 L1389.25 653.04 L1389.50 634.37 L1389.75 615.69 L1390.00 625.41 L1390.25 633.41 L1390.50 640.12 L1390.75 645.82 L1391.00 650.74 L1391.25 655.02 L1391.50 658.78 L1391.75 662.11 L1392.00 665.07 L1392.25 667.69 L1392.50 670.03 L1392.75 672.08 L1393.00 673.84 L1393.25 675.32 L1393.50 676.56 L1393.75 677.67 L1394.00 678.78 L1394.25 679.93 L1394.50 681.07 L1394.75 682.09 L1395.00 682.89 L1395.25 683.47 L1395.50 683.86 L1395.75 684.18 L1396.00 684.50 L1396.25 684.91 L1396.50 685.42 L1396.75 686.04 L1397.00 686.70 L1397.25 687.35 L1397.50 687.92 L1397.75 688.39 L1398.00 688.72 L1398.25 688.91 L1398.50 688.98 L1398.75 688.98 L1399.00 688.98 L1399.25 689.05 L1399.50 689.23 L1399.75 689.50 L1400.00 689.81 L1400.25 690.08 L1400.50 690.30 L1400.75 690.46 L1401.00 690.57 L1401.25 690.64 L1401.50 690.70 L1401.75 690.75 L1402.00 690.80 L1402.25 690.83 L1402.50 690.86 L1402.75 690.87 L1403.00 690.85 L1403.25 690.79 L1403.50 690.70 L1403.75 690.59 L1404.00 690.51 L1404.25 690.49 L1404.50 690.54 L1404.75 690.66 L1405.00 690.81 L1405.25 690.93 L1405.50 691.02 L1405.75 691.08 L1406.00 691.11 L1406.25 691.13 L1406.50 691.14 L1406.75 691.15 L1407.00 691.16 L1407.25 691.17 L1407.50 691.19 L1407.75 691.22 L1408.00 691.25 L1408.25 691.29 L1408.50 691.33 L1408.75 691.37 L1409.00 691.40 L1409.25 691.43 L1409.50 691.43 L1409.75 691.43 L1410.00 691.40 L1410.25 691.37 L1410.50 691.33 L1410.75 691.30 L1411.00 691.27 L1411.25 691.24 L1411.50 691.23 L1411.75 691.22 L1412.00 691.22 L1412.25 691.22 L1412.50 691.23 L1412.75 691.24 L1413.00 691.24 L1413.25 691.24 L1413.50 691.24 L1413.75 691.24 L1414.00 691.23 L1414.25 691.23 L1414.50 691.23 L1414.75 691.23 L1415.00 691.24 L1415.25 691.25 L1415.50 691.26 L1415.75 691.27 L1416.00 691.29 L1416.25 691.31 L1416.50 691.32 L1416.75 691.33 L1417.00 691.34 L1417.25 691.36 L1417.50 691.37 L1417.75 691.40 L1418.00 691.45 L1418.25 691.50 L1418.50 691.57 L1418.75 691.64 L1419.00 691.69 L1419.25 691.72 L1419.50 691.71 L1419.75 691.66 L1420.00 691.59 L1420.25 691.50 L1420.50 691.41 L1420.75 691.34 L1421.00 691.28 L1421.25 691.24 L1421.50 691.22 L1421.75 691.20 L1422.00 691.18 L1422.25 691.15 L1422.50 691.12 L1422.75 691.07 L1423.00 691.00 L1423.25 690.92 L1423.50 690.83 L1423.75 690.74 L1424.00 690.65 L1424.25 690.57 L1424.50 690.53 L1424.75 690.52 L1425.00 690.54 L1425.25 690.60 L1425.50 690.68 L1425.75 690.77 L1426.00 690.86 L1426.25 690.95 L1426.50 683.65 L1426.75 676.33 L1427.00 668.97 L1427.25 661.58 L1427.50 665.27 L1427.75 668.26 L1428.00 670.73 L1428.25 672.82 L1428.50 674.66 L1428.75 676.33 L1429.00 677.87 L1429.25 679.29 L1429.50 680.59 L1429.75 681.75 L1430.00 682.78 L1430.25 683.67 L1430.50 684.43 L1430.75 685.07 L1431.00 685.60 L1431.25 686.02 L1431.50 686.39 L1431.75 686.77 L1432.00 687.18 L1432.25 687.56 L1432.50 687.87 L1432.75 688.05 L1433.00 688.10 L1433.25 688.05 L1433.50 687.98 L1433.75 687.96 L1434.00 688.08 L1434.25 688.37 L1434.50 688.78 L1434.75 689.24 L1435.00 689.66 L1435.25 689.99 L1435.50 690.22 L1435.75 690.38 L1436.00 690.49 L1436.25 690.58 L1436.50 690.64 L1436.75 690.69 L1437.00 690.72 L1437.25 690.72 L1437.50 690.69 L1437.75 690.62 L1438.00 690.50 L1438.25 690.37 L1438.50 690.23 L1438.75 690.13 L1439.00 690.10 L1439.25 690.14 L1439.50 690.27 L1439.75 690.44 L1440.00 690.62 L1440.25 690.78 L1440.50 690.90 L1440.75 690.97 L1441.00 691.01 L1441.25 691.01 L1441.50 690.98 L1441.75 690.92 L1442.00 690.84 L1442.25 690.74 L1442.50 690.63 L1442.75 690.52 L1443.00 690.41 L1443.25 690.33 L1443.50 690.27 L1443.75 690.26 L1444.00 690.28 L1444.25 690.35 L1444.50 690.46 L1444.75 690.59 L1445.00 690.73 L1445.25 684.14 L1445.50 677.55 L1445.75 670.94 L1446.00 664.29 L1446.25 667.81 L1446.50 670.67 L1446.75 673.06 L1447.00 675.07 L1447.25 676.79 L1447.50 678.29 L1447.75 679.62 L1448.00 680.79 L1448.25 681.84 L1448.50 682.78 L1448.75 683.62 L1449.00 684.38 L1449.25 685.05 L1449.50 685.66 L1449.75 686.19 L1450.00 686.68 L1450.25 687.11 L1450.50 687.49 L1450.75 687.83 L1451.00 688.10 L1451.25 688.31 L1451.50 688.46 L1451.75 688.58 L1452.00 688.67 L1452.25 688.77 L1452.50 688.87 L1452.75 688.98 L1453.00 689.08 L1453.25 689.14 L1453.50 689.15 L1453.75 689.12 L1454.00 689.10 L1454.25 689.13 L1454.50 689.25 L1454.75 689.46 L1455.00 689.74 L1455.25 690.04 L1455.50 690.32 L1455.75 690.53 L1456.00 690.69 L1456.25 690.80 L1456.50 690.86 L1456.75 690.90 L1457.00 690.92 L1457.25 690.92 L1457.50 690.91 L1457.75 690.90 L1458.00 690.88 L1458.25 690.88 L1458.50 690.88 L1458.75 690.90 L1459.00 690.94 L1459.25 690.98 L1459.50 691.02 L1459.75 691.06 L1460.00 691.09 L1460.25 691.12 L1460.50 691.13 L1460.75 691.14 L1461.00 691.15 L1461.25 691.16 L1461.50 691.16 L1461.75 691.16 L1462.00 691.16 L1462.25 691.16 L1462.50 691.16 L1462.75 691.15 L1463.00 691.15 L1463.25 691.14 L1463.50 684.52 L1463.75 677.91 L1464.00 671.29 L1464.25 664.68 L1464.50 668.07 L1464.75 670.86 L1465.00 673.20 L1465.25 675.18 L1465.50 676.89 L1465.75 678.37 L1466.00 679.66 L1466.25 680.78 L1466.50 681.77 L1466.75 682.64 L1467.00 683.41 L1467.25 684.11 L1467.50 684.73 L1467.75 685.31 L1468.00 685.83 L1468.25 686.31 L1468.50 686.74 L1468.75 687.09 L1469.00 687.35 L1469.25 687.51 L1469.50 687.57 L1469.75 687.58 L1470.00 687.59 L1470.25 687.67 L1470.50 687.87 L1470.75 688.18 L1471.00 688.58 L1471.25 688.99 L1471.50 689.38 L1471.75 689.72 L1472.00 689.98 L1472.25 690.17 L1472.50 690.30 L1472.75 690.37 L1473.00 690.39 L1473.25 690.37 L1473.50 690.31 L1473.75 690.23 L1474.00 690.13 L1474.25 690.05 L1474.50 689.99 L1474.75 689.98 L1475.00 690.02 L1475.25 690.11 L1475.50 690.24 L1475.75 690.40 L1476.00 690.56 L1476.25 690.70 L1476.50 690.82 L1476.75 690.91 L1477.00 690.95 L1477.25 690.92 L1477.50 690.79 L1477.75 690.57 L1478.00 690.33 L1478.25 690.15 L1478.50 690.14 L1478.75 690.31 L1479.00 690.57 L1479.25 690.83 L1479.50 691.01 L1479.75 691.10 L1480.00 691.15 L1480.25 691.16 L1480.50 691.17 L1480.75 691.16 L1481.00 691.16 L1481.25 691.14 L1481.50 691.12 L1481.75 691.10 L1482.00 685.08 L1482.25 679.06 L1482.50 673.04 L1482.75 667.04 L1483.00 670.10 L1483.25 672.64 L1483.50 674.78 L1483.75 676.62 L1484.00 678.21 L1484.25 679.61 L1484.50 680.83 L1484.75 681.90 L1485.00 682.86 L1485.25 683.70 L1485.50 684.45 L1485.75 685.11 L1486.00 685.69 L1486.25 686.19 L1486.50 686.61 L1486.75 686.95 L1487.00 687.22 L1487.25 687.42 L1487.50 687.56 L1487.75 687.66 L1488.00 687.75 L1488.25 687.84 L1488.50 687.95 L1488.75 688.11 L1489.00 688.32 L1489.25 688.59 L1489.50 688.90 L1489.75 689.23 L1490.00 689.56 L1490.25 689.86 L1490.50 690.12 L1490.75 690.33 L1491.00 690.49 L1491.25 690.62 L1491.50 690.71 L1491.75 690.77 L1492.00 690.82 L1492.25 690.85 L1492.50 690.88 L1492.75 690.90 L1493.00 690.93 L1493.25 690.95 L1493.50 690.97 L1493.75 690.99 L1494.00 691.01 L1494.25 691.02 L1494.50 691.03 L1494.75 691.04 L1495.00 691.03 L1495.25 690.99 L1495.50 690.91 L1495.75 690.80 L1496.00 690.64 L1496.25 690.46 L1496.50 690.30 L1496.75 690.19 L1497.00 690.17 L1497.25 690.25 L1497.50 690.40 L1497.75 690.58 L1498.00 690.77 L1498.25 690.92 L1498.50 691.03 L1498.75 691.10 L1499.00 691.14 L1499.25 691.16 L1499.50 691.16 L1499.75 691.14 L1500.00 691.13 L1500.25 691.12 L1500.50 691.12 L1500.75 685.14 L1501.00 679.17 L1501.25 673.21 L1501.50 667.23 L1501.75 670.31 L1502.00 672.84 L1502.25 674.96 L1502.50 676.78 L1502.75 678.36 L1503.00 679.75 L1503.25 680.97 L1503.50 682.06 L1503.75 683.03 L1504.00 683.89 L1504.25 684.63 L1504.50 685.27 L1504.75 685.81 L1505.00 686.26 L1505.25 686.64 L1505.50 686.94 L1505.75 687.19 L1506.00 687.38 L1506.25 687.52 L1506.50 687.61 L1506.75 687.67 L1507.00 687.72 L1507.25 687.77 L1507.50 687.85 L1507.75 687.99 L1508.00 688.19 L1508.25 688.46 L1508.50 688.76 L1508.75 689.08 L1509.00 689.38 L1509.25 689.63 L1509.50 689.82 L1509.75 689.95 L1510.00 690.03 L1510.25 690.07 L1510.50 690.09 L1510.75 690.11 L1511.00 690.14 L1511.25 690.18 L1511.50 690.24 L1511.75 690.32 L1512.00 690.42 L1512.25 690.52 L1512.50 690.63 L1512.75 690.74 L1513.00 690.85 L1513.25 690.96 L1513.50 691.07 L1513.75 691.19 L1514.00 691.29 L1514.25 691.37 L1514.50 691.41 L1514.75 691.40 L1515.00 691.34 L1515.25 691.27 L1515.50 691.18 L1515.75 691.08 L1516.00 690.96 L1516.25 690.83 L1516.50 690.69 L1516.75 690.57 L1517.00 690.48 L1517.25 690.45 L1517.50 690.49 L1517.75 690.60 L1518.00 690.73 L1518.25 690.87 L1518.50 690.98 L1518.75 691.06 L1519.00 691.08 L1519.25 691.05 L1519.50 679.41 L1519.75 667.70 L1520.00 655.96 L1520.25 644.21 L1520.50 650.00 L1520.75 654.85 L1521.00 659.04 L1521.25 662.71 L1521.50 665.93 L1521.75 668.73 L1522.00 671.16 L1522.25 673.27 L1522.50 675.12 L1522.75 676.76 L1523.00 678.21 L1523.25 679.51 L1523.50 680.67 L1523.75 681.70 L1524.00 682.62 L1524.25 683.42 L1524.50 684.10 L1524.75 684.65 L1525.00 685.09 L1525.25 685.43 L1525.50 685.68 L1525.75 685.88 L1526.00 686.08 L1526.25 686.31 L1526.50 686.61 L1526.75 686.97 L1527.00 687.40 L1527.25 687.87 L1527.50 688.35 L1527.75 688.79 L1528.00 689.18 L1528.25 689.49 L1528.50 689.74 L1528.75 689.94 L1529.00 690.08 L1529.25 690.20 L1529.50 690.29 L1529.75 690.37 L1530.00 690.43 L1530.25 690.48 L1530.50 690.53 L1530.75 690.58 L1531.00 690.62 L1531.25 690.67 L1531.50 690.71 L1531.75 690.76 L1532.00 690.80 L1532.25 690.85 L1532.50 690.89 L1532.75 690.93 L1533.00 690.96 L1533.25 690.99 L1533.50 691.02 L1533.75 691.04 L1534.00 691.05 L1534.25 691.06 L1534.50 691.06 L1534.75 691.05 L1535.00 691.04 L1535.25 691.01 L1535.50 690.97 L1535.75 690.92 L1536.00 690.86 L1536.25 690.81 L1536.50 690.78 L1536.75 690.76 L1537.00 690.76 L1537.25 690.79 L1537.50 690.83 L1537.75 690.89 L1538.00 690.95 L1538.25 680.21 L1538.50 669.46 L1538.75 658.70 L1539.00 647.93 L1539.25 653.48 L1539.50 658.04 L1539.75 661.86 L1540.00 665.11 L1540.25 667.89 L1540.50 670.31 L1540.75 672.41 L1541.00 674.24 L1541.25 675.84 L1541.50 677.24 L1541.75 678.48 L1542.00 679.58 L1542.25 680.59 L1542.50 681.51 L1542.75 682.38 L1543.00 683.19 L1543.25 683.96 L1543.50 684.67 L1543.75 685.30 L1544.00 685.84 L1544.25 686.27 L1544.50 686.61 L1544.75 686.86 L1545.00 687.07 L1545.25 687.27 L1545.50 687.50 L1545.75 687.77 L1546.00 688.07 L1546.25 688.36 L1546.50 688.62 L1546.75 688.82 L1547.00 688.95 L1547.25 689.02 L1547.50 689.05 L1547.75 689.07 L1548.00 689.12 L1548.25 689.21 L1548.50 689.35 L1548.75 689.53 L1549.00 689.74 L1549.25 689.96 L1549.50 690.17 L1549.75 690.37 L1550.00 690.53 L1550.25 690.67 L1550.50 690.77 L1550.75 690.85 L1551.00 690.91 L1551.25 690.95 L1551.50 690.98 L1551.75 691.01 L1552.00 691.03 L1552.25 691.04 L1552.50 691.06 L1552.75 691.07 L1553.00 691.08 L1553.25 691.08 L1553.50 691.09 L1553.75 691.09 L1554.00 691.10 L1554.25 691.11 L1554.50 691.12 L1554.75 691.13 L1555.00 691.14 L1555.25 691.14 L1555.50 691.15 L1555.75 691.16 L1556.00 691.16 L1556.25 691.17 L1556.50 691.17 L1556.75 691.17 L1557.00 691.16 L1557.25 691.15 L1557.50 691.14 L1557.75 691.11 L1558.00 691.08 L1558.25 691.06 L1558.50 691.03 L1558.75 691.03 L1559.00 691.03 L1559.25 691.04 L1559.50 691.04 L1559.75 691.01 L1560.00 690.94 L1560.25 690.81 L1560.50 690.61 L1560.75 690.38 L1561.00 690.17 L1561.25 690.01 L1561.50 689.97 L1561.75 690.06 L1562.00 690.24 L1562.25 690.48 L1562.50 690.71 L1562.75 690.90 L1563.00 691.03 L1563.25 691.11 L1563.50 691.15 L1563.75 691.14 L1564.00 691.08 L1564.25 690.95 L1564.50 690.75 L1564.75 690.50 L1565.00 690.26 L1565.25 690.11 L1565.50 690.12 L1565.75 690.28 L1566.00 690.52 L1566.25 690.78 L1566.50 690.97 L1566.75 691.09 L1567.00 691.16 L1567.25 691.19 L1567.50 691.20 L1567.75 691.20 L1568.00 691.20 L1568.25 691.20 L1568.50 691.20 L1568.75 691.20 L1569.00 691.20 L1569.25 691.20 L1569.50 691.20 L1569.75 691.21 L1570.00 691.22 L1570.25 691.25 L1570.50 691.31 L1570.75 691.38 L1571.00 691.45 L1571.25 691.47 L1571.50 691.43 L1571.75 691.35 L1572.00 691.27 L1572.25 691.21 L1572.50 691.18 L1572.75 691.16 L1573.00 691.14 L1573.25 691.12 L1573.50 691.10 L1573.75 691.09 L1574.00 691.07 L1574.25 691.06 L1574.50 691.05 L1574.75 691.05 L1575.00 691.06 L1575.25 685.71 L1575.50 680.36 L1575.75 675.02 L1576.00 669.67 L1576.25 672.44 L1576.50 674.71 L1576.75 676.62 L1577.00 678.25 L1577.25 679.65 L1577.50 680.87 L1577.75 681.94 L1578.00 682.87 L1578.25 683.68 L1578.50 684.37 L1578.75 684.95 L1579.00 685.43 L1579.25 685.82 L1579.50 686.15 L1579.75 686.46 L1580.00 686.77 L1580.25 687.11 L1580.50 687.48 L1580.75 687.86 L1581.00 688.22 L1581.25 688.54 L1581.50 688.80 L1581.75 688.99 L1582.00 689.14 L1582.25 689.27 L1582.50 689.41 L1582.75 689.58 L1583.00 689.76 L1583.25 689.96 L1583.50 690.16 L1583.75 690.34 L1584.00 690.49 L1584.25 690.60 L1584.50 690.69 L1584.75 690.76 L1585.00 690.81 L1585.25 690.85 L1585.50 690.88 L1585.75 690.91 L1586.00 690.93 L1586.25 690.95 L1586.50 690.97 L1586.75 690.99 L1587.00 691.00 L1587.25 691.02 L1587.50 691.03 L1587.75 691.04 L1588.00 691.05 L1588.25 691.06 L1588.50 691.07 L1588.75 691.07 L1589.00 691.08 L1589.25 691.08 L1589.50 691.08 L1589.75 691.08 L1590.00 691.08 L1590.25 691.08 L1590.50 691.09 L1590.75 691.09 L1591.00 691.10 L1591.25 691.12 L1591.50 691.15 L1591.75 691.19 L1592.00 691.25 L1592.25 691.31 L1592.50 691.37 L1592.75 691.41 L1593.00 691.41 L1593.25 691.38 L1593.50 691.33 L1593.75 691.28 L1594.00 691.23 L1594.25 691.20 L1594.50 691.16 L1594.75 691.13 L1595.00 691.08 L1595.25 691.02 L1595.50 690.97 L1595.75 690.94 L1596.00 690.94 L1596.25 690.98 L1596.50 691.03 L1596.75 691.09 L1597.00 691.13 L1597.25 691.16 L1597.50 691.18 L1597.75 691.20 L1598.00 691.21 L1598.25 691.22 L1598.50 691.23 L1598.75 691.24 L1599.00 691.25 L1599.25 691.26 L1599.50 691.25 L1599.75 691.24 L1600.00 691.23 L1600.25 691.22 L1600.50 691.21 L1600.75 691.20 L1601.00 691.20 L1601.25 691.20 L1601.50 691.20 L1601.75 691.19 L1602.00 691.19 L1602.25 691.18 L1602.50 691.17 L1602.75 691.15 L1603.00 691.13 L1603.25 691.11 L1603.50 691.10 L1603.75 691.09 L1604.00 691.10 L1604.25 691.12 L1604.50 691.14 L1604.75 691.16 L1605.00 691.17 L1605.25 691.19 L1605.50 691.19 L1605.75 691.20 L1606.00 691.20 L1606.25 691.20 L1606.50 691.20 L1606.75 691.20 L1607.00 691.21 L1607.25 691.22 L1607.50 691.25 L1607.75 691.30 L1608.00 691.38 L1608.25 691.48 L1608.50 691.56 L1608.75 691.59 L1609.00 691.56 L1609.25 691.47 L1609.50 691.38 L1609.75 691.30 L1610.00 691.25 L1610.25 691.22 L1610.50 691.20 L1610.75 691.20 L1611.00 691.20 L1611.25 691.19 L1611.50 691.18 L1611.75 691.17 L1612.00 691.16 L1612.25 691.14 L1612.50 691.11 L1612.75 680.59 L1613.00 670.06 L1613.25 659.54 L1613.50 649.01 L1613.75 654.34 L1614.00 658.74 L1614.25 662.43 L1614.50 665.58 L1614.75 668.30 L1615.00 670.67 L1615.25 672.75 L1615.50 674.59 L1615.75 676.21 L1616.00 677.66 L1616.25 678.95 L1616.50 680.12 L1616.75 681.19 L1617.00 682.16 L1617.25 683.04 L1617.50 683.83 L1617.75 684.54 L1618.00 685.14 L1618.25 685.63 L1618.50 686.00 L1618.75 686.25 L1619.00 686.38 L1619.25 686.45 L1619.50 686.51 L1619.75 686.61 L1620.00 686.80 L1620.25 687.11 L1620.50 687.53 L1620.75 688.02 L1621.00 688.51 L1621.25 688.97 L1621.50 689.34 L1621.75 689.62 L1622.00 689.78 L1622.25 689.83 L1622.50 689.79 L1622.75 689.67 L1623.00 689.51 L1623.25 689.39 L1623.50 689.34 L1623.75 689.41 L1624.00 689.59 L1624.25 689.84 L1624.50 690.13 L1624.75 690.39 L1625.00 690.61 L1625.25 690.76 L1625.50 690.86 L1625.75 690.90 L1626.00 690.90 L1626.25 690.87 L1626.50 690.79 L1626.75 690.68 L1627.00 690.58 L1627.25 690.50 L1627.50 690.48 L1627.75 690.52 L1628.00 690.62 L1628.25 690.75 L1628.50 690.88 L1628.75 690.99 L1629.00 691.06 L1629.25 691.11 L1629.50 691.14 L1629.75 691.15 L1630.00 691.15 L1630.25 691.15 L1630.50 691.14 L1630.75 691.12 L1631.00 691.09 L1631.25 691.04 L1631.50 690.97 L1631.75 690.89 L1632.00 690.80 L1632.25 690.71 L1632.50 690.65 L1632.75 690.62 L1633.00 690.62 L1633.25 690.66 L1633.50 690.73 L1633.75 690.82 L1634.00 690.91 L1634.25 691.00 L1634.50 691.06 L1634.75 691.12 L1635.00 691.15 L1635.25 691.17 L1635.50 691.18 L1635.75 691.19 L1636.00 691.19 L1636.25 691.20 L1636.50 691.20 L1636.75 691.20 L1637.00 691.20 L1637.25 691.20 L1637.50 691.20 L1637.75 691.20 L1638.00 691.20" fill="none" stroke="#1e1e1e" stroke-width="1.05" stroke-linejoin="round"/>
<path d="M998.93 615.50 V653.35" stroke="#0a0a0a" stroke-width="1.7"/>
<path d="M1018.18 653.00 V672.10" stroke="#0a0a0a" stroke-width="1.7"/>
<path d="M1036.43 589.75 V640.48" stroke="#0a0a0a" stroke-width="1.7"/>
<path d="M1073.18 657.25 V674.23" stroke="#0a0a0a" stroke-width="1.7"/>
<path d="M1110.18 623.00 V657.10" stroke="#0a0a0a" stroke-width="1.7"/>
<path d="M1129.43 654.75 V672.98" stroke="#0a0a0a" stroke-width="1.7"/>
<path d="M1148.43 624.75 V657.98" stroke="#0a0a0a" stroke-width="1.7"/>
<path d="M1166.43 656.00 V673.60" stroke="#0a0a0a" stroke-width="1.7"/>
<path d="M1221.93 657.50 V674.35" stroke="#0a0a0a" stroke-width="1.7"/>
<path d="M1240.43 655.50 V673.35" stroke="#0a0a0a" stroke-width="1.7"/>
<path d="M1259.18 636.75 V663.98" stroke="#0a0a0a" stroke-width="1.7"/>
<path d="M1277.93 659.75 V675.48" stroke="#0a0a0a" stroke-width="1.7"/>
<path d="M1296.93 661.75 V676.48" stroke="#0a0a0a" stroke-width="1.7"/>
<path d="M1315.43 664.25 V677.73" stroke="#0a0a0a" stroke-width="1.7"/>
<path d="M1334.43 660.50 V675.85" stroke="#0a0a0a" stroke-width="1.7"/>
<path d="M1352.43 637.50 V664.35" stroke="#0a0a0a" stroke-width="1.7"/>
<path d="M1371.18 660.50 V675.85" stroke="#0a0a0a" stroke-width="1.7"/>
<path d="M1389.93 616.00 V653.60" stroke="#0a0a0a" stroke-width="1.7"/>
<path d="M1427.43 661.75 V676.48" stroke="#0a0a0a" stroke-width="1.7"/>
<path d="M1446.18 664.25 V677.73" stroke="#0a0a0a" stroke-width="1.7"/>
<path d="M1464.43 664.75 V677.98" stroke="#0a0a0a" stroke-width="1.7"/>
<path d="M1482.93 667.25 V679.23" stroke="#0a0a0a" stroke-width="1.7"/>
<path d="M1501.68 667.25 V679.23" stroke="#0a0a0a" stroke-width="1.7"/>
<path d="M1520.43 645.00 V668.10" stroke="#0a0a0a" stroke-width="1.7"/>
<path d="M1539.18 648.00 V669.60" stroke="#0a0a0a" stroke-width="1.7"/>
<path d="M1576.18 669.75 V680.48" stroke="#0a0a0a" stroke-width="1.7"/>
<path d="M1613.68 649.25 V670.23" stroke="#0a0a0a" stroke-width="1.7"/>
<g font-family="'Liberation Sans', sans-serif" font-size="11.8" fill="#1c1c1c" stroke="#1c1c1c" stroke-width="0.35" text-anchor="middle">
<path d="M930.30 694.70 v3" stroke="#222" stroke-width="1.8"/>
<text x="929.50" y="711.50">E</text>
<path d="M951.55 694.70 v3" stroke="#222" stroke-width="1.8"/>
<text x="950.75" y="711.50">S</text>
<path d="M979.55 694.70 v3" stroke="#222" stroke-width="1.8"/>
<text x="978.75" y="711.50">G</text>
<path d="M998.18 694.70 v3" stroke="#222" stroke-width="1.8"/>
<text x="997.38" y="711.50">T</text>
<path d="M1016.81 694.70 v3" stroke="#222" stroke-width="1.8"/>
<text x="1016.01" y="711.50">A</text>
<path d="M1035.44 694.70 v3" stroke="#222" stroke-width="1.8"/>
<text x="1034.64" y="711.50">G</text>
<path d="M1054.07 694.70 v3" stroke="#222" stroke-width="1.8"/>
<text x="1053.27" y="711.50">C</text>
<path d="M1072.70 694.70 v3" stroke="#222" stroke-width="1.8"/>
<text x="1071.90" y="711.50">T</text>
<path d="M1091.33 694.70 v3" stroke="#222" stroke-width="1.8"/>
<text x="1090.53" y="711.50">A</text>
<path d="M1109.96 694.70 v3" stroke="#222" stroke-width="1.8"/>
<text x="1109.16" y="711.50">G</text>
<path d="M1128.59 694.70 v3" stroke="#222" stroke-width="1.8"/>
<text x="1127.79" y="711.50">A</text>
<path d="M1147.22 694.70 v3" stroke="#222" stroke-width="1.8"/>
<text x="1146.42" y="711.50">G</text>
<path d="M1165.85 694.70 v3" stroke="#222" stroke-width="1.8"/>
<text x="1165.05" y="711.50">A</text>
<path d="M1184.48 694.70 v3" stroke="#222" stroke-width="1.8"/>
<text x="1183.68" y="711.50">C</text>
<path d="M1203.11 694.70 v3" stroke="#222" stroke-width="1.8"/>
<text x="1202.31" y="711.50">T</text>
<path d="M1221.74 694.70 v3" stroke="#222" stroke-width="1.8"/>
<text x="1220.94" y="711.50">G</text>
<path d="M1240.37 694.70 v3" stroke="#222" stroke-width="1.8"/>
<text x="1239.57" y="711.50">A</text>
<path d="M1259.00 694.70 v3" stroke="#222" stroke-width="1.8"/>
<text x="1258.20" y="711.50">T</text>
<path d="M1277.63 694.70 v3" stroke="#222" stroke-width="1.8"/>
<text x="1276.83" y="711.50">G</text>
<path d="M1296.26 694.70 v3" stroke="#222" stroke-width="1.8"/>
<text x="1295.46" y="711.50">C</text>
<path d="M1314.89 694.70 v3" stroke="#222" stroke-width="1.8"/>
<text x="1314.09" y="711.50">T</text>
<path d="M1333.52 694.70 v3" stroke="#222" stroke-width="1.8"/>
<text x="1332.72" y="711.50">A</text>
<path d="M1352.15 694.70 v3" stroke="#222" stroke-width="1.8"/>
<text x="1351.35" y="711.50">G</text>
<path d="M1370.78 694.70 v3" stroke="#222" stroke-width="1.8"/>
<text x="1369.98" y="711.50">A</text>
<path d="M1389.41 694.70 v3" stroke="#222" stroke-width="1.8"/>
<text x="1388.61" y="711.50">G</text>
<path d="M1408.04 694.70 v3" stroke="#222" stroke-width="1.8"/>
<text x="1407.24" y="711.50">G</text>
<path d="M1426.67 694.70 v3" stroke="#222" stroke-width="1.8"/>
<text x="1425.87" y="711.50">T</text>
<path d="M1445.30 694.70 v3" stroke="#222" stroke-width="1.8"/>
<text x="1444.50" y="711.50">G</text>
<path d="M1463.93 694.70 v3" stroke="#222" stroke-width="1.8"/>
<text x="1463.13" y="711.50">A</text>
<path d="M1482.56 694.70 v3" stroke="#222" stroke-width="1.8"/>
<text x="1481.76" y="711.50">G</text>
<path d="M1501.19 694.70 v3" stroke="#222" stroke-width="1.8"/>
<text x="1500.39" y="711.50">T</text>
<path d="M1519.82 694.70 v3" stroke="#222" stroke-width="1.8"/>
<text x="1519.02" y="711.50">A</text>
<path d="M1538.45 694.70 v3" stroke="#222" stroke-width="1.8"/>
<text x="1537.65" y="711.50">G</text>
<path d="M1557.08 694.70 v3" stroke="#222" stroke-width="1.8"/>
<text x="1556.28" y="711.50">A</text>
<path d="M1575.71 694.70 v3" stroke="#222" stroke-width="1.8"/>
<text x="1574.91" y="711.50">T</text>
<path d="M1594.34 694.70 v3" stroke="#222" stroke-width="1.8"/>
<text x="1593.54" y="711.50">C</text>
<path d="M1612.97 694.70 v3" stroke="#222" stroke-width="1.8"/>
<text x="1612.17" y="711.50">G</text>
<text x="1053.27" y="723.20" letter-spacing="-0.6">5</text>
<text x="1146.42" y="723.20" letter-spacing="-0.6">10</text>
<text x="1239.57" y="723.20" letter-spacing="-0.6">15</text>
<text x="1332.72" y="723.20" letter-spacing="-0.6">20</text>
<text x="1425.87" y="723.20" letter-spacing="-0.6">25</text>
<text x="1519.02" y="723.20" letter-spacing="-0.6">30</text>
<text x="1612.17" y="723.20" letter-spacing="-0.6">35</text>
</g>
<rect x="1645.6" y="493" width="1.2" height="1.2" fill="#bbb"/>
</svg></body></html>
